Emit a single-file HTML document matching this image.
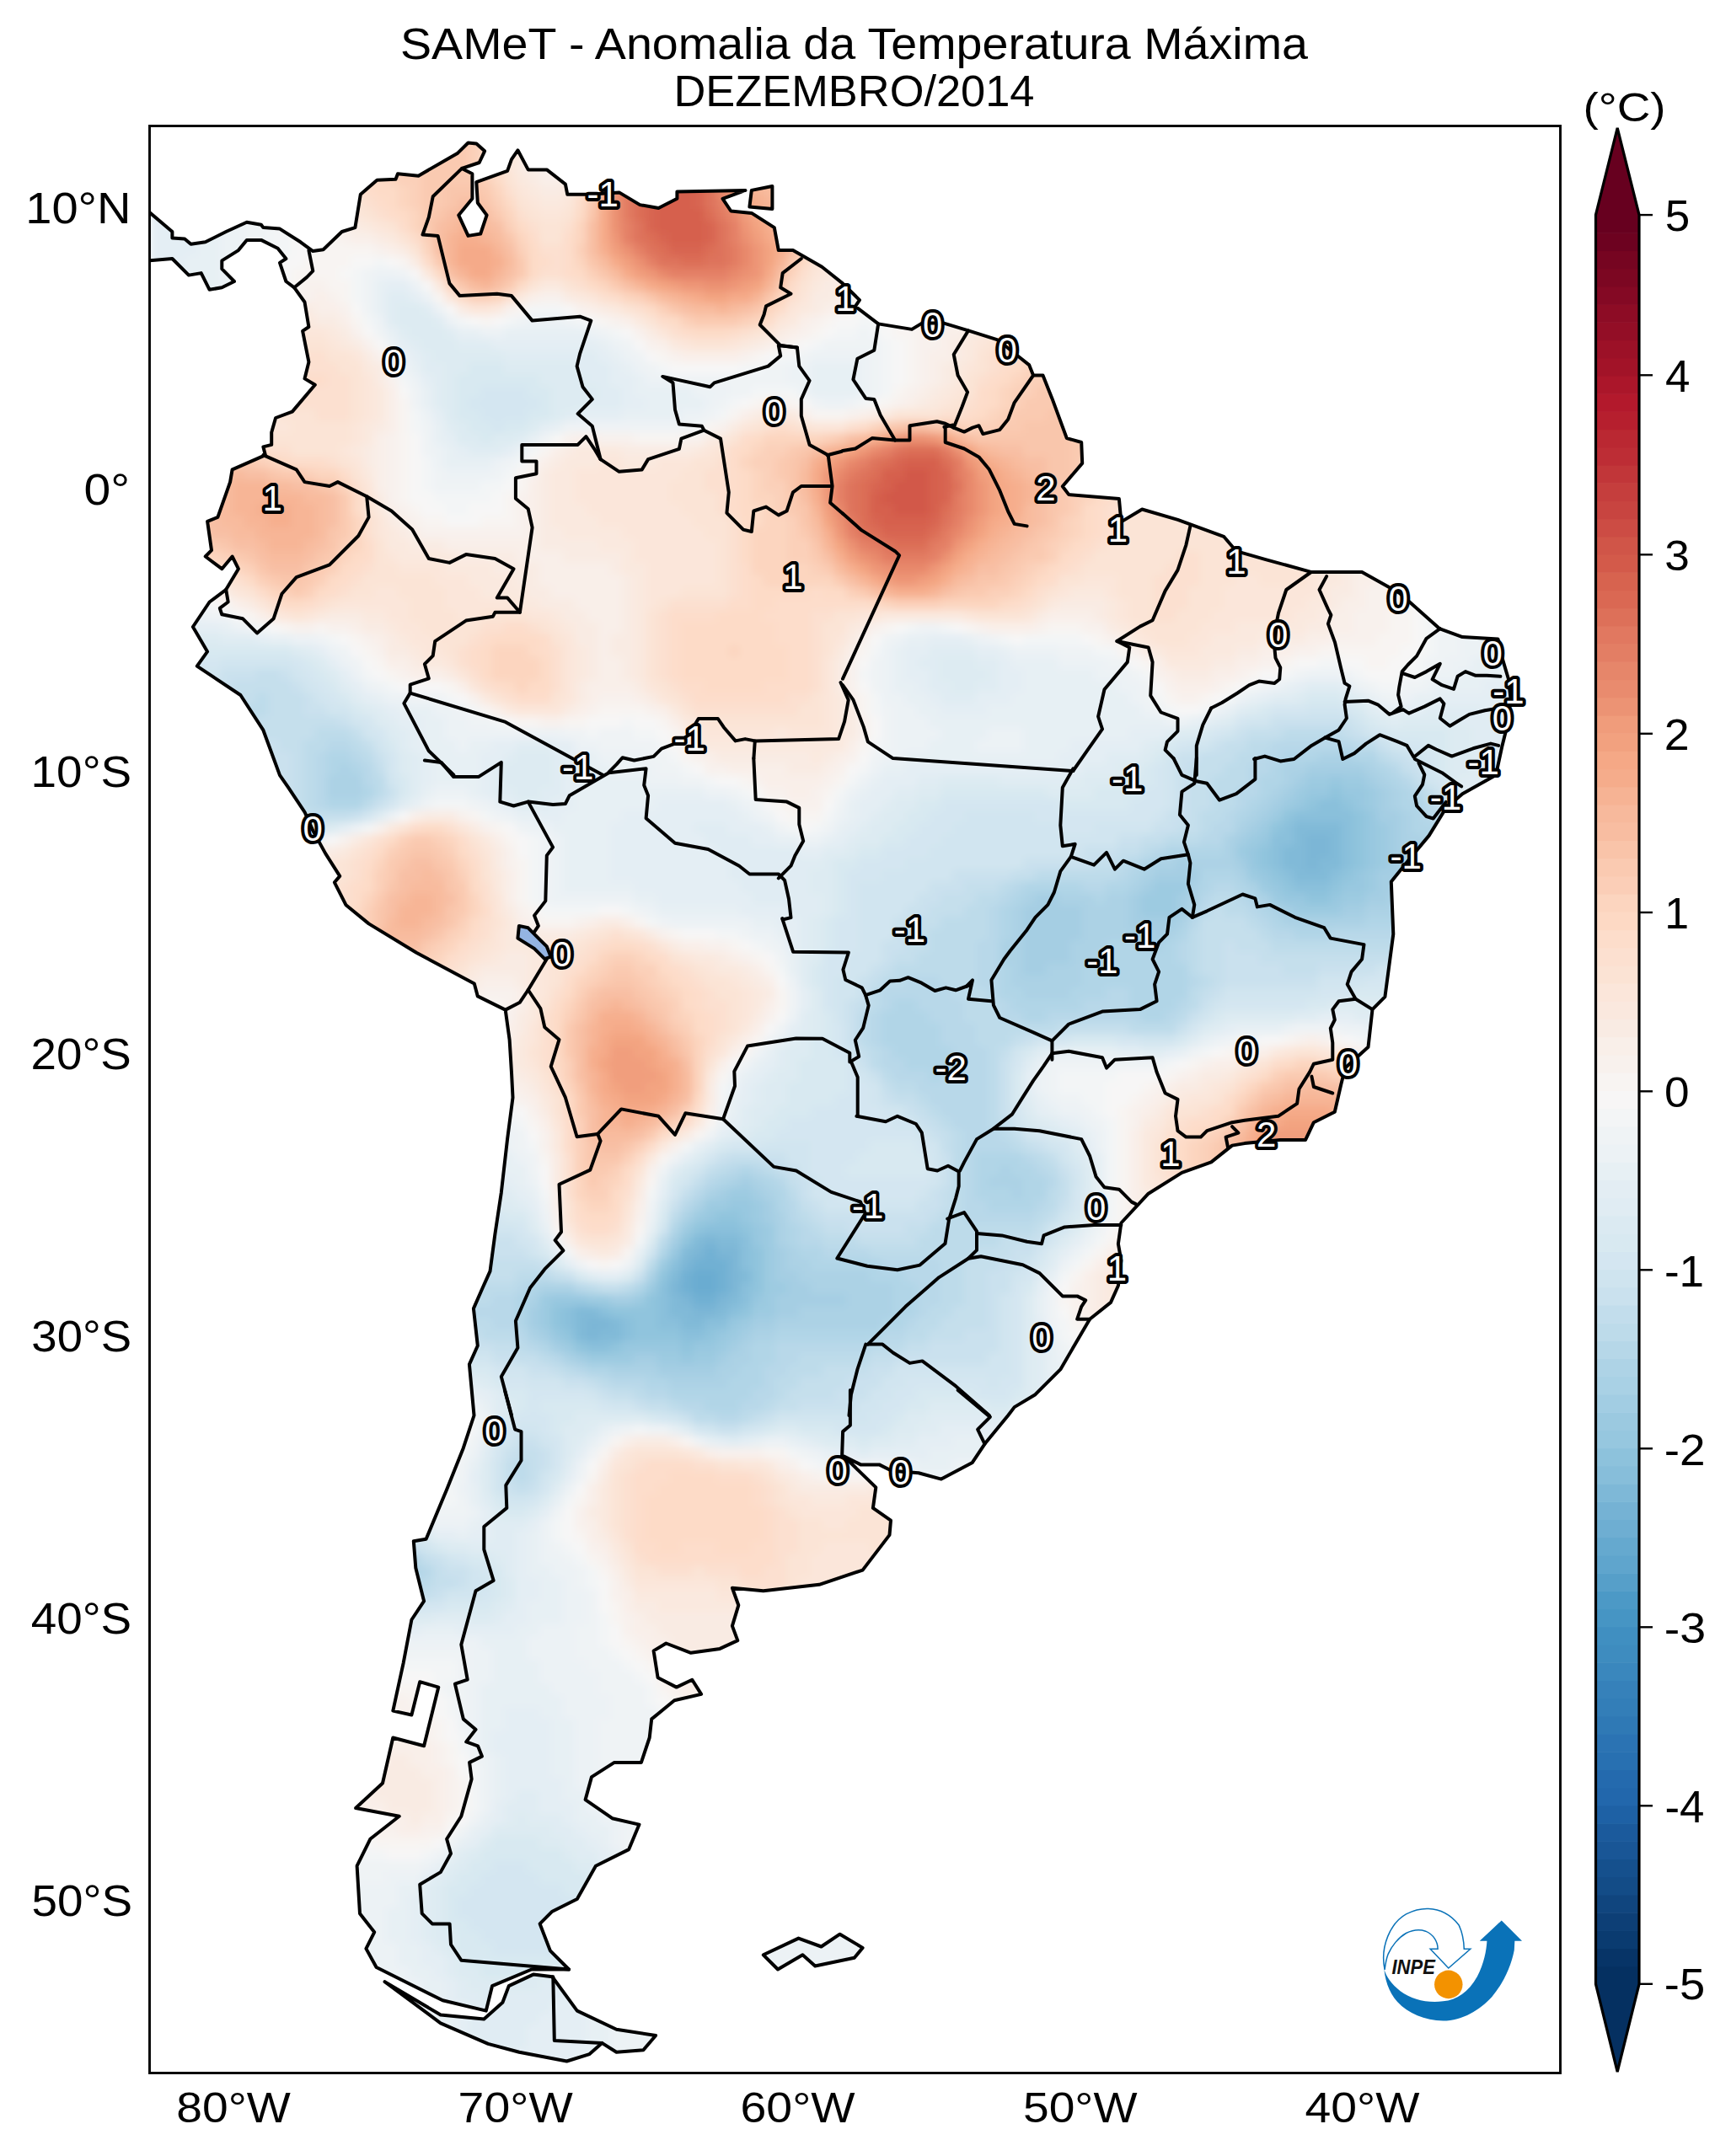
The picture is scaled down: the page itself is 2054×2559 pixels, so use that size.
<!DOCTYPE html><html><head><meta charset="utf-8"><style>html,body{margin:0;padding:0;background:#fff;overflow:hidden}svg{display:block}</style></head><body>
<svg width="2054" height="2559" viewBox="0 0 2054 2559">
<style>text{font-family:"Liberation Sans",sans-serif}</style>
<defs>
<clipPath id="fr"><rect x="178" y="150" width="1673" height="2310"/></clipPath>
<clipPath id="land"><path d="M120.0,309.4 L177.4,252.0 L204.4,275.0 L204.4,282.4 L219.1,283.4 L226.5,289.8 L243.7,287.3 L268.2,275.0 L292.8,263.7 L309.9,266.7 L312.4,270.1 L332.0,271.6 L356.6,287.3 L371.3,298.1 L383.6,296.2 L405.7,275.0 L421.4,270.1 L427.8,230.8 L447.4,213.7 L469.5,212.7 L472.0,206.3 L496.5,208.7 L543.2,181.7 L555.5,169.5 L565.3,170.4 L575.1,179.3 L568.7,193.0 L548.1,199.9 L560.4,206.3 L560.4,235.8 L544.2,255.4 L555.5,279.9 L570.2,277.5 L577.6,255.4 L566.8,240.7 L565.3,216.1 L602.1,202.9 L607.0,189.1 L614.4,178.3 L626.7,201.4 L648.8,201.4 L670.9,218.6 L673.3,230.8 L697.9,230.8 L734.7,228.4 L759.3,243.1 L781.4,247.0 L803.4,235.8 L803.4,227.4 L884.5,225.9 L857.5,235.8 L867.3,250.5 L891.8,252.9 L918.8,270.1 L923.8,297.1 L940.9,297.1 L975.3,316.8 L999.9,336.4 L1020.0,356.1 L1014.9,363.6 L1042.2,384.4 L1082.0,390.9 L1094.4,383.4 L1119.2,383.4 L1149.0,392.4 L1183.8,403.3 L1208.7,423.2 L1221.1,433.1 L1226.1,445.5 L1237.5,445.5 L1248.4,472.9 L1265.8,520.1 L1283.2,525.0 L1284.2,549.9 L1260.8,577.2 L1268.3,587.1 L1327.9,592.1 L1330.4,619.4 L1355.2,604.5 L1397.5,616.9 L1452.1,636.8 L1467.0,654.2 L1501.8,664.1 L1556.4,679.1 L1616.1,679.1 L1660.8,703.9 L1708.0,746.1 L1735.3,756.1 L1777.5,758.5 L1782.5,780.9 L1789.9,805.7 L1792.4,828.1 L1789.9,855.4 L1782.5,885.2 L1775.0,920.0 L1735.3,942.2 L1715.4,959.6 L1695.6,991.9 L1670.7,1021.7 L1650.8,1046.6 L1653.3,1108.7 L1643.4,1183.2 L1628.5,1198.1 L1623.5,1242.8 L1596.2,1267.6 L1591.2,1287.5 L1583.8,1319.8 L1558.9,1332.2 L1549.0,1353.1 L1519.2,1353.1 L1476.9,1357.1 L1462.0,1359.6 L1437.2,1379.4 L1402.4,1391.9 L1362.7,1416.7 L1330.4,1451.5 L1326.9,1476.3 L1330.4,1496.2 L1326.9,1526.0 L1318.0,1545.9 L1293.1,1565.7 L1258.3,1625.4 L1228.5,1655.2 L1203.7,1670.1 L1196.2,1680.0 L1168.5,1713.8 L1153.8,1735.9 L1116.9,1755.6 L1089.9,1748.2 L1058.0,1745.8 L1043.3,1738.4 L1021.2,1738.4 L1001.5,1728.6 L1039.3,1765.4 L1035.9,1789.9 L1057.0,1804.7 L1055.5,1821.9 L1023.6,1863.6 L972.1,1880.8 L905.8,1888.2 L868.9,1884.7 L876.3,1905.3 L868.9,1929.9 L875.3,1947.1 L854.2,1956.9 L819.8,1961.8 L790.4,1950.5 L775.6,1959.4 L780.6,1991.3 L802.7,2002.6 L821.3,1993.7 L832.1,2010.9 L800.2,2018.3 L773.2,2040.4 L770.7,2062.5 L760.9,2091.9 L729.0,2091.9 L702.0,2109.1 L694.6,2136.1 L726.5,2158.2 L758.5,2165.6 L746.2,2195.1 L706.9,2214.7 L684.8,2254.0 L655.3,2268.7 L640.6,2283.4 L652.9,2315.4 L675.0,2337.5 L630.8,2337.5 L584.1,2357.1 L576.8,2386.6 L525.2,2374.3 L446.6,2335.0 L434.4,2312.9 L444.2,2293.3 L427.0,2271.2 L423.6,2214.7 L439.3,2182.8 L473.7,2155.8 L422.1,2146.0 L454.0,2116.5 L466.3,2062.5 L503.1,2072.3 L520.3,2002.6 L498.2,1996.2 L488.4,2035.5 L466.3,2030.6 L478.6,1974.1 L488.4,1922.5 L503.1,1900.4 L493.3,1861.1 L490.8,1829.2 L505.6,1826.8 L530.1,1767.9 L549.8,1718.7 L562.5,1680.0 L556.9,1619.4 L566.8,1597.3 L561.9,1553.1 L572.7,1528.5 L581.5,1508.9 L587.4,1464.7 L594.8,1415.6 L602.1,1351.8 L608.5,1302.7 L607.0,1273.2 L604.6,1233.9 L599.7,1198.6 L566.8,1182.4 L562.8,1167.6 L494.1,1130.8 L437.6,1096.4 L410.6,1074.3 L396.9,1047.3 L403.2,1039.9 L386.1,1012.9 L371.3,985.9 L361.5,963.8 L341.9,934.4 L332.0,920.1 L312.4,866.7 L285.4,825.0 L233.8,790.6 L246.1,773.4 L228.9,744.0 L248.6,714.5 L268.2,699.8 L282.9,675.2 L275.6,660.5 L263.3,675.2 L243.7,660.5 L251.0,653.1 L246.1,618.8 L258.4,613.9 L273.1,572.1 L275.6,557.4 L314.9,540.2 L312.4,530.4 L322.2,527.9 L322.2,513.2 L327.1,496.0 L346.8,488.6 L373.8,456.7 L361.5,449.4 L366.4,429.7 L359.1,392.9 L366.4,388.0 L361.5,358.5 L349.2,341.3 L339.4,334.0 L332.0,311.9 L339.4,307.0 L329.6,294.7 L309.9,284.9 L292.8,284.9 L282.9,297.1 L263.3,309.4 L263.3,319.2 L278.0,334.0 L263.3,341.3 L248.6,343.8 L238.7,324.1 L224.0,326.6 L204.4,307.0 L177.4,309.4 L120.0,252.0Z M889.4,245.6 L891.8,225.9 L916.4,221.0 L916.4,248.0Z M456.5,2352.2 L522.8,2391.5 L574.3,2396.4 L596.4,2376.7 L603.8,2357.1 L633.2,2343.4 L655.3,2346.3 L684.8,2386.6 L731.5,2408.7 L778.1,2416.0 L763.4,2433.2 L731.5,2435.7 L714.3,2424.9 L699.5,2438.1 L672.5,2446.5 L616.1,2435.7 L579.2,2425.9 L522.8,2401.3Z M905.8,2320.3 L947.5,2300.6 L974.5,2310.5 L996.6,2295.7 L1023.6,2311.9 L1013.8,2323.7 L967.2,2333.5 L952.4,2320.3 L923.0,2337.5Z"/></clipPath>
<filter id="bl" x="-5%" y="-5%" width="110%" height="110%"><feGaussianBlur stdDeviation="5"/></filter>
</defs>
<rect width="2054" height="2559" fill="#fff"/>
<text x="1013.5" y="70" font-size="51" text-anchor="middle" textLength="1077" lengthAdjust="spacingAndGlyphs">SAMeT - Anomalia da Temperatura Máxima</text>
<text x="1013.5" y="126" font-size="51" text-anchor="middle" textLength="428" lengthAdjust="spacingAndGlyphs">DEZEMBRO/2014</text>
<g clip-path="url(#fr)">
<g clip-path="url(#land)">
<g filter="url(#bl)">
<path fill="#facab1" d="M528 150h14v14h-14zM514 164h42v14h-42zM486 178h70v14h-70zM500 192h56v14h-56zM500 206h70v14h-70zM500 220h28v14h-28zM570 220h14v14h-14zM500 234h28v14h-28zM696 234h14v14h-14zM500 248h14v14h-14zM584 248h14v14h-14zM500 262h14v14h-14zM948 276h14v14h-14zM514 304h14v14h-14zM612 304h14v14h-14zM934 304h14v14h-14zM612 318h14v14h-14zM598 332h14v14h-14zM724 332h14v14h-14zM920 332h14v14h-14zM822 374h56v14h-56zM1242 444h28v14h-28zM1228 458h42v14h-42zM1214 472h70v14h-70zM1200 486h42v14h-42zM1270 486h14v14h-14zM1046 500h14v14h-14zM1116 500h14v14h-14zM1186 500h28v14h-28zM1270 500h28v14h-28zM990 514h14v14h-14zM1270 514h28v14h-28zM934 528h14v14h-14zM1270 528h28v14h-28zM248 542h14v14h-14zM276 542h28v14h-28zM920 542h14v14h-14zM1270 542h14v14h-14zM332 556h28v14h-28zM920 556h14v14h-14zM1270 556h14v14h-14zM388 570h14v14h-14zM1256 570h14v14h-14zM402 584h14v14h-14zM934 584h14v14h-14zM1256 584h14v14h-14zM402 598h14v14h-14zM934 598h14v14h-14zM1256 598h14v14h-14zM402 612h14v14h-14zM220 626h14v14h-14zM402 626h14v14h-14zM948 626h14v14h-14zM1242 626h14v14h-14zM234 640h28v14h-28zM1228 640h14v14h-14zM276 654h14v14h-14zM388 654h14v14h-14zM962 654h14v14h-14zM1214 654h28v14h-28zM374 668h14v14h-14zM976 668h14v14h-14zM1200 668h14v14h-14zM318 682h14v14h-14zM360 682h14v14h-14zM990 682h14v14h-14zM1186 682h14v14h-14zM346 696h14v14h-14zM1018 696h14v14h-14zM1144 696h28v14h-28zM486 990h28v14h-28zM472 1004h14v14h-14zM514 1004h14v14h-14zM458 1018h14v14h-14zM528 1018h14v14h-14zM458 1032h14v14h-14zM542 1046h14v14h-14zM444 1060h14v14h-14zM542 1060h14v14h-14zM542 1074h14v14h-14zM430 1102h14v14h-14zM500 1116h14v14h-14zM486 1130h14v14h-14zM724 1144h28v14h-28zM710 1158h14v14h-14zM752 1158h14v14h-14zM766 1172h14v14h-14zM682 1186h14v14h-14zM780 1186h14v14h-14zM668 1214h14v14h-14zM794 1214h14v14h-14zM668 1228h14v14h-14zM808 1228h14v14h-14zM668 1242h14v14h-14zM1522 1270h56v14h-56zM1494 1284h14v14h-14zM1606 1284h14v14h-14zM682 1298h14v14h-14zM1480 1298h14v14h-14zM682 1312h14v14h-14zM1466 1312h14v14h-14zM766 1340h14v14h-14zM1438 1354h14v14h-14zM1438 1368h14v14h-14zM696 1382h28v14h-28zM696 1396h14v14h-14zM1438 1396h14v14h-14z"/>
<path fill="#fbd0b9" d="M542 150h14v14h-14zM556 164h14v14h-14zM556 178h14v14h-14zM472 192h28v14h-28zM556 192h14v14h-14zM472 206h28v14h-28zM570 206h14v14h-14zM486 220h14v14h-14zM696 220h14v14h-14zM486 234h14v14h-14zM584 234h14v14h-14zM598 262h14v14h-14zM500 276h14v14h-14zM612 290h14v14h-14zM682 290h14v14h-14zM948 290h14v14h-14zM696 318h14v14h-14zM556 346h28v14h-28zM752 346h14v14h-14zM780 360h14v14h-14zM808 374h14v14h-14zM878 374h14v14h-14zM1228 430h28v14h-28zM1214 444h28v14h-28zM1200 458h28v14h-28zM1200 472h14v14h-14zM1186 486h14v14h-14zM1130 500h14v14h-14zM1158 500h28v14h-28zM976 514h14v14h-14zM906 528h28v14h-28zM304 542h14v14h-14zM892 542h28v14h-28zM1284 542h14v14h-14zM360 556h14v14h-14zM906 556h14v14h-14zM1284 556h14v14h-14zM906 570h28v14h-28zM1270 570h14v14h-14zM920 584h14v14h-14zM1270 584h14v14h-14zM920 598h14v14h-14zM1270 598h14v14h-14zM934 612h14v14h-14zM1256 612h14v14h-14zM934 626h14v14h-14zM1256 626h14v14h-14zM220 640h14v14h-14zM402 640h14v14h-14zM934 640h28v14h-28zM1242 640h14v14h-14zM262 654h14v14h-14zM934 654h28v14h-28zM1242 654h14v14h-14zM290 668h14v14h-14zM388 668h14v14h-14zM962 668h14v14h-14zM1214 668h14v14h-14zM304 682h14v14h-14zM374 682h14v14h-14zM1200 682h14v14h-14zM332 696h14v14h-14zM360 696h14v14h-14zM1004 696h14v14h-14zM1172 696h28v14h-28zM1060 710h56v14h-56zM472 990h14v14h-14zM514 990h14v14h-14zM458 1004h14v14h-14zM528 1004h14v14h-14zM444 1032h14v14h-14zM542 1032h14v14h-14zM444 1046h14v14h-14zM430 1074h14v14h-14zM430 1088h14v14h-14zM542 1088h14v14h-14zM528 1102h14v14h-14zM514 1116h14v14h-14zM500 1130h14v14h-14zM724 1130h28v14h-28zM472 1144h14v14h-14zM710 1144h14v14h-14zM752 1144h28v14h-28zM696 1158h14v14h-14zM766 1158h14v14h-14zM682 1172h14v14h-14zM780 1172h14v14h-14zM794 1186h14v14h-14zM668 1200h14v14h-14zM794 1200h14v14h-14zM808 1214h14v14h-14zM668 1256h14v14h-14zM668 1270h14v14h-14zM1508 1270h14v14h-14zM1578 1270h14v14h-14zM808 1312h14v14h-14zM682 1326h14v14h-14zM794 1326h14v14h-14zM1452 1326h14v14h-14zM682 1340h14v14h-14zM1438 1340h14v14h-14zM682 1354h14v14h-14zM752 1354h14v14h-14zM1424 1354h14v14h-14zM682 1368h14v14h-14zM738 1368h14v14h-14zM1424 1368h14v14h-14zM682 1382h14v14h-14zM724 1382h14v14h-14zM1424 1382h14v14h-14zM710 1396h14v14h-14zM1424 1396h14v14h-14zM696 1410h28v14h-28z"/>
<path fill="#fcd5bf" d="M556 150h14v14h-14zM444 192h28v14h-28zM570 192h14v14h-14zM458 206h14v14h-14zM696 206h14v14h-14zM472 220h14v14h-14zM584 220h14v14h-14zM472 234h14v14h-14zM486 248h14v14h-14zM598 248h14v14h-14zM486 262h14v14h-14zM682 262h14v14h-14zM612 276h14v14h-14zM682 276h14v14h-14zM962 276h14v14h-14zM500 290h14v14h-14zM682 304h14v14h-14zM934 318h14v14h-14zM528 332h14v14h-14zM710 332h14v14h-14zM584 346h14v14h-14zM738 346h14v14h-14zM920 346h14v14h-14zM906 360h14v14h-14zM892 374h14v14h-14zM1228 416h14v14h-14zM1214 430h14v14h-14zM1200 444h14v14h-14zM1186 458h14v14h-14zM1186 472h14v14h-14zM1172 486h14v14h-14zM1032 500h14v14h-14zM1144 500h14v14h-14zM906 514h70v14h-70zM892 528h14v14h-14zM318 542h14v14h-14zM878 542h14v14h-14zM374 556h28v14h-28zM892 556h14v14h-14zM402 570h14v14h-14zM892 570h14v14h-14zM1284 570h14v14h-14zM892 584h28v14h-28zM1284 584h14v14h-14zM906 598h14v14h-14zM416 612h14v14h-14zM906 612h28v14h-28zM1270 612h14v14h-14zM416 626h14v14h-14zM892 626h42v14h-42zM1270 626h14v14h-14zM416 640h14v14h-14zM892 640h42v14h-42zM1256 640h14v14h-14zM234 654h28v14h-28zM402 654h14v14h-14zM892 654h42v14h-42zM276 668h14v14h-14zM892 668h70v14h-70zM1228 668h14v14h-14zM906 682h84v14h-84zM1214 682h14v14h-14zM318 696h14v14h-14zM1200 696h14v14h-14zM1046 710h14v14h-14zM1116 710h70v14h-70zM584 766h42v14h-42zM864 766h14v14h-14zM584 780h56v14h-56zM584 794h56v14h-56zM612 808h14v14h-14zM528 990h14v14h-14zM444 1018h14v14h-14zM542 1018h14v14h-14zM430 1060h14v14h-14zM556 1060h14v14h-14zM556 1074h14v14h-14zM416 1102h14v14h-14zM542 1102h14v14h-14zM528 1116h14v14h-14zM514 1130h14v14h-14zM710 1130h14v14h-14zM752 1130h14v14h-14zM486 1144h14v14h-14zM696 1144h14v14h-14zM682 1158h14v14h-14zM780 1158h14v14h-14zM794 1172h14v14h-14zM668 1186h14v14h-14zM808 1200h14v14h-14zM822 1228h14v14h-14zM822 1242h14v14h-14zM822 1256h14v14h-14zM1536 1256h28v14h-28zM822 1270h14v14h-14zM1592 1270h14v14h-14zM668 1284h14v14h-14zM822 1284h14v14h-14zM1480 1284h14v14h-14zM1466 1298h14v14h-14zM1424 1340h14v14h-14zM1410 1354h14v14h-14zM1410 1368h14v14h-14zM1410 1382h14v14h-14zM682 1396h14v14h-14zM724 1396h14v14h-14zM1410 1396h14v14h-14zM682 1410h14v14h-14zM696 1424h28v14h-28z"/>
<path fill="#fdddcb" d="M570 150h14v14h-14zM584 192h14v14h-14zM416 206h14v14h-14zM430 220h14v14h-14zM444 234h14v14h-14zM682 234h14v14h-14zM458 248h14v14h-14zM472 262h14v14h-14zM486 276h14v14h-14zM626 276h14v14h-14zM668 276h14v14h-14zM668 290h14v14h-14zM962 290h14v14h-14zM500 304h14v14h-14zM640 304h14v14h-14zM668 304h14v14h-14zM668 318h14v14h-14zM934 332h14v14h-14zM724 346h14v14h-14zM920 360h14v14h-14zM780 374h14v14h-14zM906 374h14v14h-14zM808 388h14v14h-14zM864 388h14v14h-14zM1200 402h28v14h-28zM1186 416h28v14h-28zM1186 430h14v14h-14zM346 444h42v14h-42zM1172 444h14v14h-14zM1158 458h14v14h-14zM1158 472h14v14h-14zM1144 486h14v14h-14zM920 500h14v14h-14zM1018 500h14v14h-14zM878 514h14v14h-14zM290 528h28v14h-28zM864 528h14v14h-14zM346 542h42v14h-42zM864 542h14v14h-14zM402 556h14v14h-14zM864 556h14v14h-14zM864 570h14v14h-14zM1312 570h14v14h-14zM864 584h14v14h-14zM1312 584h14v14h-14zM864 598h14v14h-14zM1298 598h14v14h-14zM1298 612h14v14h-14zM1298 626h14v14h-14zM430 640h14v14h-14zM1284 640h14v14h-14zM430 654h14v14h-14zM1270 654h14v14h-14zM248 668h14v14h-14zM416 668h14v14h-14zM878 668h14v14h-14zM1256 668h14v14h-14zM402 682h14v14h-14zM878 682h14v14h-14zM1242 682h14v14h-14zM304 696h14v14h-14zM388 696h14v14h-14zM878 696h14v14h-14zM962 696h14v14h-14zM360 710h14v14h-14zM864 710h28v14h-28zM920 710h112v14h-112zM1200 710h14v14h-14zM794 724h56v14h-56zM906 724h56v14h-56zM598 738h28v14h-28zM794 738h14v14h-14zM920 738h42v14h-42zM570 752h14v14h-14zM640 752h14v14h-14zM794 752h14v14h-14zM920 752h42v14h-42zM556 766h14v14h-14zM640 766h14v14h-14zM794 766h14v14h-14zM934 766h28v14h-28zM556 780h14v14h-14zM794 780h14v14h-14zM934 780h28v14h-28zM794 794h14v14h-14zM934 794h28v14h-28zM584 808h14v14h-14zM808 808h28v14h-28zM906 808h56v14h-56zM612 822h42v14h-42zM822 822h112v14h-112zM486 976h14v14h-14zM542 990h14v14h-14zM430 1018h14v14h-14zM556 1018h14v14h-14zM416 1046h14v14h-14zM416 1060h14v14h-14zM570 1074h14v14h-14zM402 1088h14v14h-14zM402 1102h14v14h-14zM556 1102h14v14h-14zM542 1116h14v14h-14zM710 1116h14v14h-14zM752 1116h14v14h-14zM528 1130h14v14h-14zM696 1130h14v14h-14zM780 1130h14v14h-14zM514 1144h14v14h-14zM682 1144h14v14h-14zM794 1144h14v14h-14zM500 1158h14v14h-14zM668 1158h14v14h-14zM808 1158h14v14h-14zM822 1172h14v14h-14zM654 1186h14v14h-14zM822 1186h14v14h-14zM836 1200h14v14h-14zM836 1214h14v14h-14zM836 1228h14v14h-14zM1508 1256h14v14h-14zM1578 1256h14v14h-14zM654 1270h14v14h-14zM1606 1270h14v14h-14zM1466 1284h14v14h-14zM1452 1298h14v14h-14zM1438 1312h14v14h-14zM668 1326h14v14h-14zM808 1326h14v14h-14zM1410 1326h28v14h-28zM668 1340h14v14h-14zM1396 1340h14v14h-14zM668 1354h14v14h-14zM766 1354h14v14h-14zM752 1368h14v14h-14zM738 1396h14v14h-14zM1396 1396h14v14h-14zM1396 1410h14v14h-14zM682 1438h14v14h-14zM724 1438h14v14h-14zM696 1452h28v14h-28zM766 1732h56v14h-56zM752 1746h42v14h-42zM850 1746h42v14h-42zM752 1760h28v14h-28zM892 1760h14v14h-14zM752 1774h14v14h-14zM892 1774h14v14h-14zM752 1788h14v14h-14zM906 1788h14v14h-14zM752 1802h14v14h-14zM906 1802h14v14h-14zM752 1816h14v14h-14zM906 1816h14v14h-14zM752 1830h28v14h-28zM808 1830h42v14h-42zM892 1830h28v14h-28zM766 1844h154v14h-154zM878 1858h28v14h-28z"/>
<path fill="#fbe4d6" d="M584 150h14v14h-14zM584 164h14v14h-14zM598 206h14v14h-14zM682 206h14v14h-14zM402 220h14v14h-14zM416 234h14v14h-14zM612 234h14v14h-14zM430 248h14v14h-14zM626 248h14v14h-14zM668 248h14v14h-14zM458 262h14v14h-14zM640 262h28v14h-28zM472 276h14v14h-14zM640 276h28v14h-28zM486 290h14v14h-14zM976 290h14v14h-14zM962 304h14v14h-14zM626 332h14v14h-14zM668 332h14v14h-14zM948 332h14v14h-14zM738 360h14v14h-14zM766 374h14v14h-14zM892 388h14v14h-14zM1186 388h14v14h-14zM332 402h56v14h-56zM822 402h42v14h-42zM1172 402h14v14h-14zM388 416h28v14h-28zM1158 416h14v14h-14zM402 430h28v14h-28zM1158 430h14v14h-14zM416 444h14v14h-14zM1144 444h14v14h-14zM416 458h14v14h-14zM1144 458h14v14h-14zM318 472h28v14h-28zM416 472h14v14h-14zM1130 472h14v14h-14zM332 486h42v14h-42zM416 486h14v14h-14zM1060 486h56v14h-56zM346 500h70v14h-70zM892 500h14v14h-14zM948 500h14v14h-14zM290 514h126v14h-126zM864 514h14v14h-14zM346 528h56v14h-56zM850 528h14v14h-14zM402 542h14v14h-14zM822 542h28v14h-28zM416 556h14v14h-14zM808 556h28v14h-28zM794 570h42v14h-42zM1340 570h14v14h-14zM430 584h14v14h-14zM794 584h56v14h-56zM1340 584h28v14h-28zM430 598h14v14h-14zM808 598h42v14h-42zM1340 598h28v14h-28zM822 612h42v14h-42zM1326 612h70v14h-70zM836 626h28v14h-28zM1326 626h126v14h-126zM444 640h14v14h-14zM850 640h14v14h-14zM1312 640h154v14h-154zM1494 640h42v14h-42zM444 654h14v14h-14zM850 654h14v14h-14zM1298 654h98v14h-98zM1424 654h126v14h-126zM220 668h14v14h-14zM444 668h28v14h-28zM850 668h14v14h-14zM1284 668h98v14h-98zM1424 668h126v14h-126zM262 682h14v14h-14zM430 682h84v14h-84zM850 682h14v14h-14zM1256 682h28v14h-28zM1326 682h42v14h-42zM1424 682h42v14h-42zM1494 682h56v14h-56zM290 696h14v14h-14zM416 696h28v14h-28zM472 696h56v14h-56zM808 696h56v14h-56zM1242 696h14v14h-14zM1326 696h42v14h-42zM1410 696h42v14h-42zM388 710h14v14h-14zM486 710h42v14h-42zM780 710h14v14h-14zM1228 710h14v14h-14zM1340 710h28v14h-28zM1410 710h42v14h-42zM346 724h14v14h-14zM486 724h56v14h-56zM570 724h56v14h-56zM766 724h14v14h-14zM990 724h28v14h-28zM1158 724h56v14h-56zM1340 724h28v14h-28zM1396 724h42v14h-42zM500 738h70v14h-70zM640 738h14v14h-14zM766 738h14v14h-14zM976 738h28v14h-28zM1354 738h70v14h-70zM514 752h42v14h-42zM654 752h14v14h-14zM766 752h14v14h-14zM976 752h14v14h-14zM1368 752h42v14h-42zM528 766h14v14h-14zM766 766h14v14h-14zM976 766h14v14h-14zM766 780h14v14h-14zM766 794h14v14h-14zM780 808h14v14h-14zM584 822h14v14h-14zM654 822h14v14h-14zM794 822h14v14h-14zM962 822h14v14h-14zM808 836h14v14h-14zM948 836h28v14h-28zM836 850h140v14h-140zM472 976h14v14h-14zM556 990h14v14h-14zM416 1004h14v14h-14zM402 1018h14v14h-14zM570 1018h14v14h-14zM402 1032h14v14h-14zM570 1032h14v14h-14zM388 1046h14v14h-14zM388 1060h14v14h-14zM388 1074h14v14h-14zM388 1088h14v14h-14zM584 1088h14v14h-14zM710 1102h14v14h-14zM738 1102h14v14h-14zM570 1116h14v14h-14zM682 1116h14v14h-14zM556 1130h14v14h-14zM668 1130h14v14h-14zM794 1130h14v14h-14zM542 1144h14v14h-14zM654 1144h14v14h-14zM822 1144h14v14h-14zM528 1158h14v14h-14zM654 1158h14v14h-14zM836 1158h28v14h-28zM850 1172h28v14h-28zM640 1186h14v14h-14zM864 1186h14v14h-14zM864 1200h14v14h-14zM864 1214h14v14h-14zM850 1228h14v14h-14zM626 1242h14v14h-14zM1536 1242h28v14h-28zM836 1256h14v14h-14zM1494 1256h14v14h-14zM640 1270h14v14h-14zM1466 1270h14v14h-14zM1452 1284h14v14h-14zM654 1298h14v14h-14zM1438 1298h14v14h-14zM654 1312h14v14h-14zM1396 1312h28v14h-28zM1382 1326h14v14h-14zM794 1340h14v14h-14zM1368 1354h14v14h-14zM1368 1368h14v14h-14zM752 1382h14v14h-14zM1368 1382h14v14h-14zM1382 1410h14v14h-14zM668 1424h14v14h-14zM738 1424h14v14h-14zM1382 1424h14v14h-14zM668 1438h14v14h-14zM696 1466h28v14h-28zM752 1718h56v14h-56zM738 1732h14v14h-14zM850 1732h28v14h-28zM724 1746h14v14h-14zM906 1746h14v14h-14zM724 1760h14v14h-14zM920 1760h14v14h-14zM724 1774h14v14h-14zM920 1774h14v14h-14zM724 1788h14v14h-14zM934 1788h14v14h-14zM1018 1788h42v14h-42zM724 1802h14v14h-14zM948 1802h28v14h-28zM1004 1802h70v14h-70zM948 1816h126v14h-126zM738 1830h14v14h-14zM948 1830h28v14h-28zM1032 1830h42v14h-42zM934 1844h28v14h-28zM752 1858h28v14h-28zM822 1858h14v14h-14zM934 1858h28v14h-28zM850 1872h28v14h-28zM934 1872h14v14h-14zM892 1886h42v14h-42z"/>
<path fill="#fddbc7" d="M570 164h14v14h-14zM570 178h14v14h-14zM416 192h28v14h-28zM430 206h28v14h-28zM584 206h14v14h-14zM444 220h28v14h-28zM458 234h14v14h-14zM598 234h14v14h-14zM472 248h14v14h-14zM682 248h14v14h-14zM612 262h14v14h-14zM626 290h14v14h-14zM626 304h14v14h-14zM948 304h14v14h-14zM514 318h14v14h-14zM626 318h14v14h-14zM682 318h14v14h-14zM612 332h14v14h-14zM696 332h14v14h-14zM542 346h14v14h-14zM766 360h14v14h-14zM794 374h14v14h-14zM822 388h42v14h-42zM1228 402h14v14h-14zM1214 416h14v14h-14zM1200 430h14v14h-14zM1186 444h14v14h-14zM1172 458h14v14h-14zM1172 472h14v14h-14zM1158 486h14v14h-14zM892 514h14v14h-14zM262 528h28v14h-28zM878 528h14v14h-14zM332 542h14v14h-14zM878 556h14v14h-14zM878 570h14v14h-14zM1298 570h14v14h-14zM416 584h14v14h-14zM878 584h14v14h-14zM1298 584h14v14h-14zM416 598h14v14h-14zM878 598h28v14h-28zM1284 598h14v14h-14zM878 612h28v14h-28zM1284 612h14v14h-14zM878 626h14v14h-14zM1284 626h14v14h-14zM878 640h14v14h-14zM1270 640h14v14h-14zM220 654h14v14h-14zM416 654h14v14h-14zM878 654h14v14h-14zM1256 654h14v14h-14zM262 668h14v14h-14zM402 668h14v14h-14zM1242 668h14v14h-14zM290 682h14v14h-14zM388 682h14v14h-14zM892 682h14v14h-14zM1228 682h14v14h-14zM374 696h14v14h-14zM892 696h70v14h-70zM976 696h28v14h-28zM1214 696h14v14h-14zM332 710h28v14h-28zM892 710h28v14h-28zM1032 710h14v14h-14zM1186 710h14v14h-14zM850 724h56v14h-56zM808 738h112v14h-112zM584 752h56v14h-56zM808 752h112v14h-112zM570 766h14v14h-14zM626 766h14v14h-14zM808 766h56v14h-56zM878 766h56v14h-56zM570 780h14v14h-14zM640 780h14v14h-14zM808 780h126v14h-126zM570 794h14v14h-14zM640 794h14v14h-14zM808 794h126v14h-126zM598 808h14v14h-14zM626 808h28v14h-28zM836 808h70v14h-70zM500 976h28v14h-28zM458 990h14v14h-14zM444 1004h14v14h-14zM542 1004h14v14h-14zM430 1032h14v14h-14zM556 1032h14v14h-14zM430 1046h14v14h-14zM556 1046h14v14h-14zM416 1074h14v14h-14zM416 1088h14v14h-14zM556 1088h14v14h-14zM724 1116h28v14h-28zM766 1130h14v14h-14zM500 1144h14v14h-14zM780 1144h14v14h-14zM794 1158h14v14h-14zM668 1172h14v14h-14zM808 1172h14v14h-14zM808 1186h14v14h-14zM654 1200h14v14h-14zM822 1200h14v14h-14zM654 1214h14v14h-14zM822 1214h14v14h-14zM654 1228h14v14h-14zM654 1242h14v14h-14zM654 1256h14v14h-14zM1522 1256h14v14h-14zM1564 1256h14v14h-14zM1494 1270h14v14h-14zM668 1298h14v14h-14zM822 1298h14v14h-14zM668 1312h14v14h-14zM1452 1312h14v14h-14zM1438 1326h14v14h-14zM780 1340h14v14h-14zM1410 1340h14v14h-14zM1396 1354h14v14h-14zM1396 1368h14v14h-14zM738 1382h14v14h-14zM1396 1382h14v14h-14zM724 1410h14v14h-14zM682 1424h14v14h-14zM724 1424h14v14h-14zM696 1438h28v14h-28zM794 1746h56v14h-56zM780 1760h112v14h-112zM766 1774h126v14h-126zM766 1788h140v14h-140zM766 1802h140v14h-140zM766 1816h140v14h-140zM780 1830h28v14h-28zM850 1830h42v14h-42z"/>
<path fill="#fae9df" d="M598 164h14v14h-14zM682 192h14v14h-14zM612 206h14v14h-14zM626 220h14v14h-14zM668 220h14v14h-14zM640 234h28v14h-28zM430 262h14v14h-14zM458 276h14v14h-14zM990 304h14v14h-14zM500 318h14v14h-14zM976 318h14v14h-14zM514 332h14v14h-14zM640 332h28v14h-28zM962 332h14v14h-14zM612 346h14v14h-14zM682 346h14v14h-14zM584 360h14v14h-14zM724 360h14v14h-14zM948 360h14v14h-14zM360 374h14v14h-14zM752 374h14v14h-14zM934 374h14v14h-14zM1172 374h14v14h-14zM332 388h14v14h-14zM388 388h14v14h-14zM1158 388h14v14h-14zM402 402h14v14h-14zM794 402h14v14h-14zM878 402h14v14h-14zM1144 402h14v14h-14zM1144 416h14v14h-14zM430 430h14v14h-14zM1130 430h14v14h-14zM1130 444h14v14h-14zM444 458h14v14h-14zM1116 458h14v14h-14zM444 472h14v14h-14zM1102 472h14v14h-14zM444 486h14v14h-14zM906 486h42v14h-42zM1046 486h14v14h-14zM430 500h14v14h-14zM430 514h14v14h-14zM850 514h14v14h-14zM416 528h14v14h-14zM682 528h56v14h-56zM822 528h14v14h-14zM668 542h42v14h-42zM738 542h42v14h-42zM430 556h14v14h-14zM654 556h28v14h-28zM654 570h28v14h-28zM654 584h28v14h-28zM444 598h14v14h-14zM654 598h42v14h-42zM1410 598h28v14h-28zM654 612h56v14h-56zM1452 612h28v14h-28zM458 626h14v14h-14zM668 626h70v14h-70zM458 640h28v14h-28zM710 640h42v14h-42zM472 654h70v14h-70zM738 654h14v14h-14zM1578 654h14v14h-14zM528 668h56v14h-56zM738 668h28v14h-28zM1578 668h14v14h-14zM234 682h14v14h-14zM556 682h56v14h-56zM752 682h14v14h-14zM1564 682h28v14h-28zM570 696h56v14h-56zM752 696h14v14h-14zM1270 696h42v14h-42zM1564 696h14v14h-14zM612 710h28v14h-28zM752 710h14v14h-14zM1242 710h14v14h-14zM1312 710h14v14h-14zM1550 710h28v14h-28zM318 724h14v14h-14zM374 724h14v14h-14zM430 724h28v14h-28zM654 724h14v14h-14zM752 724h14v14h-14zM1046 724h98v14h-98zM1312 724h14v14h-14zM1536 724h28v14h-28zM458 738h14v14h-14zM668 738h14v14h-14zM752 738h14v14h-14zM1004 738h14v14h-14zM1326 738h14v14h-14zM1466 738h84v14h-84zM472 752h14v14h-14zM752 752h14v14h-14zM1340 752h14v14h-14zM1438 752h56v14h-56zM486 766h14v14h-14zM682 766h14v14h-14zM752 766h14v14h-14zM990 766h14v14h-14zM1368 766h14v14h-14zM1424 766h42v14h-42zM500 780h28v14h-28zM682 780h14v14h-14zM752 780h14v14h-14zM1382 780h56v14h-56zM682 794h14v14h-14zM752 794h14v14h-14zM570 822h14v14h-14zM990 822h14v14h-14zM598 836h14v14h-14zM794 836h14v14h-14zM990 836h14v14h-14zM808 850h14v14h-14zM990 850h14v14h-14zM822 864h14v14h-14zM920 864h14v14h-14zM990 864h14v14h-14zM836 878h168v14h-168zM962 892h14v14h-14zM458 976h14v14h-14zM570 990h14v14h-14zM402 1004h14v14h-14zM374 1018h14v14h-14zM584 1032h14v14h-14zM584 1046h14v14h-14zM598 1088h14v14h-14zM598 1102h14v14h-14zM682 1102h14v14h-14zM598 1116h70v14h-70zM584 1130h14v14h-14zM626 1130h28v14h-28zM822 1130h28v14h-28zM556 1144h14v14h-14zM626 1144h14v14h-14zM850 1144h28v14h-28zM542 1158h14v14h-14zM626 1158h14v14h-14zM878 1158h14v14h-14zM528 1172h14v14h-14zM626 1172h14v14h-14zM892 1172h14v14h-14zM626 1186h14v14h-14zM892 1186h14v14h-14zM626 1200h14v14h-14zM878 1214h14v14h-14zM612 1228h14v14h-14zM864 1228h14v14h-14zM612 1242h14v14h-14zM1508 1242h14v14h-14zM1578 1242h14v14h-14zM612 1256h14v14h-14zM626 1270h14v14h-14zM836 1270h14v14h-14zM1452 1270h14v14h-14zM1424 1284h14v14h-14zM640 1298h14v14h-14zM1396 1298h14v14h-14zM822 1326h14v14h-14zM1368 1326h14v14h-14zM654 1340h14v14h-14zM1354 1340h14v14h-14zM654 1354h14v14h-14zM780 1354h14v14h-14zM1354 1354h14v14h-14zM766 1368h14v14h-14zM1354 1368h14v14h-14zM1354 1382h14v14h-14zM752 1396h14v14h-14zM1354 1396h14v14h-14zM1368 1424h14v14h-14zM1368 1438h14v14h-14zM668 1452h14v14h-14zM738 1452h14v14h-14zM710 1480h14v14h-14zM1340 1480h14v14h-14zM1326 1494h28v14h-28zM1312 1508h28v14h-28zM1312 1522h14v14h-14zM1312 1536h14v14h-14zM1326 1550h14v14h-14zM822 1718h14v14h-14zM906 1732h14v14h-14zM920 1746h14v14h-14zM710 1760h14v14h-14zM934 1760h14v14h-14zM1032 1760h14v14h-14zM710 1774h14v14h-14zM962 1774h42v14h-42zM1060 1774h14v14h-14zM710 1788h14v14h-14zM710 1802h14v14h-14zM724 1830h14v14h-14zM738 1858h14v14h-14zM752 1886h98v14h-98zM976 1886h42v14h-42zM780 1900h112v14h-112z"/>
<path fill="#f9efe9" d="M612 164h14v14h-14zM626 192h14v14h-14zM668 192h14v14h-14zM640 206h28v14h-28zM388 248h14v14h-14zM402 262h14v14h-14zM416 276h28v14h-28zM458 290h14v14h-14zM1004 318h28v14h-28zM1004 332h14v14h-14zM374 346h14v14h-14zM626 346h14v14h-14zM990 346h14v14h-14zM346 360h14v14h-14zM374 360h28v14h-28zM696 360h14v14h-14zM976 360h14v14h-14zM1144 360h14v14h-14zM402 374h14v14h-14zM738 374h14v14h-14zM948 374h14v14h-14zM1130 374h28v14h-28zM934 388h14v14h-14zM1116 388h28v14h-28zM780 402h14v14h-14zM906 402h14v14h-14zM1116 402h14v14h-14zM808 416h70v14h-70zM1102 416h28v14h-28zM1102 430h14v14h-14zM1102 444h14v14h-14zM458 458h14v14h-14zM1088 458h14v14h-14zM458 472h14v14h-14zM1074 472h14v14h-14zM458 486h14v14h-14zM878 486h14v14h-14zM948 486h14v14h-14zM1018 486h14v14h-14zM458 500h14v14h-14zM444 514h14v14h-14zM682 514h28v14h-28zM444 528h14v14h-14zM654 528h14v14h-14zM444 542h14v14h-14zM640 542h14v14h-14zM444 556h14v14h-14zM444 570h14v14h-14zM626 570h14v14h-14zM626 584h14v14h-14zM458 598h14v14h-14zM626 598h14v14h-14zM472 612h14v14h-14zM626 612h14v14h-14zM486 626h14v14h-14zM626 626h14v14h-14zM528 640h112v14h-112zM612 654h56v14h-56zM1620 654h14v14h-14zM640 668h84v14h-84zM1606 668h28v14h-28zM640 682h98v14h-98zM1606 682h28v14h-28zM248 696h14v14h-14zM654 696h84v14h-84zM1606 696h14v14h-14zM276 710h14v14h-14zM682 710h56v14h-56zM1592 710h28v14h-28zM304 724h14v14h-14zM696 724h42v14h-42zM1242 724h56v14h-56zM1578 724h28v14h-28zM416 738h14v14h-14zM710 738h28v14h-28zM1172 738h56v14h-56zM1578 738h28v14h-28zM444 752h14v14h-14zM710 752h14v14h-14zM1326 752h14v14h-14zM1550 752h28v14h-28zM710 766h14v14h-14zM1004 766h14v14h-14zM1494 766h42v14h-42zM458 780h28v14h-28zM710 780h28v14h-28zM1368 780h14v14h-14zM1466 780h28v14h-28zM486 794h42v14h-42zM710 794h28v14h-28zM1382 794h14v14h-14zM1438 794h28v14h-28zM542 808h14v14h-14zM696 808h56v14h-56zM1396 808h42v14h-42zM696 822h14v14h-14zM752 822h14v14h-14zM1004 822h14v14h-14zM584 836h14v14h-14zM682 836h14v14h-14zM780 836h14v14h-14zM794 850h14v14h-14zM808 864h14v14h-14zM1004 878h14v14h-14zM836 892h14v14h-14zM990 892h14v14h-14zM864 906h70v14h-70zM976 906h14v14h-14zM906 920h70v14h-70zM934 934h28v14h-28zM486 962h14v14h-14zM584 990h14v14h-14zM374 1004h14v14h-14zM598 1032h14v14h-14zM598 1046h14v14h-14zM598 1060h14v14h-14zM612 1088h14v14h-14zM696 1088h14v14h-14zM738 1088h14v14h-14zM808 1116h28v14h-28zM864 1130h14v14h-14zM892 1144h14v14h-14zM570 1158h42v14h-42zM906 1158h14v14h-14zM556 1172h14v14h-14zM612 1172h14v14h-14zM542 1186h14v14h-14zM612 1186h14v14h-14zM906 1186h14v14h-14zM598 1214h14v14h-14zM892 1214h14v14h-14zM598 1228h14v14h-14zM878 1228h14v14h-14zM1550 1228h14v14h-14zM584 1242h14v14h-14zM864 1242h14v14h-14zM1494 1242h14v14h-14zM584 1256h14v14h-14zM850 1256h14v14h-14zM1438 1256h28v14h-28zM1634 1256h14v14h-14zM598 1270h14v14h-14zM1410 1270h14v14h-14zM612 1284h14v14h-14zM1382 1284h14v14h-14zM626 1298h14v14h-14zM1368 1298h14v14h-14zM836 1312h14v14h-14zM1354 1312h14v14h-14zM640 1326h14v14h-14zM1340 1340h14v14h-14zM1340 1354h14v14h-14zM1340 1368h14v14h-14zM1340 1382h14v14h-14zM1340 1396h14v14h-14zM654 1410h14v14h-14zM1340 1410h14v14h-14zM654 1424h14v14h-14zM752 1424h14v14h-14zM1340 1424h14v14h-14zM1340 1452h14v14h-14zM668 1466h14v14h-14zM1326 1466h14v14h-14zM682 1480h14v14h-14zM1312 1480h14v14h-14zM1298 1494h14v14h-14zM1284 1508h14v14h-14zM1284 1522h14v14h-14zM1284 1536h14v14h-14zM1284 1550h14v14h-14zM1298 1564h28v14h-28zM738 1704h14v14h-14zM794 1704h14v14h-14zM836 1718h14v14h-14zM710 1732h14v14h-14zM920 1732h14v14h-14zM948 1746h14v14h-14zM696 1760h14v14h-14zM1060 1760h14v14h-14zM696 1774h14v14h-14zM696 1802h14v14h-14zM696 1816h14v14h-14zM710 1830h14v14h-14zM724 1858h14v14h-14zM738 1886h14v14h-14zM738 1900h14v14h-14zM752 1914h14v14h-14zM752 1928h28v14h-28zM766 1942h28v14h-28zM780 1956h28v14h-28zM794 1970h14v14h-14zM794 1984h28v14h-28zM808 1998h28v14h-28zM808 2012h42v14h-42zM822 2026h28v14h-28zM444 2040h42v14h-42zM444 2054h56v14h-56zM444 2068h70v14h-70zM430 2082h28v14h-28zM486 2082h28v14h-28zM430 2096h14v14h-14zM500 2096h28v14h-28zM416 2110h14v14h-14zM514 2110h14v14h-14zM416 2124h28v14h-28zM514 2124h14v14h-14zM416 2138h42v14h-42zM514 2138h14v14h-14zM444 2152h42v14h-42zM500 2152h28v14h-28zM472 2166h28v14h-28z"/>
<path fill="#f8f1ed" d="M626 164h14v14h-14zM626 178h42v14h-42zM640 192h28v14h-28zM388 262h14v14h-14zM402 276h14v14h-14zM444 290h14v14h-14zM360 332h28v14h-28zM1018 332h14v14h-14zM346 346h28v14h-28zM388 346h14v14h-14zM640 346h28v14h-28zM1004 346h14v14h-14zM332 360h14v14h-14zM402 360h14v14h-14zM598 360h14v14h-14zM682 360h14v14h-14zM990 360h14v14h-14zM1088 360h56v14h-56zM724 374h14v14h-14zM962 374h14v14h-14zM1088 374h42v14h-42zM416 388h14v14h-14zM752 388h14v14h-14zM948 388h14v14h-14zM1088 388h28v14h-28zM430 402h14v14h-14zM766 402h14v14h-14zM920 402h14v14h-14zM1088 402h28v14h-28zM444 416h14v14h-14zM794 416h14v14h-14zM878 416h14v14h-14zM1088 416h14v14h-14zM1088 430h14v14h-14zM458 444h14v14h-14zM1088 444h14v14h-14zM1074 458h14v14h-14zM906 472h28v14h-28zM1060 472h14v14h-14zM1004 486h14v14h-14zM850 500h14v14h-14zM458 514h14v14h-14zM668 514h14v14h-14zM710 514h42v14h-42zM808 514h28v14h-28zM458 528h14v14h-14zM458 542h14v14h-14zM458 556h14v14h-14zM626 556h14v14h-14zM458 570h14v14h-14zM458 584h14v14h-14zM612 584h14v14h-14zM472 598h14v14h-14zM612 598h14v14h-14zM486 612h14v14h-14zM612 612h14v14h-14zM500 626h126v14h-126zM1634 668h28v14h-28zM1634 682h28v14h-28zM234 696h14v14h-14zM1620 696h42v14h-42zM1620 710h42v14h-42zM1606 724h42v14h-42zM346 738h28v14h-28zM388 738h28v14h-28zM1032 738h14v14h-14zM1158 738h14v14h-14zM1228 738h14v14h-14zM1284 738h28v14h-28zM1606 738h42v14h-42zM430 752h14v14h-14zM1018 752h14v14h-14zM1312 752h14v14h-14zM1578 752h56v14h-56zM444 766h14v14h-14zM1340 766h14v14h-14zM1536 766h28v14h-28zM1004 780h14v14h-14zM1494 780h28v14h-28zM472 794h14v14h-14zM1004 794h14v14h-14zM1368 794h14v14h-14zM1466 794h14v14h-14zM1004 808h14v14h-14zM1382 808h14v14h-14zM1438 808h14v14h-14zM556 822h14v14h-14zM710 822h42v14h-42zM1396 822h28v14h-28zM696 836h14v14h-14zM766 836h14v14h-14zM640 850h28v14h-28zM1018 850h14v14h-14zM1018 864h14v14h-14zM808 878h14v14h-14zM822 892h14v14h-14zM1004 892h14v14h-14zM836 906h28v14h-28zM990 906h14v14h-14zM892 920h14v14h-14zM976 920h14v14h-14zM906 934h28v14h-28zM962 934h14v14h-14zM934 948h42v14h-42zM542 962h14v14h-14zM444 976h14v14h-14zM570 976h14v14h-14zM402 990h14v14h-14zM360 1004h14v14h-14zM598 1004h14v14h-14zM598 1018h14v14h-14zM612 1074h14v14h-14zM626 1088h14v14h-14zM682 1088h14v14h-14zM780 1102h14v14h-14zM836 1116h28v14h-28zM878 1130h14v14h-14zM570 1172h42v14h-42zM556 1186h14v14h-14zM598 1186h14v14h-14zM598 1200h14v14h-14zM906 1200h14v14h-14zM584 1214h14v14h-14zM584 1228h14v14h-14zM1536 1228h14v14h-14zM1564 1228h14v14h-14zM1466 1242h28v14h-28zM1606 1242h14v14h-14zM1424 1256h14v14h-14zM584 1270h14v14h-14zM1396 1270h14v14h-14zM598 1284h14v14h-14zM1368 1284h14v14h-14zM612 1298h14v14h-14zM1354 1298h14v14h-14zM626 1312h14v14h-14zM1340 1312h14v14h-14zM1340 1326h14v14h-14zM640 1340h14v14h-14zM640 1354h14v14h-14zM794 1354h14v14h-14zM766 1382h14v14h-14zM654 1438h14v14h-14zM752 1438h14v14h-14zM1340 1438h14v14h-14zM1326 1452h14v14h-14zM1270 1522h14v14h-14zM1270 1536h14v14h-14zM1270 1550h14v14h-14zM1284 1564h14v14h-14zM528 1676h14v14h-14zM528 1690h14v14h-14zM528 1704h14v14h-14zM514 1718h14v14h-14zM850 1718h56v14h-56zM934 1732h14v14h-14zM962 1746h14v14h-14zM1032 1746h14v14h-14zM682 1788h14v14h-14zM682 1802h14v14h-14zM696 1830h14v14h-14zM710 1844h14v14h-14zM724 1872h14v14h-14zM724 1886h14v14h-14zM738 1914h14v14h-14zM738 1928h14v14h-14zM752 1942h14v14h-14zM766 1956h14v14h-14zM780 1970h14v14h-14zM780 1984h14v14h-14zM794 1998h14v14h-14zM444 2012h42v14h-42zM444 2026h56v14h-56zM808 2026h14v14h-14zM486 2040h28v14h-28zM500 2054h14v14h-14zM514 2068h14v14h-14zM514 2082h14v14h-14zM528 2096h14v14h-14zM528 2110h14v14h-14zM402 2124h14v14h-14zM528 2124h14v14h-14zM402 2138h14v14h-14zM528 2138h14v14h-14zM416 2152h28v14h-28zM430 2166h42v14h-42zM500 2166h28v14h-28z"/>
<path fill="#fce0d0" d="M584 178h14v14h-14zM402 206h14v14h-14zM416 220h14v14h-14zM598 220h14v14h-14zM682 220h14v14h-14zM430 234h14v14h-14zM444 248h14v14h-14zM612 248h14v14h-14zM626 262h14v14h-14zM668 262h14v14h-14zM640 290h28v14h-28zM654 304h14v14h-14zM640 318h28v14h-28zM948 318h14v14h-14zM682 332h14v14h-14zM598 346h14v14h-14zM710 346h14v14h-14zM934 346h14v14h-14zM752 360h14v14h-14zM794 388h14v14h-14zM878 388h14v14h-14zM1200 388h14v14h-14zM1186 402h14v14h-14zM346 416h42v14h-42zM1172 416h14v14h-14zM346 430h56v14h-56zM1172 430h14v14h-14zM388 444h28v14h-28zM1158 444h14v14h-14zM332 458h84v14h-84zM346 472h70v14h-70zM1144 472h14v14h-14zM374 486h42v14h-42zM1116 486h28v14h-28zM906 500h14v14h-14zM934 500h14v14h-14zM1004 500h14v14h-14zM318 528h28v14h-28zM388 542h14v14h-14zM850 542h14v14h-14zM836 556h28v14h-28zM416 570h14v14h-14zM836 570h28v14h-28zM1326 570h14v14h-14zM850 584h14v14h-14zM1326 584h14v14h-14zM850 598h14v14h-14zM1312 598h28v14h-28zM430 612h14v14h-14zM864 612h14v14h-14zM1312 612h14v14h-14zM430 626h14v14h-14zM864 626h14v14h-14zM1312 626h14v14h-14zM864 640h14v14h-14zM1298 640h14v14h-14zM864 654h14v14h-14zM1284 654h14v14h-14zM1396 654h28v14h-28zM234 668h14v14h-14zM430 668h14v14h-14zM864 668h14v14h-14zM1270 668h14v14h-14zM1382 668h42v14h-42zM276 682h14v14h-14zM416 682h14v14h-14zM864 682h14v14h-14zM1368 682h56v14h-56zM402 696h14v14h-14zM864 696h14v14h-14zM1228 696h14v14h-14zM1368 696h42v14h-42zM318 710h14v14h-14zM374 710h14v14h-14zM794 710h70v14h-70zM1214 710h14v14h-14zM1368 710h42v14h-42zM780 724h14v14h-14zM962 724h28v14h-28zM1368 724h28v14h-28zM570 738h28v14h-28zM626 738h14v14h-14zM780 738h14v14h-14zM962 738h14v14h-14zM556 752h14v14h-14zM780 752h14v14h-14zM962 752h14v14h-14zM542 766h14v14h-14zM654 766h14v14h-14zM780 766h14v14h-14zM962 766h14v14h-14zM542 780h14v14h-14zM654 780h14v14h-14zM780 780h14v14h-14zM962 780h14v14h-14zM556 794h14v14h-14zM654 794h14v14h-14zM780 794h14v14h-14zM962 794h14v14h-14zM570 808h14v14h-14zM654 808h14v14h-14zM794 808h14v14h-14zM962 808h14v14h-14zM598 822h14v14h-14zM808 822h14v14h-14zM934 822h28v14h-28zM822 836h126v14h-126zM528 976h14v14h-14zM444 990h14v14h-14zM430 1004h14v14h-14zM556 1004h14v14h-14zM416 1018h14v14h-14zM416 1032h14v14h-14zM402 1046h14v14h-14zM570 1046h14v14h-14zM402 1060h14v14h-14zM570 1060h14v14h-14zM402 1074h14v14h-14zM570 1088h14v14h-14zM570 1102h14v14h-14zM724 1102h14v14h-14zM556 1116h14v14h-14zM696 1116h14v14h-14zM766 1116h14v14h-14zM542 1130h14v14h-14zM682 1130h14v14h-14zM528 1144h14v14h-14zM668 1144h14v14h-14zM808 1144h14v14h-14zM514 1158h14v14h-14zM822 1158h14v14h-14zM654 1172h14v14h-14zM836 1172h14v14h-14zM836 1186h28v14h-28zM640 1200h14v14h-14zM850 1200h14v14h-14zM640 1214h14v14h-14zM850 1214h14v14h-14zM640 1228h14v14h-14zM640 1242h14v14h-14zM836 1242h14v14h-14zM640 1256h14v14h-14zM1592 1256h14v14h-14zM1480 1270h14v14h-14zM1620 1270h14v14h-14zM654 1284h14v14h-14zM822 1312h14v14h-14zM1424 1312h14v14h-14zM1396 1326h14v14h-14zM1382 1340h14v14h-14zM1382 1354h14v14h-14zM668 1368h14v14h-14zM1382 1368h14v14h-14zM668 1382h14v14h-14zM1382 1382h14v14h-14zM668 1396h14v14h-14zM1382 1396h14v14h-14zM668 1410h14v14h-14zM738 1410h14v14h-14zM682 1452h14v14h-14zM724 1452h14v14h-14zM752 1732h14v14h-14zM822 1732h28v14h-28zM738 1746h14v14h-14zM892 1746h14v14h-14zM738 1760h14v14h-14zM906 1760h14v14h-14zM738 1774h14v14h-14zM906 1774h14v14h-14zM738 1788h14v14h-14zM920 1788h14v14h-14zM738 1802h14v14h-14zM920 1802h28v14h-28zM738 1816h14v14h-14zM920 1816h28v14h-28zM920 1830h28v14h-28zM752 1844h14v14h-14zM920 1844h14v14h-14zM780 1858h42v14h-42zM836 1858h42v14h-42zM906 1858h28v14h-28zM878 1872h56v14h-56z"/>
<path fill="#fbe6da" d="M598 178h14v14h-14zM598 192h14v14h-14zM612 220h14v14h-14zM402 234h14v14h-14zM626 234h14v14h-14zM668 234h14v14h-14zM416 248h14v14h-14zM640 248h28v14h-28zM444 262h14v14h-14zM976 304h14v14h-14zM962 318h14v14h-14zM528 346h14v14h-14zM696 346h14v14h-14zM948 346h14v14h-14zM556 360h28v14h-28zM934 360h14v14h-14zM920 374h14v14h-14zM1186 374h14v14h-14zM346 388h42v14h-42zM780 388h14v14h-14zM906 388h14v14h-14zM1172 388h14v14h-14zM388 402h14v14h-14zM808 402h14v14h-14zM864 402h14v14h-14zM1158 402h14v14h-14zM416 416h14v14h-14zM1144 430h14v14h-14zM430 444h14v14h-14zM430 458h14v14h-14zM1130 458h14v14h-14zM304 472h14v14h-14zM430 472h14v14h-14zM1116 472h14v14h-14zM304 486h28v14h-28zM430 486h14v14h-14zM304 500h42v14h-42zM416 500h14v14h-14zM878 500h14v14h-14zM962 500h42v14h-42zM416 514h14v14h-14zM402 528h14v14h-14zM836 528h14v14h-14zM416 542h14v14h-14zM710 542h28v14h-28zM780 542h42v14h-42zM682 556h126v14h-126zM430 570h14v14h-14zM682 570h112v14h-112zM682 584h112v14h-112zM1368 584h28v14h-28zM696 598h112v14h-112zM1368 598h42v14h-42zM444 612h14v14h-14zM710 612h112v14h-112zM1396 612h56v14h-56zM444 626h14v14h-14zM738 626h98v14h-98zM1452 626h28v14h-28zM752 640h98v14h-98zM1466 640h28v14h-28zM458 654h14v14h-14zM752 654h98v14h-98zM1550 654h28v14h-28zM472 668h56v14h-56zM766 668h84v14h-84zM1550 668h28v14h-28zM248 682h14v14h-14zM514 682h42v14h-42zM766 682h84v14h-84zM1284 682h42v14h-42zM1466 682h28v14h-28zM1550 682h14v14h-14zM276 696h14v14h-14zM444 696h28v14h-28zM528 696h42v14h-42zM766 696h42v14h-42zM1256 696h14v14h-14zM1312 696h14v14h-14zM1452 696h112v14h-112zM304 710h14v14h-14zM402 710h84v14h-84zM528 710h84v14h-84zM766 710h14v14h-14zM1326 710h14v14h-14zM1452 710h98v14h-98zM332 724h14v14h-14zM360 724h14v14h-14zM458 724h28v14h-28zM542 724h28v14h-28zM626 724h28v14h-28zM1018 724h28v14h-28zM1144 724h14v14h-14zM1214 724h14v14h-14zM1326 724h14v14h-14zM1438 724h98v14h-98zM472 738h28v14h-28zM654 738h14v14h-14zM1340 738h14v14h-14zM1424 738h42v14h-42zM486 752h28v14h-28zM668 752h14v14h-14zM990 752h14v14h-14zM1354 752h14v14h-14zM1410 752h28v14h-28zM500 766h28v14h-28zM668 766h14v14h-14zM1382 766h42v14h-42zM528 780h14v14h-14zM668 780h14v14h-14zM976 780h14v14h-14zM542 794h14v14h-14zM668 794h14v14h-14zM976 794h14v14h-14zM556 808h14v14h-14zM668 808h14v14h-14zM766 808h14v14h-14zM976 808h14v14h-14zM668 822h14v14h-14zM780 822h14v14h-14zM976 822h14v14h-14zM612 836h56v14h-56zM976 836h14v14h-14zM822 850h14v14h-14zM976 850h14v14h-14zM836 864h84v14h-84zM934 864h56v14h-56zM542 976h14v14h-14zM430 990h14v14h-14zM570 1004h14v14h-14zM388 1018h14v14h-14zM374 1032h28v14h-28zM374 1046h14v14h-14zM374 1060h14v14h-14zM584 1060h14v14h-14zM584 1074h14v14h-14zM584 1102h14v14h-14zM696 1102h14v14h-14zM752 1102h14v14h-14zM584 1116h14v14h-14zM668 1116h14v14h-14zM780 1116h14v14h-14zM570 1130h14v14h-14zM654 1130h14v14h-14zM808 1130h14v14h-14zM640 1144h14v14h-14zM836 1144h14v14h-14zM640 1158h14v14h-14zM864 1158h14v14h-14zM640 1172h14v14h-14zM878 1172h14v14h-14zM878 1186h14v14h-14zM878 1200h14v14h-14zM626 1214h14v14h-14zM626 1228h14v14h-14zM850 1242h14v14h-14zM1522 1242h14v14h-14zM1564 1242h14v14h-14zM626 1256h14v14h-14zM1480 1256h14v14h-14zM1606 1256h14v14h-14zM640 1284h14v14h-14zM1438 1284h14v14h-14zM1410 1298h28v14h-28zM1382 1312h14v14h-14zM654 1326h14v14h-14zM1368 1340h14v14h-14zM1368 1396h14v14h-14zM1368 1410h14v14h-14zM738 1438h14v14h-14zM682 1466h14v14h-14zM724 1466h14v14h-14zM1340 1508h14v14h-14zM1326 1522h28v14h-28zM1326 1536h28v14h-28zM738 1718h14v14h-14zM808 1718h14v14h-14zM724 1732h14v14h-14zM878 1732h28v14h-28zM934 1774h28v14h-28zM1004 1774h56v14h-56zM948 1788h70v14h-70zM1060 1788h14v14h-14zM976 1802h28v14h-28zM724 1816h14v14h-14zM976 1830h56v14h-56zM738 1844h14v14h-14zM962 1844h112v14h-112zM962 1858h98v14h-98zM752 1872h98v14h-98zM948 1872h98v14h-98zM850 1886h42v14h-42zM934 1886h42v14h-42zM892 1900h42v14h-42z"/>
<path fill="#f9ebe3" d="M612 178h14v14h-14zM612 192h14v14h-14zM626 206h14v14h-14zM668 206h14v14h-14zM640 220h28v14h-28zM402 248h14v14h-14zM416 262h14v14h-14zM444 276h14v14h-14zM472 290h14v14h-14zM486 304h14v14h-14zM1004 304h14v14h-14zM990 318h14v14h-14zM976 332h28v14h-28zM668 346h14v14h-14zM962 346h28v14h-28zM360 360h14v14h-14zM542 360h14v14h-14zM710 360h14v14h-14zM962 360h14v14h-14zM332 374h28v14h-28zM374 374h28v14h-28zM1158 374h14v14h-14zM402 388h14v14h-14zM766 388h14v14h-14zM920 388h14v14h-14zM1144 388h14v14h-14zM416 402h14v14h-14zM892 402h14v14h-14zM1130 402h14v14h-14zM430 416h14v14h-14zM1130 416h14v14h-14zM444 430h14v14h-14zM1116 430h14v14h-14zM444 444h14v14h-14zM1116 444h14v14h-14zM1102 458h14v14h-14zM1088 472h14v14h-14zM892 486h14v14h-14zM1032 486h14v14h-14zM444 500h14v14h-14zM864 500h14v14h-14zM836 514h14v14h-14zM430 528h14v14h-14zM668 528h14v14h-14zM738 528h84v14h-84zM430 542h14v14h-14zM654 542h14v14h-14zM640 556h14v14h-14zM640 570h14v14h-14zM444 584h14v14h-14zM640 584h14v14h-14zM640 598h14v14h-14zM458 612h14v14h-14zM640 612h14v14h-14zM472 626h14v14h-14zM640 626h28v14h-28zM486 640h42v14h-42zM640 640h70v14h-70zM542 654h70v14h-70zM668 654h70v14h-70zM1592 654h28v14h-28zM584 668h56v14h-56zM724 668h14v14h-14zM1592 668h14v14h-14zM612 682h28v14h-28zM738 682h14v14h-14zM1592 682h14v14h-14zM262 696h14v14h-14zM626 696h28v14h-28zM738 696h14v14h-14zM1578 696h28v14h-28zM290 710h14v14h-14zM640 710h42v14h-42zM738 710h14v14h-14zM1256 710h56v14h-56zM1578 710h14v14h-14zM388 724h42v14h-42zM668 724h28v14h-28zM738 724h14v14h-14zM1228 724h14v14h-14zM1298 724h14v14h-14zM1564 724h14v14h-14zM430 738h28v14h-28zM682 738h28v14h-28zM738 738h14v14h-14zM1018 738h14v14h-14zM1312 738h14v14h-14zM1550 738h28v14h-28zM458 752h14v14h-14zM682 752h28v14h-28zM724 752h28v14h-28zM1004 752h14v14h-14zM1494 752h56v14h-56zM458 766h28v14h-28zM696 766h14v14h-14zM724 766h28v14h-28zM1354 766h14v14h-14zM1466 766h28v14h-28zM486 780h14v14h-14zM696 780h14v14h-14zM738 780h14v14h-14zM990 780h14v14h-14zM1438 780h28v14h-28zM528 794h14v14h-14zM696 794h14v14h-14zM738 794h14v14h-14zM990 794h14v14h-14zM1396 794h42v14h-42zM682 808h14v14h-14zM752 808h14v14h-14zM990 808h14v14h-14zM682 822h14v14h-14zM766 822h14v14h-14zM668 836h14v14h-14zM1004 836h14v14h-14zM1004 850h14v14h-14zM1004 864h14v14h-14zM822 878h14v14h-14zM850 892h112v14h-112zM976 892h14v14h-14zM934 906h42v14h-42zM500 962h42v14h-42zM556 976h14v14h-14zM416 990h14v14h-14zM388 1004h14v14h-14zM584 1004h14v14h-14zM360 1018h14v14h-14zM584 1018h14v14h-14zM598 1074h14v14h-14zM710 1088h28v14h-28zM612 1102h70v14h-70zM766 1102h14v14h-14zM794 1116h14v14h-14zM598 1130h28v14h-28zM850 1130h14v14h-14zM570 1144h56v14h-56zM878 1144h14v14h-14zM556 1158h14v14h-14zM612 1158h14v14h-14zM892 1158h14v14h-14zM542 1172h14v14h-14zM906 1172h14v14h-14zM612 1200h14v14h-14zM892 1200h14v14h-14zM612 1214h14v14h-14zM598 1242h14v14h-14zM1592 1242h14v14h-14zM598 1256h14v14h-14zM1466 1256h14v14h-14zM1620 1256h14v14h-14zM612 1270h14v14h-14zM1424 1270h28v14h-28zM626 1284h14v14h-14zM836 1284h14v14h-14zM1396 1284h28v14h-28zM836 1298h14v14h-14zM1382 1298h14v14h-14zM640 1312h14v14h-14zM1368 1312h14v14h-14zM1354 1326h14v14h-14zM808 1340h14v14h-14zM654 1368h14v14h-14zM654 1382h14v14h-14zM654 1396h14v14h-14zM752 1410h14v14h-14zM1354 1410h14v14h-14zM1354 1424h14v14h-14zM1354 1438h14v14h-14zM1354 1452h14v14h-14zM738 1466h14v14h-14zM1340 1466h14v14h-14zM696 1480h14v14h-14zM724 1480h14v14h-14zM1326 1480h14v14h-14zM1312 1494h14v14h-14zM1298 1508h14v14h-14zM1298 1522h14v14h-14zM1298 1536h14v14h-14zM1298 1550h28v14h-28zM752 1704h42v14h-42zM724 1718h14v14h-14zM710 1746h14v14h-14zM934 1746h14v14h-14zM948 1760h84v14h-84zM1046 1760h14v14h-14zM696 1788h14v14h-14zM710 1816h14v14h-14zM724 1844h14v14h-14zM738 1872h14v14h-14zM752 1900h28v14h-28zM766 1914h126v14h-126zM780 1928h112v14h-112zM794 1942h98v14h-98zM808 1956h84v14h-84zM808 1970h70v14h-70zM822 1984h28v14h-28zM836 1998h14v14h-14zM458 2082h28v14h-28zM444 2096h56v14h-56zM430 2110h84v14h-84zM444 2124h70v14h-70zM458 2138h56v14h-56zM486 2152h14v14h-14z"/>
<path fill="#f7b596" d="M710 206h14v14h-14zM892 206h14v14h-14zM892 220h14v14h-14zM906 234h14v14h-14zM542 262h28v14h-28zM920 262h14v14h-14zM528 276h14v14h-14zM570 276h14v14h-14zM528 290h14v14h-14zM584 290h14v14h-14zM528 304h14v14h-14zM920 304h14v14h-14zM542 318h14v14h-14zM584 318h14v14h-14zM570 332h14v14h-14zM752 332h14v14h-14zM906 332h14v14h-14zM794 346h14v14h-14zM892 346h14v14h-14zM850 360h14v14h-14zM1130 514h14v14h-14zM976 528h14v14h-14zM1158 528h14v14h-14zM1186 542h14v14h-14zM1200 556h14v14h-14zM276 570h42v14h-42zM1214 570h14v14h-14zM276 584h84v14h-84zM1214 584h14v14h-14zM276 598h28v14h-28zM346 598h28v14h-28zM962 598h14v14h-14zM290 612h28v14h-28zM346 612h28v14h-28zM1200 612h14v14h-14zM304 626h70v14h-70zM1186 626h14v14h-14zM318 640h42v14h-42zM976 640h14v14h-14zM1172 640h14v14h-14zM1158 654h14v14h-14zM1144 668h14v14h-14zM1018 682h14v14h-14zM1046 696h14v14h-14zM1102 696h14v14h-14zM486 1060h28v14h-28zM472 1074h42v14h-42zM472 1088h28v14h-28zM724 1186h14v14h-14zM752 1200h14v14h-14zM696 1214h14v14h-14zM766 1214h14v14h-14zM696 1228h14v14h-14zM780 1228h14v14h-14zM696 1270h14v14h-14zM696 1284h14v14h-14zM794 1298h14v14h-14zM1522 1298h70v14h-70zM710 1312h14v14h-14zM780 1312h14v14h-14zM1494 1312h14v14h-14zM710 1326h28v14h-28zM752 1326h14v14h-14zM1480 1326h14v14h-14zM1466 1354h14v14h-14z"/>
<path fill="#ee9677" d="M724 206h14v14h-14zM864 220h14v14h-14zM864 234h14v14h-14zM878 262h14v14h-14zM724 276h14v14h-14zM892 290h14v14h-14zM892 304h14v14h-14zM766 318h14v14h-14zM892 318h14v14h-14zM808 332h28v14h-28zM864 332h14v14h-14zM1060 514h14v14h-14zM1102 514h14v14h-14zM1018 528h14v14h-14zM990 542h14v14h-14zM1144 542h14v14h-14zM976 556h14v14h-14zM976 570h14v14h-14zM1158 570h14v14h-14zM976 584h14v14h-14zM1158 584h14v14h-14zM1158 598h14v14h-14zM990 626h14v14h-14zM1144 626h14v14h-14zM1130 640h14v14h-14zM1032 668h14v14h-14zM1102 668h14v14h-14zM1060 682h28v14h-28zM1508 1354h70v14h-70zM1494 1368h14v14h-14z"/>
<path fill="#e27b62" d="M738 206h14v14h-14zM836 206h14v14h-14zM738 220h14v14h-14zM738 234h14v14h-14zM738 248h14v14h-14zM850 248h14v14h-14zM864 290h14v14h-14zM864 304h14v14h-14zM1116 528h14v14h-14zM1130 542h14v14h-14zM1004 556h14v14h-14zM1130 556h14v14h-14zM1130 584h14v14h-14zM1130 598h14v14h-14zM1004 612h14v14h-14zM1116 626h14v14h-14zM1032 640h14v14h-14zM1102 640h14v14h-14zM1046 654h56v14h-56z"/>
<path fill="#dc6e57" d="M752 206h14v14h-14zM822 206h14v14h-14zM752 220h14v14h-14zM752 234h14v14h-14zM752 248h14v14h-14zM836 248h14v14h-14zM766 276h14v14h-14zM780 290h14v14h-14zM836 290h14v14h-14zM808 304h28v14h-28zM1074 528h42v14h-42zM1046 542h14v14h-14zM1116 542h14v14h-14zM1032 556h14v14h-14zM1018 570h14v14h-14zM1018 584h14v14h-14zM1018 598h14v14h-14zM1116 598h14v14h-14zM1018 612h14v14h-14zM1032 626h14v14h-14zM1102 626h14v14h-14zM1060 640h42v14h-42z"/>
<path fill="#d86551" d="M780 206h42v14h-42zM766 220h14v14h-14zM822 220h14v14h-14zM766 234h14v14h-14zM822 234h14v14h-14zM766 248h14v14h-14zM766 262h14v14h-14zM836 262h14v14h-14zM780 276h14v14h-14zM836 276h14v14h-14zM794 290h42v14h-42zM1060 542h14v14h-14zM1116 556h14v14h-14zM1032 570h14v14h-14zM1116 570h14v14h-14zM1116 584h14v14h-14zM1032 612h14v14h-14zM1102 612h14v14h-14zM1046 626h56v14h-56z"/>
<path fill="#eb9172" d="M850 206h14v14h-14zM724 220h14v14h-14zM724 234h14v14h-14zM724 248h14v14h-14zM724 262h14v14h-14zM878 276h14v14h-14zM738 290h14v14h-14zM752 304h14v14h-14zM878 318h14v14h-14zM836 332h28v14h-28zM1074 514h28v14h-28zM1130 528h14v14h-14zM990 612h14v14h-14zM1144 612h14v14h-14zM1004 640h14v14h-14zM1018 654h14v14h-14zM1116 654h14v14h-14zM1046 668h14v14h-14zM1508 1368h14v14h-14z"/>
<path fill="#f19e7d" d="M864 206h14v14h-14zM878 248h14v14h-14zM892 276h14v14h-14zM724 290h14v14h-14zM738 304h14v14h-14zM752 318h14v14h-14zM794 332h14v14h-14zM878 332h14v14h-14zM1158 556h14v14h-14zM976 598h14v14h-14zM1158 612h14v14h-14zM1004 654h14v14h-14zM1046 682h14v14h-14zM1088 682h14v14h-14zM724 1242h28v14h-28zM724 1256h42v14h-42zM724 1270h56v14h-56zM738 1284h28v14h-28zM1508 1340h84v14h-84zM1494 1354h14v14h-14z"/>
<path fill="#f6af8e" d="M878 206h14v14h-14zM710 220h14v14h-14zM710 234h14v14h-14zM892 234h14v14h-14zM906 248h14v14h-14zM906 262h14v14h-14zM542 276h28v14h-28zM920 276h14v14h-14zM710 290h14v14h-14zM920 290h14v14h-14zM584 304h14v14h-14zM808 346h14v14h-14zM1032 514h14v14h-14zM990 528h14v14h-14zM962 542h14v14h-14zM1172 542h14v14h-14zM1186 556h14v14h-14zM1200 570h14v14h-14zM962 584h14v14h-14zM1200 584h14v14h-14zM304 598h42v14h-42zM1200 598h14v14h-14zM318 612h28v14h-28zM1186 612h14v14h-14zM976 626h14v14h-14zM1172 626h14v14h-14zM1158 640h14v14h-14zM990 654h14v14h-14zM1144 654h14v14h-14zM1004 668h14v14h-14zM1130 668h14v14h-14zM1116 682h14v14h-14zM1060 696h42v14h-42zM710 1200h42v14h-42zM710 1214h14v14h-14zM752 1214h14v14h-14zM766 1228h14v14h-14zM696 1242h14v14h-14zM780 1242h14v14h-14zM696 1256h14v14h-14zM794 1256h14v14h-14zM794 1270h14v14h-14zM794 1284h14v14h-14zM710 1298h14v14h-14zM724 1312h14v14h-14zM766 1312h14v14h-14zM1508 1312h14v14h-14zM1578 1312h28v14h-28zM738 1326h14v14h-14zM1494 1326h14v14h-14zM1480 1340h14v14h-14zM1466 1368h14v14h-14z"/>
<path fill="#f8bb9e" d="M906 206h14v14h-14zM906 220h14v14h-14zM920 234h14v14h-14zM542 248h28v14h-28zM920 248h14v14h-14zM528 262h14v14h-14zM570 262h14v14h-14zM934 262h14v14h-14zM584 276h14v14h-14zM934 276h14v14h-14zM598 304h14v14h-14zM710 304h14v14h-14zM724 318h14v14h-14zM556 332h14v14h-14zM780 346h14v14h-14zM822 360h28v14h-28zM864 360h14v14h-14zM1018 514h14v14h-14zM1172 528h14v14h-14zM1200 542h14v14h-14zM276 556h14v14h-14zM948 556h14v14h-14zM1214 556h14v14h-14zM248 570h28v14h-28zM318 570h28v14h-28zM948 570h14v14h-14zM1228 570h14v14h-14zM248 584h28v14h-28zM360 584h28v14h-28zM1228 584h14v14h-14zM248 598h28v14h-28zM374 598h14v14h-14zM1214 598h14v14h-14zM262 612h28v14h-28zM374 612h14v14h-14zM962 612h14v14h-14zM1214 612h14v14h-14zM276 626h28v14h-28zM374 626h14v14h-14zM1200 626h14v14h-14zM304 640h14v14h-14zM360 640h14v14h-14zM1186 640h14v14h-14zM318 654h42v14h-42zM1172 654h14v14h-14zM990 668h14v14h-14zM1130 682h14v14h-14zM500 1032h14v14h-14zM486 1046h42v14h-42zM472 1060h14v14h-14zM514 1060h14v14h-14zM514 1074h14v14h-14zM458 1088h14v14h-14zM500 1088h14v14h-14zM458 1102h42v14h-42zM458 1116h14v14h-14zM710 1186h14v14h-14zM738 1186h14v14h-14zM696 1200h14v14h-14zM794 1242h14v14h-14zM808 1270h14v14h-14zM808 1284h14v14h-14zM1550 1284h14v14h-14zM696 1298h14v14h-14zM1508 1298h14v14h-14zM1592 1298h14v14h-14zM766 1326h14v14h-14zM710 1340h42v14h-42zM1466 1340h14v14h-14z"/>
<path fill="#f8bfa4" d="M920 206h14v14h-14zM920 220h14v14h-14zM542 234h28v14h-28zM528 248h14v14h-14zM570 248h14v14h-14zM514 262h14v14h-14zM584 262h14v14h-14zM696 262h14v14h-14zM514 276h14v14h-14zM696 276h14v14h-14zM514 290h14v14h-14zM598 290h14v14h-14zM696 290h14v14h-14zM934 290h14v14h-14zM528 318h14v14h-14zM598 318h14v14h-14zM920 318h14v14h-14zM584 332h14v14h-14zM738 332h14v14h-14zM808 360h14v14h-14zM878 360h14v14h-14zM1074 500h28v14h-28zM1004 514h14v14h-14zM1144 514h14v14h-14zM962 528h14v14h-14zM1186 528h28v14h-28zM948 542h14v14h-14zM1214 542h28v14h-28zM248 556h28v14h-28zM290 556h28v14h-28zM1228 556h14v14h-14zM346 570h28v14h-28zM234 584h14v14h-14zM388 584h14v14h-14zM948 584h14v14h-14zM234 598h14v14h-14zM388 598h14v14h-14zM1228 598h14v14h-14zM234 612h28v14h-28zM388 612h14v14h-14zM1228 612h14v14h-14zM248 626h28v14h-28zM962 626h14v14h-14zM1214 626h14v14h-14zM276 640h28v14h-28zM374 640h14v14h-14zM1200 640h14v14h-14zM304 654h14v14h-14zM360 654h14v14h-14zM976 654h14v14h-14zM1186 654h14v14h-14zM318 668h42v14h-42zM1158 668h28v14h-28zM1004 682h14v14h-14zM1144 682h14v14h-14zM1032 696h14v14h-14zM1116 696h14v14h-14zM486 1018h28v14h-28zM472 1032h28v14h-28zM514 1032h14v14h-14zM472 1046h14v14h-14zM458 1060h14v14h-14zM528 1060h14v14h-14zM458 1074h14v14h-14zM514 1088h14v14h-14zM444 1102h14v14h-14zM500 1102h14v14h-14zM444 1116h14v14h-14zM472 1116h28v14h-28zM710 1172h42v14h-42zM696 1186h14v14h-14zM752 1186h14v14h-14zM766 1200h14v14h-14zM682 1214h14v14h-14zM780 1214h14v14h-14zM682 1228h14v14h-14zM794 1228h14v14h-14zM682 1242h14v14h-14zM682 1256h14v14h-14zM808 1256h14v14h-14zM682 1270h14v14h-14zM1522 1284h28v14h-28zM1564 1284h28v14h-28zM808 1298h14v14h-14zM1494 1298h14v14h-14zM696 1312h14v14h-14zM794 1312h14v14h-14zM1480 1312h14v14h-14zM696 1326h14v14h-14zM696 1340h14v14h-14zM752 1340h14v14h-14zM710 1354h28v14h-28zM1452 1354h14v14h-14zM1452 1368h14v14h-14zM1452 1382h14v14h-14z"/>
<path fill="#f9c6ac" d="M528 220h42v14h-42zM528 234h14v14h-14zM570 234h14v14h-14zM514 248h14v14h-14zM696 248h14v14h-14zM598 276h14v14h-14zM696 304h14v14h-14zM710 318h14v14h-14zM542 332h14v14h-14zM766 346h14v14h-14zM906 346h14v14h-14zM794 360h14v14h-14zM892 360h14v14h-14zM1242 486h28v14h-28zM1060 500h14v14h-14zM1102 500h14v14h-14zM1214 500h56v14h-56zM1158 514h112v14h-112zM948 528h14v14h-14zM1214 528h56v14h-56zM262 542h14v14h-14zM934 542h14v14h-14zM1242 542h28v14h-28zM318 556h14v14h-14zM934 556h14v14h-14zM1242 556h28v14h-28zM374 570h14v14h-14zM934 570h14v14h-14zM1242 570h14v14h-14zM1242 584h14v14h-14zM220 598h14v14h-14zM948 598h14v14h-14zM1242 598h14v14h-14zM220 612h14v14h-14zM948 612h14v14h-14zM1242 612h14v14h-14zM234 626h14v14h-14zM388 626h14v14h-14zM1228 626h14v14h-14zM262 640h14v14h-14zM388 640h14v14h-14zM962 640h14v14h-14zM1214 640h14v14h-14zM290 654h14v14h-14zM374 654h14v14h-14zM1200 654h14v14h-14zM304 668h14v14h-14zM360 668h14v14h-14zM1186 668h14v14h-14zM332 682h28v14h-28zM1158 682h28v14h-28zM1130 696h14v14h-14zM486 1004h28v14h-28zM472 1018h14v14h-14zM514 1018h14v14h-14zM528 1032h14v14h-14zM458 1046h14v14h-14zM528 1046h14v14h-14zM444 1074h14v14h-14zM528 1074h14v14h-14zM444 1088h14v14h-14zM528 1088h14v14h-14zM514 1102h14v14h-14zM430 1116h14v14h-14zM458 1130h28v14h-28zM724 1158h28v14h-28zM696 1172h14v14h-14zM752 1172h14v14h-14zM766 1186h14v14h-14zM682 1200h14v14h-14zM780 1200h14v14h-14zM808 1242h14v14h-14zM682 1284h14v14h-14zM1508 1284h14v14h-14zM1592 1284h14v14h-14zM780 1326h14v14h-14zM1466 1326h14v14h-14zM1452 1340h14v14h-14zM696 1354h14v14h-14zM738 1354h14v14h-14zM696 1368h42v14h-42zM1438 1382h14v14h-14z"/>
<path fill="#d6604d" d="M780 220h42v14h-42zM780 234h42v14h-42zM780 248h56v14h-56zM780 262h56v14h-56zM794 276h42v14h-42zM1074 542h42v14h-42zM1046 556h28v14h-28zM1102 556h14v14h-14zM1046 570h14v14h-14zM1102 570h14v14h-14zM1032 584h14v14h-14zM1102 584h14v14h-14zM1032 598h28v14h-28zM1102 598h14v14h-14zM1046 612h56v14h-56z"/>
<path fill="#de735c" d="M836 220h14v14h-14zM836 234h14v14h-14zM752 262h14v14h-14zM850 262h14v14h-14zM752 276h14v14h-14zM850 276h14v14h-14zM766 290h14v14h-14zM850 290h14v14h-14zM780 304h28v14h-28zM836 304h28v14h-28zM1060 528h14v14h-14zM1032 542h14v14h-14zM1018 556h14v14h-14zM1004 570h14v14h-14zM1130 570h14v14h-14zM1004 584h14v14h-14zM1004 598h14v14h-14zM1116 612h14v14h-14zM1018 626h14v14h-14zM1046 640h14v14h-14z"/>
<path fill="#e8896c" d="M850 220h14v14h-14zM864 248h14v14h-14zM878 290h14v14h-14zM878 304h14v14h-14zM780 318h14v14h-14zM864 318h14v14h-14zM1032 528h14v14h-14zM1004 542h14v14h-14zM990 556h14v14h-14zM1144 556h14v14h-14zM1144 570h14v14h-14zM1144 584h14v14h-14zM990 598h14v14h-14zM1144 598h14v14h-14zM1130 626h14v14h-14zM1032 654h14v14h-14zM1060 668h42v14h-42z"/>
<path fill="#f5aa89" d="M878 220h14v14h-14zM710 248h14v14h-14zM892 248h14v14h-14zM710 262h14v14h-14zM710 276h14v14h-14zM906 276h14v14h-14zM542 290h42v14h-42zM542 304h42v14h-42zM724 304h14v14h-14zM556 318h28v14h-28zM738 318h14v14h-14zM906 318h14v14h-14zM766 332h14v14h-14zM822 346h14v14h-14zM864 346h28v14h-28zM962 556h14v14h-14zM962 570h14v14h-14zM1186 570h14v14h-14zM1186 584h14v14h-14zM1186 598h14v14h-14zM1172 612h14v14h-14zM1032 682h14v14h-14zM724 1214h28v14h-28zM710 1228h14v14h-14zM710 1242h14v14h-14zM780 1256h14v14h-14zM710 1270h14v14h-14zM710 1284h14v14h-14zM724 1298h14v14h-14zM780 1298h14v14h-14zM738 1312h28v14h-28zM1522 1312h56v14h-56zM1508 1326h14v14h-14zM1592 1326h14v14h-14zM1480 1354h14v14h-14z"/>
<path fill="#e4eef4" d="M178 234h28v14h-28zM178 248h42v14h-42zM178 262h42v14h-42zM178 276h56v14h-56zM178 290h56v14h-56zM178 304h42v14h-42zM178 318h42v14h-42zM192 332h28v14h-28zM458 332h28v14h-28zM486 346h14v14h-14zM472 402h14v14h-14zM584 402h126v14h-126zM486 416h14v14h-14zM710 416h14v14h-14zM724 430h14v14h-14zM500 444h14v14h-14zM724 444h28v14h-28zM738 458h14v14h-14zM738 472h28v14h-28zM514 486h14v14h-14zM682 486h56v14h-56zM640 500h14v14h-14zM528 514h14v14h-14zM542 528h14v14h-14zM598 528h14v14h-14zM206 738h56v14h-56zM304 752h14v14h-14zM1102 752h42v14h-42zM374 766h14v14h-14zM1074 766h28v14h-28zM1158 766h28v14h-28zM388 780h14v14h-14zM1074 780h14v14h-14zM1186 780h14v14h-14zM402 794h14v14h-14zM1074 794h28v14h-28zM1186 794h28v14h-28zM416 808h14v14h-14zM1088 808h14v14h-14zM1186 808h28v14h-28zM1536 808h14v14h-14zM1592 808h14v14h-14zM1760 808h56v14h-56zM430 822h14v14h-14zM1102 822h14v14h-14zM1158 822h42v14h-42zM1494 822h14v14h-14zM1704 822h112v14h-112zM458 836h14v14h-14zM1116 836h56v14h-56zM1634 836h14v14h-14zM1662 836h28v14h-28zM1760 836h56v14h-56zM472 850h28v14h-28zM1424 850h14v14h-14zM1774 850h42v14h-42zM486 864h14v14h-14zM1340 864h42v14h-42zM1788 864h28v14h-28zM486 878h14v14h-14zM584 878h28v14h-28zM654 878h28v14h-28zM1270 878h84v14h-84zM1788 878h14v14h-14zM500 892h14v14h-14zM570 892h28v14h-28zM668 892h14v14h-14zM1256 892h56v14h-56zM1774 892h28v14h-28zM500 906h14v14h-14zM570 906h14v14h-14zM668 906h14v14h-14zM1074 906h210v14h-210zM1774 906h28v14h-28zM500 920h14v14h-14zM570 920h14v14h-14zM668 920h28v14h-28zM1046 920h42v14h-42zM1774 920h28v14h-28zM570 934h14v14h-14zM668 934h14v14h-14zM1032 934h28v14h-28zM1760 934h28v14h-28zM598 948h14v14h-14zM654 948h28v14h-28zM780 948h84v14h-84zM1018 948h28v14h-28zM1760 948h14v14h-14zM640 962h28v14h-28zM738 962h140v14h-140zM1018 962h14v14h-14zM402 976h14v14h-14zM724 976h98v14h-98zM864 976h42v14h-42zM1004 976h14v14h-14zM346 990h14v14h-14zM724 990h112v14h-112zM892 990h28v14h-28zM990 990h14v14h-14zM724 1004h126v14h-126zM948 1004h28v14h-28zM724 1018h140v14h-140zM724 1032h140v14h-140zM752 1046h126v14h-126zM780 1060h112v14h-112zM878 1074h56v14h-56zM920 1088h28v14h-28zM934 1102h14v14h-14zM934 1116h14v14h-14zM948 1172h14v14h-14zM948 1186h14v14h-14zM1564 1200h42v14h-42zM934 1214h14v14h-14zM1452 1214h14v14h-14zM1634 1214h14v14h-14zM1242 1242h14v14h-14zM1326 1242h28v14h-28zM1382 1242h14v14h-14zM906 1256h14v14h-14zM892 1270h14v14h-14zM1214 1270h14v14h-14zM878 1284h14v14h-14zM1214 1284h14v14h-14zM878 1298h14v14h-14zM1228 1312h14v14h-14zM864 1326h14v14h-14zM1256 1326h14v14h-14zM850 1340h14v14h-14zM1284 1354h14v14h-14zM570 1368h28v14h-28zM808 1368h14v14h-14zM570 1382h28v14h-28zM570 1396h42v14h-42zM612 1410h14v14h-14zM780 1410h14v14h-14zM626 1424h14v14h-14zM1270 1466h14v14h-14zM654 1480h14v14h-14zM1256 1480h14v14h-14zM668 1494h14v14h-14zM710 1508h28v14h-28zM1228 1522h14v14h-14zM1228 1564h14v14h-14zM1228 1578h14v14h-14zM1228 1592h14v14h-14zM542 1634h14v14h-14zM1242 1634h14v14h-14zM570 1648h14v14h-14zM1242 1648h14v14h-14zM1242 1662h14v14h-14zM1228 1676h14v14h-14zM1116 1690h98v14h-98zM570 1704h14v14h-14zM850 1704h14v14h-14zM878 1704h14v14h-14zM948 1704h14v14h-14zM1088 1704h42v14h-42zM682 1718h14v14h-14zM990 1718h28v14h-28zM1032 1718h70v14h-70zM556 1746h14v14h-14zM668 1746h14v14h-14zM570 1788h14v14h-14zM640 1788h14v14h-14zM486 1802h14v14h-14zM570 1802h14v14h-14zM626 1802h14v14h-14zM514 1816h28v14h-28zM556 1816h28v14h-28zM612 1816h14v14h-14zM612 1830h14v14h-14zM612 1844h14v14h-14zM612 1858h14v14h-14zM612 1872h28v14h-28zM612 1886h28v14h-28zM612 1900h14v14h-14zM598 1914h28v14h-28zM472 1928h28v14h-28zM542 1928h70v14h-70zM598 2026h42v14h-42zM598 2040h56v14h-56zM584 2054h70v14h-70zM584 2068h70v14h-70zM598 2082h56v14h-56zM598 2096h56v14h-56zM598 2110h70v14h-70zM598 2124h14v14h-14zM640 2124h28v14h-28zM584 2138h14v14h-14zM640 2138h42v14h-42zM584 2152h14v14h-14zM668 2152h14v14h-14zM570 2166h14v14h-14zM682 2166h14v14h-14zM556 2180h14v14h-14zM696 2180h14v14h-14zM710 2194h14v14h-14zM710 2208h14v14h-14zM500 2222h14v14h-14zM486 2250h14v14h-14zM486 2264h14v14h-14zM486 2278h14v14h-14zM486 2292h14v14h-14zM500 2306h14v14h-14zM500 2320h28v14h-28zM514 2334h14v14h-14zM528 2348h14v14h-14zM682 2348h14v14h-14zM528 2362h14v14h-14zM668 2362h28v14h-28zM528 2376h28v14h-28zM654 2376h42v14h-42zM542 2390h14v14h-14zM640 2390h56v14h-56zM542 2404h14v14h-14zM626 2404h70v14h-70zM542 2418h28v14h-28zM626 2418h70v14h-70zM542 2432h140v14h-140zM584 2446h98v14h-98z"/>
<path fill="#e48066" d="M850 234h14v14h-14zM738 262h14v14h-14zM864 262h14v14h-14zM738 276h14v14h-14zM864 276h14v14h-14zM752 290h14v14h-14zM766 304h14v14h-14zM794 318h70v14h-70zM1046 528h14v14h-14zM1018 542h14v14h-14zM990 570h14v14h-14zM990 584h14v14h-14zM1130 612h14v14h-14zM1004 626h14v14h-14zM1018 640h14v14h-14zM1116 640h14v14h-14zM1102 654h14v14h-14z"/>
<path fill="#f3a481" d="M878 234h14v14h-14zM892 262h14v14h-14zM906 290h14v14h-14zM906 304h14v14h-14zM780 332h14v14h-14zM892 332h14v14h-14zM836 346h28v14h-28zM1046 514h14v14h-14zM1116 514h14v14h-14zM1004 528h14v14h-14zM1144 528h14v14h-14zM976 542h14v14h-14zM1158 542h14v14h-14zM1172 556h14v14h-14zM1172 570h14v14h-14zM1172 584h14v14h-14zM1172 598h14v14h-14zM976 612h14v14h-14zM1158 626h14v14h-14zM990 640h14v14h-14zM1144 640h14v14h-14zM1130 654h14v14h-14zM1018 668h14v14h-14zM1116 668h14v14h-14zM1102 682h14v14h-14zM724 1228h42v14h-42zM752 1242h28v14h-28zM710 1256h14v14h-14zM766 1256h14v14h-14zM780 1270h14v14h-14zM724 1284h14v14h-14zM766 1284h28v14h-28zM738 1298h42v14h-42zM1522 1326h70v14h-70zM1494 1340h14v14h-14zM1480 1368h14v14h-14z"/>
<path fill="#e7f0f4" d="M248 248h14v14h-14zM220 262h42v14h-42zM234 276h28v14h-28zM234 290h28v14h-28zM220 304h42v14h-42zM220 318h42v14h-42zM220 332h42v14h-42zM444 332h14v14h-14zM220 346h28v14h-28zM444 346h14v14h-14zM444 360h14v14h-14zM458 388h14v14h-14zM542 388h28v14h-28zM598 388h98v14h-98zM710 402h14v14h-14zM724 416h14v14h-14zM486 430h14v14h-14zM738 430h14v14h-14zM962 430h56v14h-56zM752 444h14v14h-14zM962 444h56v14h-56zM500 458h14v14h-14zM752 458h70v14h-70zM962 458h56v14h-56zM500 472h14v14h-14zM766 472h70v14h-70zM738 486h70v14h-70zM514 500h14v14h-14zM654 500h14v14h-14zM514 514h14v14h-14zM626 514h14v14h-14zM528 528h14v14h-14zM528 542h56v14h-56zM206 724h28v14h-28zM262 738h14v14h-14zM318 752h28v14h-28zM1074 752h28v14h-28zM1144 752h14v14h-14zM1774 752h28v14h-28zM1060 766h14v14h-14zM1186 766h14v14h-14zM1760 766h42v14h-42zM1060 780h14v14h-14zM1200 780h56v14h-56zM1746 780h70v14h-70zM1060 794h14v14h-14zM1214 794h84v14h-84zM1732 794h84v14h-84zM1060 808h28v14h-28zM1214 808h112v14h-112zM1522 808h14v14h-14zM1704 808h56v14h-56zM444 822h14v14h-14zM1074 822h28v14h-28zM1200 822h140v14h-140zM1480 822h14v14h-14zM1620 822h14v14h-14zM1676 822h28v14h-28zM472 836h42v14h-42zM1088 836h28v14h-28zM1172 836h182v14h-182zM1452 836h14v14h-14zM1648 836h14v14h-14zM500 850h28v14h-28zM1102 850h280v14h-280zM1410 850h14v14h-14zM500 864h28v14h-28zM1116 864h56v14h-56zM1214 864h126v14h-126zM500 878h42v14h-42zM556 878h28v14h-28zM1102 878h56v14h-56zM1214 878h56v14h-56zM514 892h56v14h-56zM682 892h28v14h-28zM1074 892h182v14h-182zM514 906h56v14h-56zM682 906h42v14h-42zM1046 906h28v14h-28zM514 920h56v14h-56zM696 920h70v14h-70zM1032 920h14v14h-14zM500 934h14v14h-14zM556 934h14v14h-14zM682 934h154v14h-154zM1018 934h14v14h-14zM486 948h14v14h-14zM584 948h14v14h-14zM682 948h98v14h-98zM864 948h14v14h-14zM1004 948h14v14h-14zM612 962h28v14h-28zM668 962h70v14h-70zM878 962h14v14h-14zM1004 962h14v14h-14zM654 976h70v14h-70zM906 976h14v14h-14zM990 976h14v14h-14zM668 990h56v14h-56zM920 990h28v14h-28zM976 990h14v14h-14zM668 1004h56v14h-56zM668 1018h56v14h-56zM668 1032h56v14h-56zM668 1046h84v14h-84zM752 1060h28v14h-28zM780 1074h98v14h-98zM892 1088h28v14h-28zM920 1102h14v14h-14zM934 1130h14v14h-14zM934 1144h14v14h-14zM1466 1214h56v14h-56zM1620 1214h14v14h-14zM920 1228h14v14h-14zM1424 1228h14v14h-14zM906 1242h14v14h-14zM1256 1242h70v14h-70zM1396 1242h14v14h-14zM892 1256h14v14h-14zM1228 1256h14v14h-14zM878 1270h14v14h-14zM864 1298h14v14h-14zM1228 1298h14v14h-14zM864 1312h14v14h-14zM1242 1312h14v14h-14zM1270 1326h14v14h-14zM584 1340h14v14h-14zM1284 1340h14v14h-14zM584 1354h14v14h-14zM822 1354h14v14h-14zM598 1368h14v14h-14zM1298 1368h14v14h-14zM598 1382h28v14h-28zM1298 1382h14v14h-14zM612 1396h14v14h-14zM780 1396h14v14h-14zM1298 1396h14v14h-14zM626 1410h14v14h-14zM1298 1410h14v14h-14zM1298 1424h14v14h-14zM640 1452h14v14h-14zM766 1452h14v14h-14zM1284 1452h14v14h-14zM752 1480h14v14h-14zM1242 1508h14v14h-14zM1228 1536h14v14h-14zM1228 1550h14v14h-14zM1242 1592h14v14h-14zM1242 1606h14v14h-14zM1242 1620h28v14h-28zM1256 1634h14v14h-14zM556 1648h14v14h-14zM1256 1648h14v14h-14zM570 1662h14v14h-14zM570 1690h14v14h-14zM710 1690h14v14h-14zM794 1690h14v14h-14zM696 1704h14v14h-14zM836 1704h14v14h-14zM892 1704h14v14h-14zM934 1704h14v14h-14zM1130 1704h84v14h-84zM976 1718h14v14h-14zM1102 1718h70v14h-70zM556 1732h14v14h-14zM1088 1732h42v14h-42zM556 1760h14v14h-14zM556 1774h14v14h-14zM654 1774h14v14h-14zM500 1802h14v14h-14zM556 1802h14v14h-14zM542 1816h14v14h-14zM626 1816h14v14h-14zM626 1830h14v14h-14zM626 1844h14v14h-14zM626 1858h28v14h-28zM640 1872h28v14h-28zM640 1886h28v14h-28zM626 1900h42v14h-42zM626 1914h42v14h-42zM500 1928h42v14h-42zM612 1928h28v14h-28zM570 1942h56v14h-56zM584 1956h42v14h-42zM584 1970h56v14h-56zM584 1984h56v14h-56zM570 1998h84v14h-84zM570 2012h98v14h-98zM570 2026h28v14h-28zM640 2026h28v14h-28zM570 2040h28v14h-28zM654 2040h28v14h-28zM570 2054h14v14h-14zM654 2054h28v14h-28zM570 2068h14v14h-14zM654 2068h28v14h-28zM584 2082h14v14h-14zM654 2082h28v14h-28zM584 2096h14v14h-14zM654 2096h28v14h-28zM584 2110h14v14h-14zM668 2110h14v14h-14zM584 2124h14v14h-14zM668 2124h28v14h-28zM682 2138h14v14h-14zM570 2152h14v14h-14zM682 2152h28v14h-28zM556 2166h14v14h-14zM696 2166h28v14h-28zM542 2180h14v14h-14zM710 2180h14v14h-14zM528 2194h14v14h-14zM724 2194h14v14h-14zM514 2208h14v14h-14zM724 2208h14v14h-14zM724 2222h14v14h-14zM472 2236h28v14h-28zM472 2250h14v14h-14zM458 2264h28v14h-28zM458 2278h28v14h-28zM458 2292h28v14h-28zM472 2306h28v14h-28zM472 2320h28v14h-28zM486 2334h28v14h-28zM500 2348h28v14h-28zM500 2362h28v14h-28zM696 2362h14v14h-14zM514 2376h14v14h-14zM696 2376h28v14h-28zM514 2390h28v14h-28zM696 2390h28v14h-28zM528 2404h14v14h-14zM696 2404h28v14h-28zM528 2418h14v14h-14zM696 2418h28v14h-28zM682 2432h42v14h-42zM682 2446h42v14h-42z"/>
<path fill="#ecf2f5" d="M262 248h28v14h-28zM262 262h28v14h-28zM262 276h28v14h-28zM262 290h28v14h-28zM262 304h14v14h-14zM262 318h14v14h-14zM444 318h28v14h-28zM262 332h14v14h-14zM486 332h14v14h-14zM248 346h28v14h-28zM500 346h14v14h-14zM514 360h14v14h-14zM444 374h14v14h-14zM528 374h14v14h-14zM626 374h42v14h-42zM570 388h28v14h-28zM696 388h14v14h-14zM458 402h14v14h-14zM724 402h14v14h-14zM472 416h14v14h-14zM738 416h14v14h-14zM962 416h70v14h-70zM752 430h14v14h-14zM934 430h28v14h-28zM1018 430h14v14h-14zM486 444h14v14h-14zM766 444h28v14h-28zM934 444h28v14h-28zM1018 444h14v14h-14zM822 458h42v14h-42zM948 458h14v14h-14zM1018 458h14v14h-14zM836 472h14v14h-14zM976 472h28v14h-28zM500 486h14v14h-14zM808 486h28v14h-28zM514 528h14v14h-14zM612 528h14v14h-14zM514 542h14v14h-14zM584 542h14v14h-14zM528 556h56v14h-56zM234 724h14v14h-14zM276 738h14v14h-14zM1732 738h70v14h-70zM346 752h28v14h-28zM1060 752h14v14h-14zM1158 752h14v14h-14zM1732 752h42v14h-42zM388 766h14v14h-14zM1046 766h14v14h-14zM1200 766h56v14h-56zM1732 766h28v14h-28zM402 780h14v14h-14zM1046 780h14v14h-14zM1256 780h56v14h-56zM1718 780h28v14h-28zM416 794h14v14h-14zM1046 794h14v14h-14zM1298 794h42v14h-42zM1550 794h42v14h-42zM1704 794h28v14h-28zM430 808h14v14h-14zM1046 808h14v14h-14zM1326 808h28v14h-28zM1508 808h14v14h-14zM1606 808h14v14h-14zM1690 808h14v14h-14zM458 822h28v14h-28zM1046 822h28v14h-28zM1340 822h14v14h-14zM1466 822h14v14h-14zM1634 822h14v14h-14zM1662 822h14v14h-14zM514 836h28v14h-28zM1060 836h28v14h-28zM1354 836h14v14h-14zM1438 836h14v14h-14zM528 850h28v14h-28zM1060 850h42v14h-42zM1382 850h28v14h-28zM528 864h140v14h-140zM1060 864h56v14h-56zM1172 864h42v14h-42zM542 878h14v14h-14zM682 878h28v14h-28zM1060 878h42v14h-42zM1158 878h56v14h-56zM710 892h56v14h-56zM1046 892h28v14h-28zM724 906h56v14h-56zM1032 906h14v14h-14zM766 920h42v14h-42zM1018 920h14v14h-14zM514 934h42v14h-42zM836 934h28v14h-28zM1004 934h14v14h-14zM570 948h14v14h-14zM878 948h14v14h-14zM458 962h14v14h-14zM598 962h14v14h-14zM892 962h14v14h-14zM990 962h14v14h-14zM416 976h14v14h-14zM626 976h28v14h-28zM360 990h14v14h-14zM654 990h14v14h-14zM948 990h28v14h-28zM654 1004h14v14h-14zM654 1018h14v14h-14zM654 1032h14v14h-14zM654 1046h14v14h-14zM654 1060h98v14h-98zM766 1074h14v14h-14zM794 1088h98v14h-98zM892 1102h28v14h-28zM920 1116h14v14h-14zM934 1158h14v14h-14zM934 1200h14v14h-14zM1522 1214h14v14h-14zM1592 1214h28v14h-28zM1438 1228h14v14h-14zM1634 1228h14v14h-14zM1228 1270h14v14h-14zM864 1284h14v14h-14zM1228 1284h14v14h-14zM1242 1298h14v14h-14zM1256 1312h28v14h-28zM584 1326h14v14h-14zM850 1326h14v14h-14zM1284 1326h14v14h-14zM598 1340h14v14h-14zM1298 1340h14v14h-14zM598 1354h14v14h-14zM1298 1354h14v14h-14zM612 1368h14v14h-14zM626 1396h14v14h-14zM640 1438h14v14h-14zM766 1438h14v14h-14zM1298 1438h14v14h-14zM1284 1466h14v14h-14zM1270 1480h14v14h-14zM1256 1494h14v14h-14zM1242 1578h14v14h-14zM1256 1606h14v14h-14zM1270 1620h14v14h-14zM1270 1634h14v14h-14zM542 1648h14v14h-14zM570 1676h14v14h-14zM724 1690h14v14h-14zM906 1704h28v14h-28zM556 1718h14v14h-14zM962 1718h14v14h-14zM1172 1718h28v14h-28zM682 1732h14v14h-14zM1046 1732h42v14h-42zM1130 1732h56v14h-56zM1088 1746h84v14h-84zM542 1760h14v14h-14zM668 1760h14v14h-14zM1116 1760h42v14h-42zM486 1788h14v14h-14zM556 1788h14v14h-14zM514 1802h42v14h-42zM640 1802h14v14h-14zM640 1816h14v14h-14zM640 1830h14v14h-14zM640 1844h28v14h-28zM654 1858h28v14h-28zM668 1872h14v14h-14zM668 1886h28v14h-28zM668 1900h28v14h-28zM668 1914h28v14h-28zM640 1928h42v14h-42zM458 1942h112v14h-112zM626 1942h56v14h-56zM556 1956h28v14h-28zM626 1956h56v14h-56zM556 1970h28v14h-28zM640 1970h56v14h-56zM556 1984h28v14h-28zM640 1984h70v14h-70zM556 1998h14v14h-14zM654 1998h56v14h-56zM556 2012h14v14h-14zM668 2012h56v14h-56zM556 2026h14v14h-14zM668 2026h56v14h-56zM556 2040h14v14h-14zM682 2040h28v14h-28zM556 2054h14v14h-14zM682 2054h28v14h-28zM682 2068h28v14h-28zM570 2082h14v14h-14zM682 2082h28v14h-28zM570 2096h14v14h-14zM682 2096h28v14h-28zM570 2110h14v14h-14zM682 2110h42v14h-42zM570 2124h14v14h-14zM696 2124h28v14h-28zM570 2138h14v14h-14zM696 2138h42v14h-42zM710 2152h28v14h-28zM724 2166h14v14h-14zM724 2180h14v14h-14zM500 2208h14v14h-14zM458 2222h42v14h-42zM402 2236h70v14h-70zM402 2250h70v14h-70zM402 2264h56v14h-56zM402 2278h56v14h-56zM920 2278h112v14h-112zM416 2292h42v14h-42zM892 2292h154v14h-154zM416 2306h56v14h-56zM892 2306h154v14h-154zM416 2320h56v14h-56zM892 2320h154v14h-154zM416 2334h70v14h-70zM892 2334h140v14h-140zM430 2348h70v14h-70zM906 2348h42v14h-42zM430 2362h70v14h-70zM444 2376h70v14h-70zM724 2376h14v14h-14zM472 2390h42v14h-42zM724 2390h70v14h-70zM486 2404h42v14h-42zM724 2404h70v14h-70zM514 2418h14v14h-14zM724 2418h70v14h-70zM724 2432h70v14h-70zM724 2446h56v14h-56z"/>
<path fill="#eff3f5" d="M290 248h42v14h-42zM290 262h28v14h-28zM290 276h28v14h-28zM290 290h28v14h-28zM276 304h28v14h-28zM276 318h28v14h-28zM430 318h14v14h-14zM472 318h14v14h-14zM276 332h28v14h-28zM430 332h14v14h-14zM276 346h14v14h-14zM430 346h14v14h-14zM430 360h14v14h-14zM612 374h14v14h-14zM668 374h14v14h-14zM444 388h14v14h-14zM710 388h14v14h-14zM1018 388h14v14h-14zM738 402h14v14h-14zM976 402h70v14h-70zM752 416h14v14h-14zM948 416h14v14h-14zM1032 416h14v14h-14zM472 430h14v14h-14zM766 430h14v14h-14zM906 430h28v14h-28zM1032 430h14v14h-14zM794 444h140v14h-140zM1032 444h14v14h-14zM486 458h14v14h-14zM864 458h28v14h-28zM1032 458h14v14h-14zM486 472h14v14h-14zM850 472h14v14h-14zM962 472h14v14h-14zM1004 472h14v14h-14zM836 486h14v14h-14zM500 500h14v14h-14zM668 500h154v14h-154zM500 514h14v14h-14zM640 514h14v14h-14zM500 528h14v14h-14zM598 542h14v14h-14zM514 556h14v14h-14zM584 556h14v14h-14zM514 570h56v14h-56zM248 724h28v14h-28zM1718 724h28v14h-28zM290 738h14v14h-14zM1088 738h28v14h-28zM1718 738h14v14h-14zM374 752h14v14h-14zM1046 752h14v14h-14zM1172 752h14v14h-14zM1704 752h28v14h-28zM402 766h14v14h-14zM1256 766h42v14h-42zM1704 766h28v14h-28zM416 780h14v14h-14zM1032 780h14v14h-14zM1312 780h28v14h-28zM1690 780h28v14h-28zM1032 794h14v14h-14zM1340 794h14v14h-14zM1536 794h14v14h-14zM1592 794h14v14h-14zM1690 794h14v14h-14zM444 808h14v14h-14zM1032 808h14v14h-14zM1354 808h14v14h-14zM1494 808h14v14h-14zM1620 808h14v14h-14zM1662 808h28v14h-28zM486 822h42v14h-42zM1354 822h14v14h-14zM1648 822h14v14h-14zM542 836h14v14h-14zM1046 836h14v14h-14zM1368 836h14v14h-14zM556 850h28v14h-28zM1046 850h14v14h-14zM668 864h28v14h-28zM710 864h42v14h-42zM1046 864h14v14h-14zM710 878h70v14h-70zM1046 878h14v14h-14zM766 892h28v14h-28zM1032 892h14v14h-14zM780 906h28v14h-28zM808 920h28v14h-28zM864 934h14v14h-14zM500 948h14v14h-14zM556 948h14v14h-14zM892 948h14v14h-14zM990 948h14v14h-14zM584 962h14v14h-14zM906 962h14v14h-14zM612 976h14v14h-14zM920 976h14v14h-14zM976 976h14v14h-14zM374 990h14v14h-14zM640 990h14v14h-14zM640 1004h14v14h-14zM640 1018h14v14h-14zM640 1032h14v14h-14zM640 1046h14v14h-14zM640 1060h14v14h-14zM752 1074h14v14h-14zM780 1088h14v14h-14zM878 1102h14v14h-14zM906 1116h14v14h-14zM920 1130h14v14h-14zM934 1172h14v14h-14zM934 1186h14v14h-14zM920 1214h14v14h-14zM1536 1214h56v14h-56zM906 1228h14v14h-14zM1452 1228h14v14h-14zM1620 1228h14v14h-14zM892 1242h14v14h-14zM1410 1242h14v14h-14zM878 1256h14v14h-14zM1242 1256h140v14h-140zM864 1270h14v14h-14zM1242 1270h14v14h-14zM1242 1284h14v14h-14zM1256 1298h28v14h-28zM584 1312h14v14h-14zM850 1312h14v14h-14zM1284 1312h14v14h-14zM598 1326h14v14h-14zM1298 1326h14v14h-14zM612 1340h14v14h-14zM836 1340h14v14h-14zM612 1354h14v14h-14zM626 1368h14v14h-14zM794 1368h14v14h-14zM626 1382h14v14h-14zM780 1382h14v14h-14zM640 1424h14v14h-14zM766 1424h14v14h-14zM1298 1452h14v14h-14zM654 1466h14v14h-14zM682 1494h14v14h-14zM738 1494h14v14h-14zM1242 1522h14v14h-14zM1242 1536h14v14h-14zM1242 1550h14v14h-14zM1242 1564h14v14h-14zM1256 1592h14v14h-14zM1270 1606h28v14h-28zM556 1662h14v14h-14zM738 1690h14v14h-14zM766 1690h28v14h-28zM556 1704h14v14h-14zM710 1704h14v14h-14zM822 1704h14v14h-14zM696 1718h14v14h-14zM948 1718h14v14h-14zM542 1732h14v14h-14zM976 1732h70v14h-70zM542 1746h14v14h-14zM682 1746h14v14h-14zM1074 1746h14v14h-14zM1102 1760h14v14h-14zM542 1774h14v14h-14zM500 1788h56v14h-56zM654 1788h14v14h-14zM654 1830h14v14h-14zM668 1844h14v14h-14zM682 1858h14v14h-14zM682 1872h14v14h-14zM696 1886h14v14h-14zM696 1900h14v14h-14zM696 1914h14v14h-14zM682 1928h28v14h-28zM682 1942h28v14h-28zM458 1956h98v14h-98zM682 1956h42v14h-42zM542 1970h14v14h-14zM696 1970h42v14h-42zM542 1984h14v14h-14zM710 1984h42v14h-42zM528 1998h28v14h-28zM710 1998h56v14h-56zM542 2012h14v14h-14zM724 2012h42v14h-42zM542 2026h14v14h-14zM724 2026h56v14h-56zM542 2040h14v14h-14zM710 2040h70v14h-70zM710 2054h84v14h-84zM556 2068h14v14h-14zM710 2068h84v14h-84zM556 2082h14v14h-14zM710 2082h84v14h-84zM710 2096h70v14h-70zM724 2110h14v14h-14zM724 2124h14v14h-14zM738 2138h42v14h-42zM556 2152h14v14h-14zM738 2152h28v14h-28zM542 2166h14v14h-14zM738 2166h28v14h-28zM528 2180h14v14h-14zM738 2180h14v14h-14zM514 2194h14v14h-14zM738 2194h14v14h-14zM402 2208h98v14h-98zM738 2208h14v14h-14zM402 2222h56v14h-56z"/>
<path fill="#f3f5f6" d="M332 248h28v14h-28zM318 262h42v14h-42zM318 276h28v14h-28zM318 290h28v14h-28zM304 304h28v14h-28zM444 304h14v14h-14zM318 318h14v14h-14zM416 318h14v14h-14zM416 332h14v14h-14zM290 346h14v14h-14zM416 346h14v14h-14zM626 360h42v14h-42zM430 374h14v14h-14zM542 374h14v14h-14zM598 374h14v14h-14zM682 374h14v14h-14zM1018 374h28v14h-28zM724 388h14v14h-14zM990 388h28v14h-28zM1032 388h14v14h-14zM962 402h14v14h-14zM1046 402h14v14h-14zM458 416h14v14h-14zM920 416h28v14h-28zM1046 416h14v14h-14zM780 430h14v14h-14zM878 430h28v14h-28zM1046 430h14v14h-14zM472 444h14v14h-14zM1046 444h14v14h-14zM892 458h56v14h-56zM1046 458h14v14h-14zM864 472h14v14h-14zM1018 472h14v14h-14zM486 486h14v14h-14zM850 486h14v14h-14zM486 500h14v14h-14zM822 500h14v14h-14zM626 528h14v14h-14zM500 542h14v14h-14zM612 542h14v14h-14zM500 556h14v14h-14zM598 556h14v14h-14zM500 570h14v14h-14zM570 570h28v14h-28zM514 584h70v14h-70zM528 598h28v14h-28zM220 710h28v14h-28zM1704 710h14v14h-14zM1690 724h28v14h-28zM304 738h14v14h-14zM1074 738h14v14h-14zM1116 738h14v14h-14zM1690 738h28v14h-28zM388 752h14v14h-14zM1186 752h14v14h-14zM1214 752h70v14h-70zM1690 752h14v14h-14zM1032 766h14v14h-14zM1298 766h28v14h-28zM1690 766h14v14h-14zM1564 780h28v14h-28zM1676 780h14v14h-14zM430 794h14v14h-14zM1018 794h14v14h-14zM1354 794h14v14h-14zM1522 794h14v14h-14zM1606 794h14v14h-14zM1662 794h28v14h-28zM458 808h14v14h-14zM1480 808h14v14h-14zM1634 808h28v14h-28zM528 822h14v14h-14zM1032 822h14v14h-14zM1368 822h14v14h-14zM1452 822h14v14h-14zM556 836h14v14h-14zM1032 836h14v14h-14zM1382 836h14v14h-14zM1424 836h14v14h-14zM584 850h14v14h-14zM738 850h14v14h-14zM696 864h14v14h-14zM752 864h28v14h-28zM780 878h14v14h-14zM1032 878h14v14h-14zM794 892h14v14h-14zM808 906h14v14h-14zM1018 906h14v14h-14zM836 920h14v14h-14zM1004 920h14v14h-14zM878 934h14v14h-14zM990 934h14v14h-14zM514 948h42v14h-42zM570 962h14v14h-14zM976 962h14v14h-14zM430 976h14v14h-14zM934 976h14v14h-14zM962 976h14v14h-14zM626 990h14v14h-14zM626 1004h14v14h-14zM626 1018h14v14h-14zM626 1032h14v14h-14zM626 1046h14v14h-14zM626 1060h14v14h-14zM640 1074h70v14h-70zM738 1074h14v14h-14zM766 1088h14v14h-14zM850 1102h28v14h-28zM892 1116h14v14h-14zM920 1144h14v14h-14zM1466 1228h28v14h-28zM1606 1228h14v14h-14zM1424 1242h14v14h-14zM1382 1256h14v14h-14zM1256 1270h70v14h-70zM850 1284h14v14h-14zM1256 1284h56v14h-56zM850 1298h14v14h-14zM1284 1298h28v14h-28zM598 1312h14v14h-14zM1298 1312h14v14h-14zM612 1326h14v14h-14zM1312 1326h14v14h-14zM1312 1340h14v14h-14zM626 1354h14v14h-14zM808 1354h14v14h-14zM1312 1354h14v14h-14zM1312 1368h14v14h-14zM1312 1382h14v14h-14zM1312 1396h14v14h-14zM640 1410h14v14h-14zM766 1410h14v14h-14zM1312 1410h14v14h-14zM1312 1424h14v14h-14zM1312 1438h14v14h-14zM752 1466h14v14h-14zM1298 1466h14v14h-14zM668 1480h14v14h-14zM1284 1480h14v14h-14zM1270 1494h14v14h-14zM1256 1508h14v14h-14zM1256 1564h14v14h-14zM1256 1578h14v14h-14zM1270 1592h28v14h-28zM542 1662h14v14h-14zM556 1676h14v14h-14zM556 1690h14v14h-14zM752 1690h14v14h-14zM542 1718h14v14h-14zM934 1718h14v14h-14zM962 1732h14v14h-14zM528 1746h14v14h-14zM514 1760h28v14h-28zM1088 1760h14v14h-14zM500 1774h42v14h-42zM668 1774h14v14h-14zM654 1802h14v14h-14zM654 1816h14v14h-14zM668 1830h14v14h-14zM682 1844h14v14h-14zM696 1858h14v14h-14zM696 1872h14v14h-14zM710 1914h14v14h-14zM710 1928h14v14h-14zM710 1942h14v14h-14zM724 1956h14v14h-14zM458 1970h84v14h-84zM738 1970h14v14h-14zM514 1984h28v14h-28zM752 1984h14v14h-14zM514 1998h14v14h-14zM766 1998h14v14h-14zM528 2012h14v14h-14zM766 2012h14v14h-14zM528 2026h14v14h-14zM780 2026h14v14h-14zM780 2040h14v14h-14zM542 2054h14v14h-14zM542 2068h14v14h-14zM556 2096h14v14h-14zM556 2110h14v14h-14zM556 2124h14v14h-14zM556 2138h14v14h-14zM766 2152h14v14h-14zM766 2166h14v14h-14zM752 2180h28v14h-28zM402 2194h56v14h-56zM500 2194h14v14h-14zM752 2194h14v14h-14zM752 2208h14v14h-14z"/>
<path fill="#f7f6f6" d="M360 262h14v14h-14zM346 276h28v14h-28zM346 290h28v14h-28zM332 304h28v14h-28zM416 304h28v14h-28zM458 304h14v14h-14zM332 318h14v14h-14zM402 318h14v14h-14zM486 318h14v14h-14zM318 332h28v14h-28zM500 332h14v14h-14zM318 346h14v14h-14zM416 360h14v14h-14zM528 360h14v14h-14zM668 360h14v14h-14zM1018 360h42v14h-42zM556 374h14v14h-14zM584 374h14v14h-14zM696 374h14v14h-14zM990 374h28v14h-28zM1046 374h14v14h-14zM430 388h14v14h-14zM738 388h14v14h-14zM976 388h14v14h-14zM1046 388h14v14h-14zM444 402h14v14h-14zM752 402h14v14h-14zM948 402h14v14h-14zM1060 402h14v14h-14zM766 416h14v14h-14zM906 416h14v14h-14zM1060 416h14v14h-14zM794 430h84v14h-84zM1060 430h14v14h-14zM1060 444h14v14h-14zM472 458h14v14h-14zM878 472h14v14h-14zM948 472h14v14h-14zM1032 472h14v14h-14zM486 514h14v14h-14zM654 514h14v14h-14zM486 528h14v14h-14zM486 542h14v14h-14zM486 556h14v14h-14zM486 570h14v14h-14zM598 570h14v14h-14zM486 584h28v14h-28zM584 584h14v14h-14zM500 598h28v14h-28zM556 598h42v14h-42zM528 612h42v14h-42zM1690 696h14v14h-14zM248 710h14v14h-14zM1676 710h28v14h-28zM276 724h14v14h-14zM1676 724h14v14h-14zM318 738h14v14h-14zM1060 738h14v14h-14zM1130 738h14v14h-14zM1676 738h14v14h-14zM402 752h14v14h-14zM1032 752h14v14h-14zM1200 752h14v14h-14zM1284 752h14v14h-14zM1676 752h14v14h-14zM416 766h14v14h-14zM1662 766h28v14h-28zM430 780h14v14h-14zM1018 780h14v14h-14zM1340 780h14v14h-14zM1536 780h28v14h-28zM1592 780h28v14h-28zM1648 780h28v14h-28zM444 794h14v14h-14zM1494 794h28v14h-28zM1620 794h42v14h-42zM472 808h56v14h-56zM1018 808h14v14h-14zM1368 808h14v14h-14zM1466 808h14v14h-14zM542 822h14v14h-14zM1438 822h14v14h-14zM1396 836h28v14h-28zM598 850h14v14h-14zM696 850h42v14h-42zM752 850h28v14h-28zM1032 850h14v14h-14zM780 864h14v14h-14zM1032 864h14v14h-14zM794 878h14v14h-14zM1018 892h14v14h-14zM822 906h14v14h-14zM1004 906h14v14h-14zM850 920h28v14h-28zM892 934h14v14h-14zM906 948h14v14h-14zM976 948h14v14h-14zM472 962h14v14h-14zM920 962h14v14h-14zM598 976h14v14h-14zM948 976h14v14h-14zM388 990h14v14h-14zM612 990h14v14h-14zM612 1004h14v14h-14zM710 1074h28v14h-28zM808 1102h42v14h-42zM878 1116h14v14h-14zM906 1130h14v14h-14zM920 1158h14v14h-14zM920 1200h14v14h-14zM906 1214h14v14h-14zM1494 1228h28v14h-28zM1592 1228h14v14h-14zM1438 1242h14v14h-14zM1634 1242h14v14h-14zM864 1256h14v14h-14zM1396 1256h14v14h-14zM1326 1270h56v14h-56zM1312 1284h42v14h-42zM584 1298h14v14h-14zM1312 1298h28v14h-28zM612 1312h14v14h-14zM1312 1312h14v14h-14zM626 1340h14v14h-14zM640 1382h14v14h-14zM640 1396h14v14h-14zM1312 1452h14v14h-14zM696 1494h14v14h-14zM724 1494h14v14h-14zM1256 1522h14v14h-14zM1256 1550h14v14h-14zM1270 1578h14v14h-14zM1298 1592h14v14h-14zM542 1676h14v14h-14zM542 1704h14v14h-14zM528 1732h14v14h-14zM696 1732h14v14h-14zM948 1732h14v14h-14zM514 1746h14v14h-14zM1060 1746h14v14h-14zM500 1760h14v14h-14zM682 1760h14v14h-14zM668 1788h14v14h-14zM668 1802h14v14h-14zM668 1816h14v14h-14zM682 1830h14v14h-14zM710 1872h14v14h-14zM710 1886h14v14h-14zM710 1900h14v14h-14zM724 1928h14v14h-14zM724 1942h14v14h-14zM738 1956h14v14h-14zM752 1970h14v14h-14zM444 1984h70v14h-70zM766 1984h14v14h-14zM500 1998h14v14h-14zM514 2012h14v14h-14zM780 2012h14v14h-14zM514 2026h14v14h-14zM528 2040h14v14h-14zM794 2040h14v14h-14zM528 2054h14v14h-14zM542 2082h14v14h-14zM542 2096h14v14h-14zM542 2152h14v14h-14zM528 2166h14v14h-14zM402 2180h42v14h-42zM514 2180h14v14h-14zM458 2194h42v14h-42z"/>
<path fill="#f8f4f2" d="M374 262h14v14h-14zM374 276h28v14h-28zM374 290h70v14h-70zM360 304h56v14h-56zM472 304h14v14h-14zM346 318h56v14h-56zM346 332h14v14h-14zM388 332h28v14h-28zM1032 332h14v14h-14zM332 346h14v14h-14zM402 346h14v14h-14zM514 346h14v14h-14zM1018 346h28v14h-28zM612 360h14v14h-14zM1004 360h14v14h-14zM1060 360h28v14h-28zM416 374h14v14h-14zM570 374h14v14h-14zM710 374h14v14h-14zM976 374h14v14h-14zM1060 374h28v14h-28zM962 388h14v14h-14zM1060 388h28v14h-28zM934 402h14v14h-14zM1074 402h14v14h-14zM780 416h14v14h-14zM892 416h14v14h-14zM1074 416h14v14h-14zM458 430h14v14h-14zM1074 430h14v14h-14zM1074 444h14v14h-14zM1060 458h14v14h-14zM472 472h14v14h-14zM892 472h14v14h-14zM934 472h14v14h-14zM1046 472h14v14h-14zM472 486h14v14h-14zM864 486h14v14h-14zM962 486h42v14h-42zM472 500h14v14h-14zM836 500h14v14h-14zM472 514h14v14h-14zM752 514h56v14h-56zM472 528h14v14h-14zM640 528h14v14h-14zM472 542h14v14h-14zM626 542h14v14h-14zM472 556h14v14h-14zM612 556h14v14h-14zM472 570h14v14h-14zM612 570h14v14h-14zM472 584h14v14h-14zM598 584h14v14h-14zM486 598h14v14h-14zM598 598h14v14h-14zM500 612h28v14h-28zM570 612h42v14h-42zM1662 682h28v14h-28zM220 696h14v14h-14zM1662 696h28v14h-28zM262 710h14v14h-14zM1662 710h14v14h-14zM290 724h14v14h-14zM1648 724h28v14h-28zM332 738h14v14h-14zM374 738h14v14h-14zM1046 738h14v14h-14zM1144 738h14v14h-14zM1242 738h42v14h-42zM1648 738h28v14h-28zM416 752h14v14h-14zM1298 752h14v14h-14zM1634 752h42v14h-42zM430 766h14v14h-14zM1018 766h14v14h-14zM1326 766h14v14h-14zM1564 766h98v14h-98zM444 780h14v14h-14zM1354 780h14v14h-14zM1522 780h14v14h-14zM1620 780h28v14h-28zM458 794h14v14h-14zM1480 794h14v14h-14zM528 808h14v14h-14zM1452 808h14v14h-14zM1018 822h14v14h-14zM1382 822h14v14h-14zM1424 822h14v14h-14zM570 836h14v14h-14zM710 836h56v14h-56zM1018 836h14v14h-14zM612 850h28v14h-28zM668 850h28v14h-28zM780 850h14v14h-14zM794 864h14v14h-14zM1018 878h14v14h-14zM808 892h14v14h-14zM878 920h14v14h-14zM990 920h14v14h-14zM976 934h14v14h-14zM920 948h14v14h-14zM556 962h14v14h-14zM934 962h42v14h-42zM584 976h14v14h-14zM598 990h14v14h-14zM612 1018h14v14h-14zM612 1032h14v14h-14zM612 1046h14v14h-14zM612 1060h14v14h-14zM626 1074h14v14h-14zM640 1088h42v14h-42zM752 1088h14v14h-14zM794 1102h14v14h-14zM864 1116h14v14h-14zM892 1130h14v14h-14zM906 1144h14v14h-14zM920 1172h14v14h-14zM570 1186h28v14h-28zM920 1186h14v14h-14zM556 1200h42v14h-42zM892 1228h14v14h-14zM1522 1228h14v14h-14zM1578 1228h14v14h-14zM878 1242h14v14h-14zM1452 1242h14v14h-14zM1620 1242h14v14h-14zM1410 1256h14v14h-14zM850 1270h14v14h-14zM1382 1270h14v14h-14zM584 1284h14v14h-14zM1354 1284h14v14h-14zM598 1298h14v14h-14zM1340 1298h14v14h-14zM1326 1312h14v14h-14zM626 1326h14v14h-14zM836 1326h14v14h-14zM1326 1326h14v14h-14zM822 1340h14v14h-14zM1326 1340h14v14h-14zM1326 1354h14v14h-14zM640 1368h14v14h-14zM780 1368h14v14h-14zM1326 1368h14v14h-14zM1326 1382h14v14h-14zM766 1396h14v14h-14zM1326 1396h14v14h-14zM1326 1410h14v14h-14zM1326 1424h14v14h-14zM1326 1438h14v14h-14zM654 1452h14v14h-14zM752 1452h14v14h-14zM1312 1466h14v14h-14zM738 1480h14v14h-14zM1298 1480h14v14h-14zM710 1494h14v14h-14zM1284 1494h14v14h-14zM1270 1508h14v14h-14zM1256 1536h14v14h-14zM1270 1564h14v14h-14zM1284 1578h28v14h-28zM542 1690h14v14h-14zM724 1704h14v14h-14zM808 1704h14v14h-14zM528 1718h14v14h-14zM710 1718h14v14h-14zM906 1718h28v14h-28zM514 1732h14v14h-14zM696 1746h14v14h-14zM976 1746h56v14h-56zM1046 1746h14v14h-14zM1074 1760h14v14h-14zM682 1774h14v14h-14zM682 1816h14v14h-14zM696 1844h14v14h-14zM710 1858h14v14h-14zM724 1900h14v14h-14zM724 1914h14v14h-14zM738 1942h14v14h-14zM752 1956h14v14h-14zM766 1970h14v14h-14zM444 1998h56v14h-56zM780 1998h14v14h-14zM486 2012h28v14h-28zM794 2012h14v14h-14zM500 2026h14v14h-14zM794 2026h14v14h-14zM514 2040h14v14h-14zM514 2054h14v14h-14zM528 2068h14v14h-14zM528 2082h14v14h-14zM542 2110h14v14h-14zM542 2124h14v14h-14zM542 2138h14v14h-14zM402 2152h14v14h-14zM528 2152h14v14h-14zM416 2166h14v14h-14zM444 2180h70v14h-70z"/>
<path fill="#e0ecf3" d="M458 346h28v14h-28zM458 360h14v14h-14zM500 360h14v14h-14zM458 374h14v14h-14zM514 374h14v14h-14zM472 388h14v14h-14zM528 388h14v14h-14zM486 402h14v14h-14zM542 402h42v14h-42zM500 416h14v14h-14zM598 416h112v14h-112zM500 430h28v14h-28zM682 430h42v14h-42zM514 444h14v14h-14zM696 444h28v14h-28zM514 458h14v14h-14zM710 458h28v14h-28zM514 472h14v14h-14zM696 472h42v14h-42zM668 486h14v14h-14zM528 500h14v14h-14zM612 514h14v14h-14zM556 528h42v14h-42zM262 752h42v14h-42zM360 766h14v14h-14zM1102 766h56v14h-56zM1088 780h28v14h-28zM1158 780h28v14h-28zM1102 794h14v14h-14zM1172 794h14v14h-14zM402 808h14v14h-14zM1102 808h28v14h-28zM1158 808h28v14h-28zM1550 808h42v14h-42zM416 822h14v14h-14zM1116 822h42v14h-42zM1508 822h28v14h-28zM1606 822h14v14h-14zM444 836h14v14h-14zM1466 836h14v14h-14zM1620 836h14v14h-14zM1690 836h70v14h-70zM458 850h14v14h-14zM1438 850h14v14h-14zM1648 850h14v14h-14zM1732 850h42v14h-42zM472 864h14v14h-14zM1382 864h14v14h-14zM1746 864h42v14h-42zM472 878h14v14h-14zM612 878h42v14h-42zM1354 878h14v14h-14zM1746 878h42v14h-42zM486 892h14v14h-14zM598 892h14v14h-14zM654 892h14v14h-14zM1312 892h42v14h-42zM1746 892h28v14h-28zM486 906h14v14h-14zM584 906h14v14h-14zM654 906h14v14h-14zM1284 906h42v14h-42zM1746 906h28v14h-28zM486 920h14v14h-14zM584 920h14v14h-14zM654 920h14v14h-14zM1088 920h28v14h-28zM1186 920h98v14h-98zM1732 920h42v14h-42zM486 934h14v14h-14zM584 934h28v14h-28zM640 934h28v14h-28zM1060 934h28v14h-28zM1732 934h28v14h-28zM472 948h14v14h-14zM612 948h42v14h-42zM1046 948h14v14h-14zM1746 948h14v14h-14zM444 962h14v14h-14zM1032 962h14v14h-14zM822 976h42v14h-42zM1018 976h14v14h-14zM836 990h56v14h-56zM1004 990h14v14h-14zM850 1004h98v14h-98zM976 1004h28v14h-28zM864 1018h112v14h-112zM864 1032h98v14h-98zM878 1046h84v14h-84zM892 1060h84v14h-84zM934 1074h42v14h-42zM948 1088h14v14h-14zM948 1102h14v14h-14zM948 1116h14v14h-14zM948 1130h14v14h-14zM948 1144h14v14h-14zM948 1158h14v14h-14zM948 1200h14v14h-14zM1536 1200h28v14h-28zM1606 1200h56v14h-56zM948 1214h14v14h-14zM1438 1214h14v14h-14zM934 1228h14v14h-14zM1410 1228h14v14h-14zM920 1242h14v14h-14zM1228 1242h14v14h-14zM1354 1242h28v14h-28zM920 1256h14v14h-14zM1214 1256h14v14h-14zM906 1270h14v14h-14zM892 1284h14v14h-14zM892 1298h14v14h-14zM1214 1298h14v14h-14zM878 1312h14v14h-14zM878 1326h14v14h-14zM1242 1326h14v14h-14zM864 1340h14v14h-14zM1270 1340h14v14h-14zM836 1354h14v14h-14zM1284 1368h14v14h-14zM794 1382h14v14h-14zM570 1410h42v14h-42zM612 1424h14v14h-14zM1284 1424h14v14h-14zM626 1438h14v14h-14zM1284 1438h14v14h-14zM640 1466h14v14h-14zM1242 1494h14v14h-14zM696 1508h14v14h-14zM1228 1508h14v14h-14zM1228 1606h14v14h-14zM1228 1620h14v14h-14zM556 1634h14v14h-14zM1228 1634h14v14h-14zM584 1648h14v14h-14zM1228 1648h14v14h-14zM584 1662h14v14h-14zM1228 1662h14v14h-14zM584 1676h14v14h-14zM1102 1676h126v14h-126zM696 1690h14v14h-14zM808 1690h14v14h-14zM1088 1690h28v14h-28zM682 1704h14v14h-14zM864 1704h14v14h-14zM962 1704h14v14h-14zM1060 1704h28v14h-28zM570 1718h14v14h-14zM1018 1718h14v14h-14zM668 1732h14v14h-14zM654 1760h14v14h-14zM570 1774h14v14h-14zM472 1802h14v14h-14zM584 1802h42v14h-42zM584 1816h28v14h-28zM556 1830h56v14h-56zM598 1844h14v14h-14zM598 1858h14v14h-14zM598 1900h14v14h-14zM514 1914h42v14h-42zM584 1914h14v14h-14zM458 1928h14v14h-14zM612 2124h28v14h-28zM598 2138h42v14h-42zM598 2152h14v14h-14zM626 2152h42v14h-42zM654 2166h28v14h-28zM668 2180h28v14h-28zM542 2194h14v14h-14zM682 2194h28v14h-28zM528 2208h14v14h-14zM514 2222h14v14h-14zM710 2222h14v14h-14zM500 2236h14v14h-14zM500 2250h14v14h-14zM500 2264h14v14h-14zM500 2278h14v14h-14zM500 2292h14v14h-14zM514 2306h14v14h-14zM528 2320h14v14h-14zM528 2334h14v14h-14zM668 2334h28v14h-28zM542 2348h14v14h-14zM640 2348h42v14h-42zM542 2362h28v14h-28zM598 2362h70v14h-70zM556 2376h98v14h-98zM556 2390h84v14h-84zM556 2404h70v14h-70zM570 2418h56v14h-56z"/>
<path fill="#ddebf2" d="M472 360h28v14h-28zM472 374h42v14h-42zM486 388h42v14h-42zM500 402h42v14h-42zM514 416h84v14h-84zM528 430h28v14h-28zM598 430h84v14h-84zM528 444h14v14h-14zM640 444h56v14h-56zM528 458h14v14h-14zM654 458h56v14h-56zM528 472h14v14h-14zM654 472h42v14h-42zM528 486h14v14h-14zM654 486h14v14h-14zM542 500h14v14h-14zM626 500h14v14h-14zM542 514h28v14h-28zM584 514h28v14h-28zM206 752h56v14h-56zM346 766h14v14h-14zM374 780h14v14h-14zM1116 780h42v14h-42zM388 794h14v14h-14zM1116 794h56v14h-56zM1130 808h28v14h-28zM1536 822h14v14h-14zM1592 822h14v14h-14zM430 836h14v14h-14zM1480 836h14v14h-14zM444 850h14v14h-14zM1452 850h14v14h-14zM1634 850h14v14h-14zM1662 850h70v14h-70zM458 864h14v14h-14zM1396 864h28v14h-28zM1718 864h28v14h-28zM1368 878h14v14h-14zM1718 878h28v14h-28zM472 892h14v14h-14zM612 892h42v14h-42zM1354 892h14v14h-14zM1718 892h28v14h-28zM472 906h14v14h-14zM598 906h56v14h-56zM1326 906h28v14h-28zM1718 906h28v14h-28zM598 920h56v14h-56zM1116 920h70v14h-70zM1284 920h56v14h-56zM1718 920h14v14h-14zM612 934h28v14h-28zM1088 934h28v14h-28zM1242 934h56v14h-56zM1060 948h28v14h-28zM1732 948h14v14h-14zM1046 962h28v14h-28zM388 976h14v14h-14zM1032 976h28v14h-28zM1018 990h28v14h-28zM1004 1004h14v14h-14zM976 1018h14v14h-14zM962 1032h28v14h-28zM962 1046h28v14h-28zM976 1060h14v14h-14zM976 1074h14v14h-14zM962 1088h14v14h-14zM962 1102h14v14h-14zM962 1116h14v14h-14zM962 1130h14v14h-14zM962 1172h14v14h-14zM962 1186h14v14h-14zM1578 1186h70v14h-70zM962 1200h14v14h-14zM1452 1200h84v14h-84zM962 1214h14v14h-14zM1424 1214h14v14h-14zM948 1228h14v14h-14zM934 1242h28v14h-28zM934 1256h14v14h-14zM920 1270h28v14h-28zM906 1284h28v14h-28zM906 1298h28v14h-28zM892 1312h28v14h-28zM1214 1312h14v14h-14zM892 1326h14v14h-14zM1228 1326h14v14h-14zM878 1340h14v14h-14zM1256 1340h14v14h-14zM1270 1354h14v14h-14zM822 1368h14v14h-14zM1284 1382h14v14h-14zM1284 1396h14v14h-14zM1284 1410h14v14h-14zM570 1424h42v14h-42zM780 1424h14v14h-14zM626 1452h14v14h-14zM1270 1452h14v14h-14zM766 1466h14v14h-14zM1256 1466h14v14h-14zM1242 1480h14v14h-14zM752 1494h14v14h-14zM738 1508h14v14h-14zM1214 1536h14v14h-14zM1214 1550h14v14h-14zM1214 1564h14v14h-14zM1214 1578h14v14h-14zM1214 1592h14v14h-14zM1214 1606h14v14h-14zM542 1620h14v14h-14zM1214 1620h14v14h-14zM570 1634h14v14h-14zM1214 1634h14v14h-14zM1214 1648h14v14h-14zM598 1662h14v14h-14zM1102 1662h70v14h-70zM1200 1662h28v14h-28zM682 1676h84v14h-84zM1074 1676h28v14h-28zM584 1690h14v14h-14zM668 1690h28v14h-28zM920 1690h28v14h-28zM1060 1690h28v14h-28zM668 1704h14v14h-14zM976 1704h42v14h-42zM1032 1704h28v14h-28zM668 1718h14v14h-14zM570 1732h14v14h-14zM570 1746h14v14h-14zM570 1760h14v14h-14zM640 1774h14v14h-14zM584 1788h14v14h-14zM626 1788h14v14h-14zM500 1816h14v14h-14zM528 1830h28v14h-28zM584 1844h14v14h-14zM598 1872h14v14h-14zM598 1886h14v14h-14zM584 1900h14v14h-14zM486 1914h28v14h-28zM556 1914h28v14h-28zM612 2152h14v14h-14zM584 2166h70v14h-70zM570 2180h14v14h-14zM640 2180h28v14h-28zM556 2194h14v14h-14zM668 2194h14v14h-14zM542 2208h14v14h-14zM682 2208h28v14h-28zM528 2222h14v14h-14zM696 2222h14v14h-14zM514 2236h14v14h-14zM710 2236h14v14h-14zM514 2250h14v14h-14zM514 2264h14v14h-14zM514 2278h14v14h-14zM514 2292h28v14h-28zM528 2306h14v14h-14zM542 2320h14v14h-14zM668 2320h28v14h-28zM542 2334h28v14h-28zM626 2334h42v14h-42zM556 2348h84v14h-84zM570 2362h28v14h-28z"/>
<path fill="#d8e9f1" d="M556 430h42v14h-42zM542 444h98v14h-98zM542 458h28v14h-28zM626 458h28v14h-28zM542 472h14v14h-14zM640 472h14v14h-14zM542 486h28v14h-28zM626 486h28v14h-28zM556 500h28v14h-28zM598 500h28v14h-28zM570 514h14v14h-14zM220 766h126v14h-126zM360 780h14v14h-14zM374 794h14v14h-14zM388 808h14v14h-14zM402 822h14v14h-14zM1550 822h42v14h-42zM416 836h14v14h-14zM1494 836h14v14h-14zM1606 836h14v14h-14zM1620 850h14v14h-14zM1424 864h14v14h-14zM1648 864h70v14h-70zM458 878h14v14h-14zM1382 878h14v14h-14zM1690 878h28v14h-28zM1368 892h14v14h-14zM1704 892h14v14h-14zM1354 906h14v14h-14zM1704 906h14v14h-14zM472 920h14v14h-14zM1340 920h28v14h-28zM472 934h14v14h-14zM1116 934h126v14h-126zM1298 934h56v14h-56zM1718 934h14v14h-14zM1088 948h28v14h-28zM1256 948h84v14h-84zM1074 962h28v14h-28zM1732 962h14v14h-14zM374 976h14v14h-14zM1060 976h28v14h-28zM1046 990h28v14h-28zM1018 1004h28v14h-28zM990 1018h28v14h-28zM990 1032h14v14h-14zM990 1046h14v14h-14zM990 1060h14v14h-14zM990 1074h14v14h-14zM976 1088h14v14h-14zM976 1102h14v14h-14zM976 1116h14v14h-14zM962 1144h14v14h-14zM962 1158h14v14h-14zM1606 1172h56v14h-56zM1550 1186h28v14h-28zM1648 1186h14v14h-14zM976 1200h14v14h-14zM1438 1200h14v14h-14zM976 1214h14v14h-14zM962 1228h28v14h-28zM1270 1228h56v14h-56zM1396 1228h14v14h-14zM962 1242h28v14h-28zM1214 1242h14v14h-14zM948 1256h56v14h-56zM948 1270h56v14h-56zM1200 1270h14v14h-14zM934 1284h70v14h-70zM1200 1284h14v14h-14zM934 1298h56v14h-56zM1200 1298h14v14h-14zM920 1312h42v14h-42zM906 1326h28v14h-28zM1214 1326h14v14h-14zM892 1340h28v14h-28zM1242 1340h14v14h-14zM850 1354h14v14h-14zM1032 1354h56v14h-56zM1018 1368h84v14h-84zM1270 1368h14v14h-14zM808 1382h14v14h-14zM1004 1382h98v14h-98zM794 1396h14v14h-14zM598 1438h28v14h-28zM780 1438h14v14h-14zM1270 1438h14v14h-14zM640 1480h14v14h-14zM654 1494h14v14h-14zM1228 1494h14v14h-14zM682 1508h14v14h-14zM1214 1522h14v14h-14zM556 1620h28v14h-28zM584 1634h14v14h-14zM598 1648h28v14h-28zM1088 1648h70v14h-70zM1200 1648h14v14h-14zM612 1662h14v14h-14zM640 1662h70v14h-70zM1074 1662h28v14h-28zM1172 1662h28v14h-28zM598 1676h14v14h-14zM654 1676h28v14h-28zM766 1676h14v14h-14zM1060 1676h14v14h-14zM654 1690h14v14h-14zM906 1690h14v14h-14zM948 1690h42v14h-42zM1046 1690h14v14h-14zM584 1704h14v14h-14zM1018 1704h14v14h-14zM654 1746h14v14h-14zM584 1774h14v14h-14zM598 1788h28v14h-28zM486 1816h14v14h-14zM514 1830h14v14h-14zM556 1844h28v14h-28zM584 1858h14v14h-14zM584 1872h14v14h-14zM584 1886h14v14h-14zM528 1900h56v14h-56zM472 1914h14v14h-14zM584 2180h56v14h-56zM570 2194h98v14h-98zM556 2208h28v14h-28zM626 2208h56v14h-56zM542 2222h28v14h-28zM640 2222h56v14h-56zM528 2236h28v14h-28zM668 2236h42v14h-42zM528 2250h14v14h-14zM682 2250h28v14h-28zM528 2264h14v14h-14zM696 2264h14v14h-14zM528 2278h28v14h-28zM542 2292h28v14h-28zM542 2306h42v14h-42zM668 2306h28v14h-28zM556 2320h112v14h-112zM570 2334h56v14h-56z"/>
<path fill="#d4e6f1" d="M570 458h56v14h-56zM556 472h84v14h-84zM570 486h56v14h-56zM584 500h14v14h-14zM220 780h42v14h-42zM346 780h14v14h-14zM220 794h14v14h-14zM360 794h14v14h-14zM374 808h14v14h-14zM388 822h14v14h-14zM1508 836h42v14h-42zM1592 836h14v14h-14zM430 850h14v14h-14zM1466 850h14v14h-14zM444 864h14v14h-14zM1438 864h14v14h-14zM1634 864h14v14h-14zM1396 878h14v14h-14zM1662 878h28v14h-28zM458 892h14v14h-14zM1690 892h14v14h-14zM458 906h14v14h-14zM1368 906h14v14h-14zM1690 906h14v14h-14zM1368 920h14v14h-14zM1704 920h14v14h-14zM1354 934h28v14h-28zM458 948h14v14h-14zM1116 948h140v14h-140zM1340 948h42v14h-42zM1718 948h14v14h-14zM430 962h14v14h-14zM1102 962h42v14h-42zM1228 962h140v14h-140zM346 976h28v14h-28zM1088 976h42v14h-42zM1256 976h42v14h-42zM1074 990h42v14h-42zM1046 1004h56v14h-56zM1018 1018h56v14h-56zM1004 1032h42v14h-42zM1004 1046h14v14h-14zM1004 1060h14v14h-14zM1004 1074h14v14h-14zM990 1088h28v14h-28zM990 1102h28v14h-28zM990 1116h28v14h-28zM976 1130h28v14h-28zM976 1144h28v14h-28zM976 1158h14v14h-14zM1620 1158h42v14h-42zM976 1172h14v14h-14zM1564 1172h42v14h-42zM976 1186h14v14h-14zM1452 1186h98v14h-98zM990 1214h14v14h-14zM1410 1214h14v14h-14zM990 1228h14v14h-14zM1242 1228h28v14h-28zM1326 1228h28v14h-28zM990 1242h14v14h-14zM1004 1256h14v14h-14zM1200 1256h14v14h-14zM1004 1270h14v14h-14zM1004 1284h28v14h-28zM990 1298h42v14h-42zM962 1312h84v14h-84zM1200 1312h14v14h-14zM934 1326h126v14h-126zM920 1340h168v14h-168zM1228 1340h14v14h-14zM864 1354h42v14h-42zM962 1354h70v14h-70zM1088 1354h14v14h-14zM1256 1354h14v14h-14zM836 1368h14v14h-14zM962 1368h56v14h-56zM962 1382h42v14h-42zM1102 1382h14v14h-14zM1270 1382h14v14h-14zM976 1396h126v14h-126zM794 1410h14v14h-14zM990 1410h98v14h-98zM1270 1410h14v14h-14zM1270 1424h14v14h-14zM570 1438h28v14h-28zM612 1452h14v14h-14zM1256 1452h14v14h-14zM626 1466h14v14h-14zM1242 1466h14v14h-14zM1228 1480h14v14h-14zM1214 1508h14v14h-14zM1200 1522h14v14h-14zM1200 1536h14v14h-14zM1200 1550h14v14h-14zM1200 1564h14v14h-14zM1200 1578h14v14h-14zM1200 1592h14v14h-14zM542 1606h14v14h-14zM1200 1606h14v14h-14zM584 1620h14v14h-14zM1200 1620h14v14h-14zM598 1634h28v14h-28zM1074 1634h98v14h-98zM1186 1634h28v14h-28zM626 1648h70v14h-70zM1060 1648h28v14h-28zM1158 1648h42v14h-42zM626 1662h14v14h-14zM710 1662h14v14h-14zM1046 1662h28v14h-28zM612 1676h42v14h-42zM780 1676h14v14h-14zM1032 1676h28v14h-28zM598 1690h14v14h-14zM640 1690h14v14h-14zM822 1690h14v14h-14zM892 1690h14v14h-14zM990 1690h56v14h-56zM654 1704h14v14h-14zM584 1718h14v14h-14zM654 1718h14v14h-14zM654 1732h14v14h-14zM640 1760h14v14h-14zM626 1774h14v14h-14zM542 1844h14v14h-14zM570 1858h14v14h-14zM570 1886h14v14h-14zM500 1900h28v14h-28zM458 1914h14v14h-14zM584 2208h42v14h-42zM570 2222h70v14h-70zM556 2236h112v14h-112zM542 2250h140v14h-140zM542 2264h154v14h-154zM556 2278h126v14h-126zM570 2292h112v14h-112zM584 2306h84v14h-84z"/>
<path fill="#d25849" d="M1074 556h28v14h-28zM1060 570h42v14h-42zM1046 584h56v14h-56zM1060 598h42v14h-42z"/>
<path fill="#d1e5f0" d="M262 780h84v14h-84zM234 794h28v14h-28zM346 794h14v14h-14zM220 808h28v14h-28zM360 808h14v14h-14zM374 822h14v14h-14zM388 836h28v14h-28zM1550 836h42v14h-42zM416 850h14v14h-14zM1480 850h28v14h-28zM1606 850h14v14h-14zM430 864h14v14h-14zM1452 864h14v14h-14zM1620 864h14v14h-14zM444 878h14v14h-14zM1410 878h28v14h-28zM1648 878h14v14h-14zM1382 892h14v14h-14zM1676 892h14v14h-14zM304 906h14v14h-14zM1382 906h14v14h-14zM304 920h14v14h-14zM458 920h14v14h-14zM1382 920h14v14h-14zM1690 920h14v14h-14zM1382 934h14v14h-14zM1704 934h14v14h-14zM318 948h14v14h-14zM1382 948h14v14h-14zM1144 962h84v14h-84zM1368 962h14v14h-14zM1130 976h126v14h-126zM1298 976h70v14h-70zM1116 990h210v14h-210zM1102 1004h182v14h-182zM1074 1018h140v14h-140zM1046 1032h84v14h-84zM1018 1046h84v14h-84zM1018 1060h70v14h-70zM1018 1074h56v14h-56zM1018 1088h42v14h-42zM1018 1102h42v14h-42zM1018 1116h28v14h-28zM1004 1130h42v14h-42zM1004 1144h28v14h-28zM1634 1144h42v14h-42zM990 1158h28v14h-28zM1564 1158h56v14h-56zM990 1172h28v14h-28zM1452 1172h112v14h-112zM990 1186h14v14h-14zM1438 1186h14v14h-14zM990 1200h14v14h-14zM1424 1200h14v14h-14zM1228 1228h14v14h-14zM1354 1228h42v14h-42zM1004 1242h14v14h-14zM1200 1242h14v14h-14zM1018 1270h14v14h-14zM1032 1284h14v14h-14zM1032 1298h14v14h-14zM1046 1312h28v14h-28zM1060 1326h28v14h-28zM1200 1326h14v14h-14zM1088 1340h14v14h-14zM1214 1340h14v14h-14zM906 1354h56v14h-56zM1102 1354h14v14h-14zM1242 1354h14v14h-14zM934 1368h28v14h-28zM1102 1368h14v14h-14zM1256 1368h14v14h-14zM822 1382h14v14h-14zM948 1382h14v14h-14zM808 1396h14v14h-14zM962 1396h14v14h-14zM1102 1396h14v14h-14zM1270 1396h14v14h-14zM962 1410h28v14h-28zM1088 1410h14v14h-14zM976 1424h112v14h-112zM1018 1438h28v14h-28zM1256 1438h14v14h-14zM570 1452h42v14h-42zM780 1452h14v14h-14zM1242 1452h14v14h-14zM612 1466h14v14h-14zM626 1480h14v14h-14zM766 1480h14v14h-14zM1214 1494h14v14h-14zM1200 1508h14v14h-14zM1186 1536h14v14h-14zM1186 1550h14v14h-14zM1186 1564h14v14h-14zM1186 1578h14v14h-14zM1186 1592h14v14h-14zM556 1606h28v14h-28zM1172 1606h28v14h-28zM598 1620h28v14h-28zM1060 1620h140v14h-140zM626 1634h42v14h-42zM1046 1634h28v14h-28zM1172 1634h14v14h-14zM696 1648h14v14h-14zM1032 1648h28v14h-28zM724 1662h28v14h-28zM1018 1662h28v14h-28zM794 1676h14v14h-14zM920 1676h112v14h-112zM612 1690h28v14h-28zM836 1690h14v14h-14zM878 1690h14v14h-14zM598 1704h14v14h-14zM640 1704h14v14h-14zM584 1732h14v14h-14zM584 1746h14v14h-14zM640 1746h14v14h-14zM584 1760h14v14h-14zM598 1774h28v14h-28zM472 1816h14v14h-14zM500 1830h14v14h-14zM528 1844h14v14h-14zM556 1858h14v14h-14zM556 1872h28v14h-28zM528 1886h42v14h-42zM486 1900h14v14h-14z"/>
<path fill="#cae1ee" d="M262 794h42v14h-42zM332 794h14v14h-14zM248 808h28v14h-28zM346 808h14v14h-14zM234 822h14v14h-14zM360 822h14v14h-14zM360 836h28v14h-28zM402 850h14v14h-14zM1508 850h98v14h-98zM1466 864h14v14h-14zM1606 864h14v14h-14zM290 878h42v14h-42zM1438 878h14v14h-14zM1634 878h14v14h-14zM290 892h56v14h-56zM444 892h14v14h-14zM1396 892h28v14h-28zM1662 892h14v14h-14zM318 906h28v14h-28zM1396 906h14v14h-14zM1676 906h14v14h-14zM318 920h28v14h-28zM1396 920h14v14h-14zM318 934h28v14h-28zM458 934h14v14h-14zM1396 934h14v14h-14zM332 948h14v14h-14zM444 948h14v14h-14zM1396 948h14v14h-14zM1704 948h14v14h-14zM332 962h28v14h-28zM416 962h14v14h-14zM1382 962h28v14h-28zM1718 962h14v14h-14zM1368 976h28v14h-28zM1326 990h28v14h-28zM1284 1004h42v14h-42zM1214 1018h84v14h-84zM1130 1032h70v14h-70zM1102 1046h42v14h-42zM1088 1060h28v14h-28zM1074 1074h28v14h-28zM1060 1088h28v14h-28zM1060 1102h28v14h-28zM1046 1116h28v14h-28zM1452 1116h14v14h-14zM1046 1130h14v14h-14zM1452 1130h42v14h-42zM1032 1144h14v14h-14zM1452 1144h70v14h-70zM1564 1144h70v14h-70zM1018 1158h14v14h-14zM1452 1158h112v14h-112zM1018 1172h14v14h-14zM1438 1172h14v14h-14zM1004 1186h14v14h-14zM1424 1186h14v14h-14zM1004 1200h14v14h-14zM1410 1200h14v14h-14zM1004 1214h14v14h-14zM1396 1214h14v14h-14zM1004 1228h14v14h-14zM1214 1228h14v14h-14zM1018 1256h14v14h-14zM1186 1256h14v14h-14zM1032 1270h14v14h-14zM1186 1270h14v14h-14zM1186 1284h14v14h-14zM1046 1298h14v14h-14zM1186 1298h14v14h-14zM1074 1312h14v14h-14zM1186 1312h14v14h-14zM1088 1326h14v14h-14zM1102 1340h14v14h-14zM1228 1354h14v14h-14zM850 1368h14v14h-14zM906 1368h28v14h-28zM1116 1368h14v14h-14zM934 1382h14v14h-14zM1116 1382h14v14h-14zM1256 1382h14v14h-14zM948 1396h14v14h-14zM1116 1396h14v14h-14zM948 1410h14v14h-14zM1102 1410h14v14h-14zM794 1424h14v14h-14zM962 1424h14v14h-14zM1088 1424h28v14h-28zM1256 1424h14v14h-14zM976 1438h42v14h-42zM1046 1438h56v14h-56zM1004 1452h70v14h-70zM556 1466h56v14h-56zM1228 1466h14v14h-14zM556 1480h70v14h-70zM1200 1480h28v14h-28zM640 1494h14v14h-14zM1186 1494h28v14h-28zM668 1508h14v14h-14zM752 1508h14v14h-14zM1172 1508h28v14h-28zM1172 1522h28v14h-28zM1172 1536h14v14h-14zM1172 1550h14v14h-14zM1172 1564h14v14h-14zM1144 1578h42v14h-42zM542 1592h42v14h-42zM1102 1592h84v14h-84zM584 1606h28v14h-28zM1060 1606h112v14h-112zM626 1620h28v14h-28zM1032 1620h28v14h-28zM668 1634h28v14h-28zM1004 1634h42v14h-42zM710 1648h14v14h-14zM990 1648h42v14h-42zM752 1662h14v14h-14zM948 1662h70v14h-70zM808 1676h14v14h-14zM906 1676h14v14h-14zM850 1690h28v14h-28zM612 1704h28v14h-28zM598 1718h14v14h-14zM640 1718h14v14h-14zM640 1732h14v14h-14zM598 1760h14v14h-14zM626 1760h14v14h-14zM486 1830h14v14h-14zM514 1844h14v14h-14zM528 1858h28v14h-28zM542 1872h14v14h-14zM514 1886h14v14h-14zM472 1900h14v14h-14z"/>
<path fill="#c5dfec" d="M304 794h28v14h-28zM276 808h70v14h-70zM248 822h56v14h-56zM318 822h42v14h-42zM262 836h14v14h-14zM318 836h42v14h-42zM304 850h98v14h-98zM276 864h98v14h-98zM416 864h14v14h-14zM1480 864h42v14h-42zM1592 864h14v14h-14zM332 878h28v14h-28zM430 878h14v14h-14zM1452 878h28v14h-28zM346 892h14v14h-14zM1424 892h42v14h-42zM1648 892h14v14h-14zM346 906h14v14h-14zM444 906h14v14h-14zM1410 906h42v14h-42zM1662 906h14v14h-14zM346 920h14v14h-14zM1410 920h28v14h-28zM1676 920h14v14h-14zM346 934h14v14h-14zM1410 934h28v14h-28zM1690 934h14v14h-14zM346 948h14v14h-14zM1410 948h28v14h-28zM360 962h56v14h-56zM1410 962h14v14h-14zM1396 976h28v14h-28zM1718 976h14v14h-14zM1354 990h28v14h-28zM1326 1004h28v14h-28zM1298 1018h28v14h-28zM1200 1032h28v14h-28zM1144 1046h42v14h-42zM1116 1060h42v14h-42zM1102 1074h42v14h-42zM1438 1074h14v14h-14zM1088 1088h28v14h-28zM1424 1088h56v14h-56zM1088 1102h14v14h-14zM1424 1102h70v14h-70zM1074 1116h28v14h-28zM1424 1116h28v14h-28zM1466 1116h42v14h-42zM1060 1130h28v14h-28zM1424 1130h28v14h-28zM1494 1130h182v14h-182zM1046 1144h14v14h-14zM1424 1144h28v14h-28zM1522 1144h42v14h-42zM1032 1158h14v14h-14zM1438 1158h14v14h-14zM1424 1172h14v14h-14zM1018 1186h14v14h-14zM1256 1214h84v14h-84zM1200 1228h14v14h-14zM1018 1242h14v14h-14zM1186 1242h14v14h-14zM1046 1284h14v14h-14zM1060 1298h28v14h-28zM1088 1312h14v14h-14zM1102 1326h14v14h-14zM1186 1326h14v14h-14zM1116 1340h14v14h-14zM1200 1340h14v14h-14zM1116 1354h14v14h-14zM1214 1354h14v14h-14zM864 1368h42v14h-42zM1242 1368h14v14h-14zM836 1382h14v14h-14zM920 1382h14v14h-14zM822 1396h14v14h-14zM934 1396h14v14h-14zM1256 1396h14v14h-14zM808 1410h14v14h-14zM1116 1410h14v14h-14zM1256 1410h14v14h-14zM948 1424h14v14h-14zM1116 1424h14v14h-14zM962 1438h14v14h-14zM1102 1438h14v14h-14zM1242 1438h14v14h-14zM976 1452h28v14h-28zM1074 1452h28v14h-28zM1228 1452h14v14h-14zM1018 1466h70v14h-70zM1186 1466h42v14h-42zM1158 1480h42v14h-42zM556 1494h84v14h-84zM1144 1494h42v14h-42zM556 1508h56v14h-56zM654 1508h14v14h-14zM1144 1508h28v14h-28zM710 1522h28v14h-28zM1144 1522h28v14h-28zM1144 1536h28v14h-28zM1130 1550h42v14h-42zM1116 1564h56v14h-56zM542 1578h28v14h-28zM1102 1578h42v14h-42zM584 1592h28v14h-28zM1074 1592h28v14h-28zM612 1606h28v14h-28zM1032 1606h28v14h-28zM654 1620h14v14h-14zM976 1620h56v14h-56zM696 1634h14v14h-14zM948 1634h56v14h-56zM724 1648h28v14h-28zM934 1648h56v14h-56zM766 1662h28v14h-28zM920 1662h28v14h-28zM892 1676h14v14h-14zM612 1718h28v14h-28zM598 1732h14v14h-14zM626 1732h14v14h-14zM598 1746h14v14h-14zM626 1746h14v14h-14zM612 1760h14v14h-14zM500 1844h14v14h-14zM514 1858h14v14h-14zM514 1872h28v14h-28zM486 1886h28v14h-28z"/>
<path fill="#bddbea" d="M304 822h14v14h-14zM276 836h42v14h-42zM276 850h28v14h-28zM374 864h42v14h-42zM1522 864h70v14h-70zM360 878h28v14h-28zM416 878h14v14h-14zM1480 878h28v14h-28zM1606 878h28v14h-28zM360 892h14v14h-14zM430 892h14v14h-14zM1466 892h28v14h-28zM1634 892h14v14h-14zM360 906h14v14h-14zM1452 906h28v14h-28zM360 920h14v14h-14zM444 920h14v14h-14zM1438 920h42v14h-42zM360 934h14v14h-14zM444 934h14v14h-14zM1438 934h28v14h-28zM360 948h14v14h-14zM430 948h14v14h-14zM1438 948h28v14h-28zM1690 948h14v14h-14zM1424 962h28v14h-28zM1704 962h14v14h-14zM1424 976h14v14h-14zM1382 990h42v14h-42zM1718 990h14v14h-14zM1354 1004h14v14h-14zM1326 1018h14v14h-14zM1228 1032h98v14h-98zM1186 1046h14v14h-14zM1158 1060h28v14h-28zM1438 1060h28v14h-28zM1144 1074h28v14h-28zM1424 1074h14v14h-14zM1452 1074h28v14h-28zM1116 1088h56v14h-56zM1480 1088h14v14h-14zM1102 1102h70v14h-70zM1410 1102h14v14h-14zM1494 1102h14v14h-14zM1102 1116h56v14h-56zM1410 1116h14v14h-14zM1508 1116h168v14h-168zM1088 1130h70v14h-70zM1410 1130h14v14h-14zM1060 1144h98v14h-98zM1410 1144h14v14h-14zM1046 1158h28v14h-28zM1116 1158h42v14h-42zM1424 1158h14v14h-14zM1032 1172h14v14h-14zM1130 1172h42v14h-42zM1410 1172h14v14h-14zM1032 1186h14v14h-14zM1144 1186h42v14h-42zM1410 1186h14v14h-14zM1018 1200h14v14h-14zM1144 1200h42v14h-42zM1396 1200h14v14h-14zM1018 1214h14v14h-14zM1158 1214h98v14h-98zM1340 1214h56v14h-56zM1018 1228h14v14h-14zM1158 1228h42v14h-42zM1032 1242h14v14h-14zM1172 1242h14v14h-14zM1032 1256h14v14h-14zM1172 1256h14v14h-14zM1046 1270h14v14h-14zM1172 1270h14v14h-14zM1060 1284h28v14h-28zM1172 1284h14v14h-14zM1088 1298h14v14h-14zM1172 1298h14v14h-14zM1102 1312h14v14h-14zM1172 1312h14v14h-14zM1116 1326h14v14h-14zM1172 1326h14v14h-14zM1130 1340h14v14h-14zM1186 1340h14v14h-14zM1130 1354h14v14h-14zM1200 1354h14v14h-14zM1130 1368h14v14h-14zM1228 1368h14v14h-14zM850 1382h14v14h-14zM906 1382h14v14h-14zM1130 1382h14v14h-14zM1242 1382h14v14h-14zM1130 1396h14v14h-14zM934 1410h14v14h-14zM1130 1410h14v14h-14zM1242 1410h14v14h-14zM1130 1424h14v14h-14zM1242 1424h14v14h-14zM794 1438h14v14h-14zM948 1438h14v14h-14zM1116 1438h28v14h-28zM1228 1438h14v14h-14zM962 1452h14v14h-14zM1102 1452h126v14h-126zM780 1466h14v14h-14zM976 1466h42v14h-42zM1088 1466h98v14h-98zM1032 1480h126v14h-126zM766 1494h14v14h-14zM1116 1494h28v14h-28zM612 1508h42v14h-42zM1116 1508h28v14h-28zM542 1522h70v14h-70zM696 1522h14v14h-14zM738 1522h14v14h-14zM1116 1522h28v14h-28zM542 1536h42v14h-42zM1116 1536h28v14h-28zM1102 1550h28v14h-28zM542 1564h42v14h-42zM1088 1564h28v14h-28zM570 1578h42v14h-42zM1074 1578h28v14h-28zM612 1592h14v14h-14zM1032 1592h42v14h-42zM640 1606h14v14h-14zM948 1606h84v14h-84zM668 1620h14v14h-14zM934 1620h42v14h-42zM710 1634h14v14h-14zM920 1634h28v14h-28zM752 1648h14v14h-14zM920 1648h14v14h-14zM794 1662h14v14h-14zM906 1662h14v14h-14zM822 1676h28v14h-28zM878 1676h14v14h-14zM612 1732h14v14h-14zM612 1746h14v14h-14zM472 1830h14v14h-14zM500 1872h14v14h-14z"/>
<path fill="#b8d8e9" d="M388 878h28v14h-28zM1508 878h98v14h-98zM374 892h14v14h-14zM416 892h14v14h-14zM1494 892h28v14h-28zM374 906h14v14h-14zM430 906h14v14h-14zM1480 906h28v14h-28zM1648 906h14v14h-14zM374 920h14v14h-14zM430 920h14v14h-14zM1480 920h14v14h-14zM1662 920h14v14h-14zM374 934h14v14h-14zM1466 934h28v14h-28zM1676 934h14v14h-14zM374 948h14v14h-14zM1466 948h14v14h-14zM1452 962h14v14h-14zM1690 962h14v14h-14zM1438 976h28v14h-28zM1704 976h14v14h-14zM1424 990h28v14h-28zM1704 990h14v14h-14zM1368 1004h14v14h-14zM1340 1018h14v14h-14zM1326 1032h14v14h-14zM1200 1046h14v14h-14zM1284 1046h28v14h-28zM1438 1046h28v14h-28zM1186 1060h14v14h-14zM1424 1060h14v14h-14zM1466 1060h14v14h-14zM1172 1074h14v14h-14zM1480 1074h14v14h-14zM1172 1088h14v14h-14zM1410 1088h14v14h-14zM1494 1088h14v14h-14zM1172 1102h14v14h-14zM1508 1102h28v14h-28zM1578 1102h98v14h-98zM1158 1116h28v14h-28zM1396 1116h14v14h-14zM1158 1130h28v14h-28zM1396 1130h14v14h-14zM1158 1144h28v14h-28zM1074 1158h42v14h-42zM1158 1158h28v14h-28zM1410 1158h14v14h-14zM1046 1172h84v14h-84zM1172 1172h14v14h-14zM1312 1172h28v14h-28zM1046 1186h14v14h-14zM1088 1186h56v14h-56zM1186 1186h14v14h-14zM1284 1186h56v14h-56zM1396 1186h14v14h-14zM1032 1200h14v14h-14zM1102 1200h42v14h-42zM1186 1200h28v14h-28zM1242 1200h112v14h-112zM1382 1200h14v14h-14zM1032 1214h14v14h-14zM1116 1214h42v14h-42zM1032 1228h14v14h-14zM1116 1228h42v14h-42zM1046 1242h14v14h-14zM1130 1242h42v14h-42zM1046 1256h28v14h-28zM1130 1256h42v14h-42zM1060 1270h42v14h-42zM1116 1270h56v14h-56zM1088 1284h84v14h-84zM1102 1298h70v14h-70zM1116 1312h56v14h-56zM1130 1326h42v14h-42zM1144 1340h42v14h-42zM1144 1354h56v14h-56zM1144 1368h14v14h-14zM1214 1368h14v14h-14zM864 1382h14v14h-14zM892 1382h14v14h-14zM1144 1382h14v14h-14zM1228 1382h14v14h-14zM836 1396h14v14h-14zM920 1396h14v14h-14zM1144 1396h14v14h-14zM1242 1396h14v14h-14zM822 1410h14v14h-14zM1144 1410h14v14h-14zM808 1424h14v14h-14zM934 1424h14v14h-14zM1144 1424h28v14h-28zM1228 1424h14v14h-14zM934 1438h14v14h-14zM1144 1438h84v14h-84zM948 1452h14v14h-14zM948 1466h28v14h-28zM976 1480h56v14h-56zM1046 1494h70v14h-70zM1074 1508h42v14h-42zM612 1522h14v14h-14zM682 1522h14v14h-14zM1088 1522h28v14h-28zM584 1536h28v14h-28zM1088 1536h28v14h-28zM542 1550h70v14h-70zM1088 1550h14v14h-14zM584 1564h28v14h-28zM1074 1564h14v14h-14zM612 1578h14v14h-14zM1046 1578h28v14h-28zM626 1592h14v14h-14zM920 1592h112v14h-112zM654 1606h14v14h-14zM920 1606h28v14h-28zM682 1620h14v14h-14zM906 1620h28v14h-28zM724 1634h42v14h-42zM906 1634h14v14h-14zM766 1648h28v14h-28zM892 1648h28v14h-28zM808 1662h28v14h-28zM878 1662h28v14h-28zM850 1676h28v14h-28zM486 1844h14v14h-14zM500 1858h14v14h-14zM486 1872h14v14h-14zM472 1886h14v14h-14z"/>
<path fill="#b1d5e7" d="M388 892h28v14h-28zM1522 892h42v14h-42zM1606 892h28v14h-28zM388 906h14v14h-14zM416 906h14v14h-14zM1508 906h14v14h-14zM1634 906h14v14h-14zM1494 920h28v14h-28zM1648 920h14v14h-14zM430 934h14v14h-14zM1494 934h14v14h-14zM1662 934h14v14h-14zM388 948h42v14h-42zM1480 948h14v14h-14zM1662 948h28v14h-28zM1466 962h14v14h-14zM1676 962h14v14h-14zM1676 976h28v14h-28zM1690 990h14v14h-14zM1382 1004h70v14h-70zM1690 1004h28v14h-28zM1354 1018h14v14h-14zM1690 1018h14v14h-14zM1340 1032h14v14h-14zM1424 1032h42v14h-42zM1214 1046h70v14h-70zM1312 1046h28v14h-28zM1424 1046h14v14h-14zM1466 1046h14v14h-14zM1200 1060h14v14h-14zM1298 1060h14v14h-14zM1480 1060h14v14h-14zM1186 1074h14v14h-14zM1410 1074h14v14h-14zM1494 1074h14v14h-14zM1186 1088h14v14h-14zM1508 1088h14v14h-14zM1620 1088h56v14h-56zM1186 1102h14v14h-14zM1396 1102h14v14h-14zM1536 1102h42v14h-42zM1312 1116h42v14h-42zM1382 1116h14v14h-14zM1298 1130h98v14h-98zM1186 1144h14v14h-14zM1284 1144h126v14h-126zM1186 1158h14v14h-14zM1284 1158h126v14h-126zM1186 1172h28v14h-28zM1270 1172h42v14h-42zM1340 1172h70v14h-70zM1060 1186h28v14h-28zM1200 1186h84v14h-84zM1340 1186h56v14h-56zM1046 1200h56v14h-56zM1214 1200h28v14h-28zM1354 1200h28v14h-28zM1046 1214h70v14h-70zM1046 1228h70v14h-70zM1060 1242h70v14h-70zM1074 1256h56v14h-56zM1102 1270h14v14h-14zM1158 1368h56v14h-56zM878 1382h14v14h-14zM1158 1382h28v14h-28zM1200 1382h28v14h-28zM850 1396h14v14h-14zM906 1396h14v14h-14zM1158 1396h14v14h-14zM1214 1396h28v14h-28zM920 1410h14v14h-14zM1158 1410h42v14h-42zM1214 1410h28v14h-28zM920 1424h14v14h-14zM1172 1424h56v14h-56zM794 1452h14v14h-14zM934 1452h14v14h-14zM934 1466h14v14h-14zM780 1480h14v14h-14zM948 1480h28v14h-28zM962 1494h84v14h-84zM1032 1508h42v14h-42zM626 1522h14v14h-14zM752 1522h14v14h-14zM1060 1522h28v14h-28zM612 1536h14v14h-14zM1060 1536h28v14h-28zM612 1550h14v14h-14zM1060 1550h28v14h-28zM612 1564h14v14h-14zM1046 1564h28v14h-28zM920 1578h126v14h-126zM640 1592h14v14h-14zM892 1592h28v14h-28zM892 1606h28v14h-28zM696 1620h28v14h-28zM878 1620h28v14h-28zM766 1634h28v14h-28zM864 1634h42v14h-42zM794 1648h98v14h-98zM836 1662h42v14h-42zM472 1844h14v14h-14zM486 1858h14v14h-14z"/>
<path fill="#acd2e5" d="M1564 892h42v14h-42zM402 906h14v14h-14zM1522 906h28v14h-28zM1620 906h14v14h-14zM388 920h42v14h-42zM1522 920h14v14h-14zM1634 920h14v14h-14zM388 934h42v14h-42zM1508 934h14v14h-14zM1648 934h14v14h-14zM1494 948h14v14h-14zM1648 948h14v14h-14zM1480 962h14v14h-14zM1662 962h14v14h-14zM1466 976h14v14h-14zM1662 976h14v14h-14zM1452 990h14v14h-14zM1662 990h28v14h-28zM1452 1004h14v14h-14zM1662 1004h28v14h-28zM1368 1018h28v14h-28zM1410 1018h56v14h-56zM1662 1018h28v14h-28zM1354 1032h14v14h-14zM1466 1032h14v14h-14zM1662 1032h28v14h-28zM1340 1046h14v14h-14zM1410 1046h14v14h-14zM1480 1046h14v14h-14zM1662 1046h14v14h-14zM1214 1060h14v14h-14zM1256 1060h42v14h-42zM1312 1060h28v14h-28zM1410 1060h14v14h-14zM1494 1060h14v14h-14zM1648 1060h28v14h-28zM1200 1074h14v14h-14zM1284 1074h56v14h-56zM1508 1074h14v14h-14zM1620 1074h56v14h-56zM1200 1088h14v14h-14zM1284 1088h56v14h-56zM1396 1088h14v14h-14zM1522 1088h98v14h-98zM1200 1102h14v14h-14zM1284 1102h84v14h-84zM1382 1102h14v14h-14zM1186 1116h28v14h-28zM1270 1116h42v14h-42zM1354 1116h28v14h-28zM1186 1130h28v14h-28zM1270 1130h28v14h-28zM1200 1144h14v14h-14zM1242 1144h42v14h-42zM1200 1158h84v14h-84zM1214 1172h56v14h-56zM1186 1382h14v14h-14zM864 1396h14v14h-14zM892 1396h14v14h-14zM1172 1396h42v14h-42zM836 1410h14v14h-14zM906 1410h14v14h-14zM1200 1410h14v14h-14zM822 1424h14v14h-14zM808 1438h14v14h-14zM920 1438h14v14h-14zM920 1452h14v14h-14zM920 1466h14v14h-14zM934 1480h14v14h-14zM934 1494h28v14h-28zM766 1508h14v14h-14zM948 1508h84v14h-84zM640 1522h42v14h-42zM962 1522h98v14h-98zM626 1536h14v14h-14zM1004 1536h56v14h-56zM948 1550h112v14h-112zM920 1564h126v14h-126zM626 1578h14v14h-14zM892 1578h28v14h-28zM878 1592h14v14h-14zM668 1606h14v14h-14zM864 1606h28v14h-28zM724 1620h56v14h-56zM850 1620h28v14h-28zM794 1634h70v14h-70zM472 1858h14v14h-14zM472 1872h14v14h-14z"/>
<path fill="#a5cee3" d="M1550 906h70v14h-70zM1536 920h14v14h-14zM1620 920h14v14h-14zM1522 934h14v14h-14zM1634 934h14v14h-14zM1508 948h14v14h-14zM1634 948h14v14h-14zM1494 962h14v14h-14zM1634 962h28v14h-28zM1480 976h14v14h-14zM1648 976h14v14h-14zM1466 990h14v14h-14zM1648 990h14v14h-14zM1648 1004h14v14h-14zM1396 1018h14v14h-14zM1466 1018h14v14h-14zM1648 1018h14v14h-14zM1368 1032h56v14h-56zM1634 1032h28v14h-28zM1354 1046h14v14h-14zM1634 1046h28v14h-28zM1228 1060h28v14h-28zM1340 1060h14v14h-14zM1396 1060h14v14h-14zM1620 1060h28v14h-28zM1214 1074h70v14h-70zM1340 1074h14v14h-14zM1396 1074h14v14h-14zM1522 1074h14v14h-14zM1592 1074h28v14h-28zM1214 1088h70v14h-70zM1340 1088h56v14h-56zM1214 1102h70v14h-70zM1368 1102h14v14h-14zM1214 1116h56v14h-56zM1214 1130h56v14h-56zM1214 1144h28v14h-28zM878 1396h14v14h-14zM850 1410h14v14h-14zM892 1410h14v14h-14zM906 1424h14v14h-14zM906 1438h14v14h-14zM794 1466h14v14h-14zM920 1480h14v14h-14zM920 1494h14v14h-14zM920 1508h28v14h-28zM934 1522h28v14h-28zM724 1536h28v14h-28zM920 1536h84v14h-84zM626 1550h14v14h-14zM920 1550h28v14h-28zM626 1564h14v14h-14zM892 1564h28v14h-28zM640 1578h14v14h-14zM878 1578h14v14h-14zM654 1592h14v14h-14zM864 1592h14v14h-14zM682 1606h14v14h-14zM752 1606h28v14h-28zM850 1606h14v14h-14zM780 1620h70v14h-70z"/>
<path fill="#9dcbe1" d="M1550 920h28v14h-28zM1592 920h28v14h-28zM1536 934h14v14h-14zM1620 934h14v14h-14zM1522 948h14v14h-14zM1620 948h14v14h-14zM1508 962h14v14h-14zM1494 976h14v14h-14zM1634 976h14v14h-14zM1480 990h14v14h-14zM1634 990h14v14h-14zM1466 1004h14v14h-14zM1634 1004h14v14h-14zM1634 1018h14v14h-14zM1480 1032h14v14h-14zM1620 1032h14v14h-14zM1368 1046h42v14h-42zM1494 1046h14v14h-14zM1620 1046h14v14h-14zM1354 1060h42v14h-42zM1508 1060h14v14h-14zM1592 1060h28v14h-28zM1354 1074h42v14h-42zM1536 1074h56v14h-56zM864 1410h28v14h-28zM836 1424h28v14h-28zM892 1424h14v14h-14zM822 1438h14v14h-14zM892 1438h14v14h-14zM808 1452h14v14h-14zM906 1452h14v14h-14zM906 1466h14v14h-14zM906 1480h14v14h-14zM780 1494h14v14h-14zM906 1494h14v14h-14zM906 1508h14v14h-14zM766 1522h14v14h-14zM906 1522h28v14h-28zM640 1536h14v14h-14zM696 1536h28v14h-28zM752 1536h14v14h-14zM906 1536h14v14h-14zM640 1550h14v14h-14zM892 1550h28v14h-28zM640 1564h14v14h-14zM878 1564h14v14h-14zM864 1578h14v14h-14zM668 1592h14v14h-14zM850 1592h14v14h-14zM696 1606h56v14h-56zM780 1606h28v14h-28zM822 1606h28v14h-28z"/>
<path fill="#98c8e0" d="M1578 920h14v14h-14zM1550 934h28v14h-28zM1592 934h28v14h-28zM1536 948h14v14h-14zM1606 948h14v14h-14zM1620 962h14v14h-14zM1620 976h14v14h-14zM1494 990h14v14h-14zM1620 990h14v14h-14zM1480 1004h14v14h-14zM1620 1004h14v14h-14zM1480 1018h14v14h-14zM1620 1018h14v14h-14zM1494 1032h14v14h-14zM1606 1032h14v14h-14zM1508 1046h14v14h-14zM1592 1046h28v14h-28zM1522 1060h28v14h-28zM1578 1060h14v14h-14zM864 1424h28v14h-28zM836 1438h14v14h-14zM878 1438h14v14h-14zM892 1452h14v14h-14zM892 1466h14v14h-14zM794 1480h14v14h-14zM654 1536h42v14h-42zM892 1536h14v14h-14zM864 1564h14v14h-14zM654 1578h14v14h-14zM850 1578h14v14h-14zM738 1592h70v14h-70zM822 1592h28v14h-28zM808 1606h14v14h-14z"/>
<path fill="#90c4dd" d="M1578 934h14v14h-14zM1550 948h14v14h-14zM1592 948h14v14h-14zM1522 962h14v14h-14zM1606 962h14v14h-14zM1508 976h14v14h-14zM1606 976h14v14h-14zM1606 990h14v14h-14zM1494 1004h14v14h-14zM1606 1004h14v14h-14zM1494 1018h14v14h-14zM1606 1018h14v14h-14zM1508 1032h14v14h-14zM1592 1032h14v14h-14zM1522 1046h14v14h-14zM1578 1046h14v14h-14zM1550 1060h28v14h-28zM850 1438h28v14h-28zM822 1452h14v14h-14zM878 1452h14v14h-14zM808 1466h14v14h-14zM892 1480h14v14h-14zM892 1494h14v14h-14zM780 1508h14v14h-14zM892 1508h14v14h-14zM892 1522h14v14h-14zM766 1536h14v14h-14zM654 1550h14v14h-14zM724 1550h56v14h-56zM878 1550h14v14h-14zM654 1564h14v14h-14zM752 1564h28v14h-28zM668 1578h14v14h-14zM752 1578h56v14h-56zM836 1578h14v14h-14zM682 1592h14v14h-14zM724 1592h14v14h-14zM808 1592h14v14h-14z"/>
<path fill="#8ac0db" d="M1564 948h28v14h-28zM1536 962h70v14h-70zM1522 976h14v14h-14zM1592 976h14v14h-14zM1508 990h28v14h-28zM1592 990h14v14h-14zM1508 1004h14v14h-14zM1592 1004h14v14h-14zM1508 1018h14v14h-14zM1592 1018h14v14h-14zM1522 1032h14v14h-14zM1578 1032h14v14h-14zM1536 1046h42v14h-42zM836 1452h42v14h-42zM878 1466h14v14h-14zM878 1480h14v14h-14zM794 1494h14v14h-14zM878 1494h14v14h-14zM780 1522h14v14h-14zM878 1522h14v14h-14zM780 1536h14v14h-14zM878 1536h14v14h-14zM668 1550h14v14h-14zM710 1550h14v14h-14zM780 1550h14v14h-14zM864 1550h14v14h-14zM668 1564h14v14h-14zM738 1564h14v14h-14zM780 1564h28v14h-28zM836 1564h28v14h-28zM738 1578h14v14h-14zM808 1578h28v14h-28zM696 1592h28v14h-28z"/>
<path fill="#81bad8" d="M1536 976h56v14h-56zM1536 990h14v14h-14zM1578 990h14v14h-14zM1522 1004h28v14h-28zM1578 1004h14v14h-14zM1522 1018h28v14h-28zM1564 1018h28v14h-28zM1536 1032h42v14h-42zM822 1466h14v14h-14zM850 1466h28v14h-28zM808 1480h14v14h-14zM794 1508h14v14h-14zM878 1508h14v14h-14zM794 1536h14v14h-14zM864 1536h14v14h-14zM682 1550h28v14h-28zM794 1550h28v14h-28zM850 1550h14v14h-14zM682 1564h14v14h-14zM724 1564h14v14h-14zM808 1564h28v14h-28zM682 1578h14v14h-14zM710 1578h28v14h-28z"/>
<path fill="#7bb6d6" d="M1550 990h28v14h-28zM1550 1004h28v14h-28zM1550 1018h14v14h-14zM836 1466h14v14h-14zM822 1480h14v14h-14zM850 1480h28v14h-28zM808 1494h14v14h-14zM864 1494h14v14h-14zM864 1508h14v14h-14zM794 1522h14v14h-14zM864 1522h14v14h-14zM808 1536h14v14h-14zM850 1536h14v14h-14zM822 1550h28v14h-28zM696 1564h28v14h-28zM696 1578h14v14h-14z"/>
<path fill="#71b0d3" d="M836 1480h14v14h-14zM822 1494h42v14h-42zM808 1508h14v14h-14zM850 1508h14v14h-14zM808 1522h14v14h-14zM850 1522h14v14h-14zM822 1536h28v14h-28z"/>
<path fill="#6bacd1" d="M822 1508h28v14h-28zM822 1522h28v14h-28z"/>
</g>
</g>
<path d="M615.9,1098.9 L626.7,1101.3 L641.4,1116.1 L648.8,1123.4 L653.7,1135.7 L646.3,1138.2 L634.0,1125.9 L614.4,1113.6Z" fill="#94b4e2" stroke="#000" stroke-width="4" stroke-linejoin="round"/>
<g fill="none" stroke="#000" stroke-width="4" stroke-linejoin="round" stroke-linecap="round">
<path d="M366.4,297.1 L371.3,321.7 L364.0,329.1 L349.2,341.3"/>
<path d="M548.1,199.9 L513.7,233.3 L508.8,257.9 L501.5,278.5 L519.6,279.9 L533.4,336.4 L545.6,351.1 L589.8,348.7 L607.0,351.1 L631.6,380.6 L688.1,375.7 L701.3,380.6 L688.1,419.9 L684.6,434.6 L691.5,459.2 L702.8,473.9 L685.6,491.1 L702.8,505.8 L712.6,545.1"/>
<path d="M312.4,540.2 L351.7,557.4 L361.5,572.1 L391.0,577.0 L400.8,572.1 L435.2,589.3 L464.6,606.5 L489.2,628.6 L508.8,663.0 L533.4,667.9 L553.0,658.1 L587.4,663.0 L609.5,675.2 L589.8,709.6 L602.1,709.6 L616.9,726.8 L631.6,626.1 L626.7,604.0 L611.9,591.8 L611.9,567.2 L636.5,562.3 L636.5,547.6 L619.3,547.6 L619.3,527.9 L685.6,527.9 L695.4,518.1 L705.2,532.8 L712.6,545.1"/>
<path d="M435.2,589.3 L437.6,613.9 L425.3,636.0 L391.0,670.3 L351.7,685.1 L334.5,704.7 L324.7,734.2 L305.0,751.4 L287.9,734.2 L263.3,729.3 L260.8,721.9 L270.7,714.5 L268.2,699.8"/>
<path d="M712.6,545.1 L734.7,559.8 L761.7,557.4 L769.1,545.1 L805.9,532.8 L808.4,520.6 L835.4,510.7 L832.9,505.8 L805.9,503.4 L801.0,486.2 L798.5,454.3 L786.3,446.9 L842.7,459.2 L847.6,454.3 L911.5,434.6 L926.2,422.4 L923.8,410.1 L945.9,412.5"/>
<path d="M950.8,307.0 L928.7,324.1 L926.2,341.3 L938.5,348.7 L909.0,363.4 L906.6,373.2 L901.7,385.5 L926.2,410.1 L945.9,412.5 L948.3,434.6 L960.6,451.8 L950.8,473.9 L950.8,493.6 L960.6,527.9 L982.7,540.2 L987.6,577.0 L985.1,596.7 L999.9,609.4"/>
<path d="M835.4,510.7 L855.0,520.6 L859.9,552.5 L864.8,584.4 L862.4,608.9 L882.0,628.6 L891.8,631.0 L894.3,606.5 L909.0,601.6 L923.8,611.4 L933.6,606.5 L940.9,584.4 L950.8,577.0 L985.1,577.0"/>
<path d="M616.9,726.8 L587.4,726.8 L584.9,731.7 L553.0,736.6 L516.2,761.2 L513.7,778.4 L503.9,788.2 L508.8,805.4 L486.7,812.7 L486.7,822.6 L479.4,834.8 L508.8,891.3 L538.3,919.8"/>
<path d="M486.7,822.6 L599.7,856.9 L715.1,919.8"/>
<path d="M1042.2,384.4 L1037.3,415.7 L1017.4,425.7 L1012.4,450.5 L1027.3,472.9 L1037.3,473.9 L1044.7,492.7 L1062.1,522.6"/>
<path d="M1149.0,392.4 L1131.7,420.7 L1136.6,445.5 L1148.1,465.4 L1141.6,482.8 L1131.7,507.6"/>
<path d="M1226.1,445.5 L1203.7,477.8 L1196.2,497.7 L1186.3,510.1 L1166.4,515.1 L1161.5,505.2 L1154.0,507.6 L1144.1,512.6 L1131.7,507.6 L1121.7,502.7 L1111.8,500.2 L1079.5,505.2 L1079.5,522.6 L1062.1,522.6 L1034.8,520.1 L1014.9,532.5 L1000.0,535.0"/>
<path d="M1121.7,507.6 L1121.7,525.0 L1144.1,532.5 L1161.5,542.4 L1173.9,557.3 L1186.3,582.2 L1196.2,607.0 L1203.7,621.9 L1218.6,624.4"/>
<path d="M1000.0,609.5 L1022.4,629.4 L1062.1,654.2 L1067.1,659.2 L1000.0,805.7"/>
<path d="M1000.0,813.2 L1012.4,830.6 L1024.8,862.9 L1029.8,880.3 L1059.6,900.1 L1273.3,915.0"/>
<path d="M1412.4,624.4 L1407.4,646.8 L1397.5,676.6 L1382.6,701.4 L1367.6,736.2 L1352.7,743.6 L1325.4,761.0 L1340.3,768.5 L1337.8,785.9 L1310.5,818.2 L1303.1,850.5 L1308.0,865.4 L1290.6,890.2 L1273.3,915.0"/>
<path d="M1325.4,761.0 L1362.7,768.5 L1367.6,785.9 L1365.2,825.6 L1377.6,845.5 L1397.5,852.9 L1397.5,867.8 L1385.0,880.3 L1382.6,890.2 L1392.5,900.1"/>
<path d="M1437.2,840.5 L1427.3,860.4 L1419.8,885.2 L1419.8,920.0"/>
<path d="M626.7,951.6 L656.1,1005.6 L648.8,1015.4 L647.3,1069.4 L634.0,1086.6 L638.9,1098.9 L634.0,1106.2"/>
<path d="M648.8,1138.2 L626.7,1175.0 L616.9,1189.7 L599.7,1198.6"/>
<path d="M626.7,1175.0 L641.4,1197.1 L646.3,1219.2 L663.5,1233.9 L653.7,1265.8 L670.9,1302.7 L684.6,1349.3 L709.2,1345.9"/>
<path d="M709.2,1345.9 L712.6,1354.2 L700.3,1388.6 L663.5,1405.8 L666.0,1462.2 L658.6,1472.1 L668.4,1484.3 L646.3,1506.4 L629.1,1528.5 L611.9,1567.8 L614.4,1599.7 L594.8,1634.1 L607.0,1679.8"/>
<path d="M709.2,1345.9 L737.2,1316.4 L781.4,1324.8 L801.0,1346.9 L813.3,1321.3 L858.0,1328.2"/>
<path d="M503.9,902.5 L523.6,904.9 L538.3,922.1 L567.7,922.1 L594.8,904.9 L593.3,951.6 L609.5,956.5 L626.7,951.6 L656.1,955.0 L670.9,954.0 L675.8,944.2 L722.4,917.2 L766.6,912.3 L764.2,931.9 L769.1,944.2 L766.6,971.2 L801.0,1000.7 L840.3,1008.0 L877.1,1027.7 L889.4,1037.5 L923.8,1037.5 L931.1,1044.9 L936.0,1067.0 L938.5,1089.1 L928.7,1091.5"/>
<path d="M894.3,900.0 L896.7,949.1 L933.6,951.6 L948.3,958.9 L948.3,978.6 L953.2,998.2 L943.4,1015.4 L938.5,1027.7 L923.8,1042.4"/>
<path d="M1273.3,912.4 L1260.8,934.8 L1258.3,979.5 L1260.8,1004.3 L1275.7,1001.8 L1270.8,1016.8 L1298.1,1026.7 L1313.0,1011.8 L1322.9,1031.7 L1332.9,1021.7 L1357.7,1031.7 L1377.6,1019.2 L1409.9,1014.3"/>
<path d="M1419.8,900.0 L1417.3,929.8 L1402.4,939.7 L1399.9,967.1 L1409.9,979.5 L1404.9,999.4 L1409.9,1014.3 L1412.4,1024.2 L1409.9,1049.0 L1417.3,1073.9 L1414.8,1088.8"/>
<path d="M1392.5,900.0 L1402.4,919.9 L1419.8,927.3 L1432.2,929.8 L1447.1,949.7 L1467.0,942.2 L1489.4,924.8 L1489.4,900.0"/>
<path d="M1414.8,1088.8 L1432.2,1081.3 L1474.5,1061.5 L1489.4,1066.4 L1491.9,1076.4 L1506.8,1073.9 L1536.6,1088.8 L1571.3,1101.2 L1578.8,1113.6 L1618.5,1121.1 L1616.1,1138.5 L1603.6,1153.4 L1598.7,1168.3 L1608.6,1185.7 L1628.5,1198.1"/>
<path d="M1270.8,1016.8 L1258.3,1034.1 L1250.9,1059.0 L1243.4,1073.9 L1228.5,1088.8 L1218.6,1103.7 L1198.7,1128.5 L1191.3,1138.5 L1176.4,1163.3 L1178.9,1193.1 L1186.3,1208.0 L1226.1,1225.4 L1248.4,1235.4 L1248.4,1257.7"/>
<path d="M1248.4,1235.4 L1268.3,1215.5 L1308.0,1200.6 L1352.7,1198.1 L1372.6,1188.2 L1370.1,1168.3 L1375.1,1153.4 L1367.6,1138.5 L1375.1,1118.6 L1385.0,1108.7 L1387.5,1088.8 L1402.4,1078.9 L1414.8,1088.8"/>
<path d="M1146.6,1170.8 L1154.0,1163.3 L1149.0,1185.7 L1176.4,1188.2"/>
<path d="M1248.4,1250.3 L1238.5,1265.2 L1226.1,1282.6 L1213.6,1302.4 L1201.2,1322.3 L1178.9,1339.7 L1159.0,1352.1 L1144.1,1379.4 L1139.1,1389.4"/>
<path d="M1248.4,1250.3 L1268.3,1247.8 L1308.0,1255.2 L1313.0,1267.6 L1322.9,1257.7 L1367.6,1255.2 L1372.6,1272.6 L1382.6,1297.5 L1397.5,1304.9 L1395.0,1324.8 L1397.5,1342.2 L1407.4,1349.6 L1424.8,1349.6 L1432.2,1342.2 L1462.0,1332.2 L1476.9,1329.8 L1516.7,1324.8 L1539.1,1309.9 L1541.5,1292.5 L1554.0,1272.6 L1558.9,1262.7 L1581.3,1257.7 L1581.3,1237.8 L1578.8,1220.5 L1583.8,1210.5 L1581.3,1198.1 L1588.7,1188.2 L1608.6,1185.7"/>
<path d="M1556.4,1277.6 L1558.9,1290.0 L1581.3,1297.5"/>
<path d="M1462.0,1337.2 L1469.5,1344.7 L1454.6,1349.6 L1457.1,1362.0"/>
<path d="M1178.9,1339.7 L1203.7,1339.7 L1233.5,1342.2 L1283.2,1352.1 L1293.1,1372.0 L1300.6,1396.8 L1310.5,1409.2 L1327.9,1411.7 L1342.8,1426.6 L1347.8,1429.1"/>
<path d="M1124.2,1446.5 L1144.1,1439.1 L1159.0,1461.4 L1159.0,1483.8 L1149.0,1493.7 L1114.3,1516.1 L1074.5,1550.8 L1029.8,1595.6"/>
<path d="M1159.0,1463.9 L1188.8,1466.4 L1218.6,1473.8 L1236.0,1476.3 L1238.5,1466.4 L1263.3,1456.4 L1298.1,1454.0 L1330.4,1454.0"/>
<path d="M1149.0,1493.7 L1164.0,1491.2 L1188.8,1496.2 L1213.6,1501.2 L1233.5,1511.1 L1260.8,1538.4 L1278.2,1538.4 L1288.2,1543.4 L1283.2,1550.8 L1278.2,1565.7 L1293.1,1565.7"/>
<path d="M1029.8,1595.6 L1047.2,1595.6 L1059.6,1605.5 L1079.5,1617.9 L1094.4,1615.4 L1134.1,1645.2 L1173.9,1680.0"/>
<path d="M1027.3,1595.6 L1017.4,1625.4 L1009.9,1655.2 L1007.5,1680.0"/>
<path d="M656.3,2346.3 L657.8,2421.9 L714.3,2424.9"/>
<path d="M675.0,2337.5 L547.3,2326.7 L535.0,2308.0 L533.6,2283.4 L512.9,2283.4 L500.7,2271.2 L498.2,2236.8 L522.8,2222.1 L535.0,2200.0 L530.1,2182.8 L547.3,2155.8 L559.6,2111.6 L557.1,2091.9 L571.9,2084.6 L567.0,2072.3 L553.2,2067.4 L564.5,2052.7 L549.8,2040.4 L539.9,1998.6 L554.7,1993.7 L547.3,1952.0 L564.5,1888.2 L585.6,1875.9 L574.3,1839.1 L574.3,1812.0 L601.3,1789.9 L600.3,1762.9 L618.5,1733.5 L618.5,1699.1 L611.1,1696.6 L598.9,1650.0"/>
<path d="M1136.6,1650.0 L1174.9,1681.9 L1160.1,1696.6 L1168.5,1713.8"/>
<path d="M1008.9,1650.0 L1008.9,1691.7 L1000.1,1699.1 L999.1,1728.6"/>
<path d="M858.1,1328.2 L872.0,1289.0 L871.3,1271.6 L887.0,1241.6 L944.7,1232.4 L975.9,1232.8 L1008.3,1249.7 L1008.3,1260.5"/>
<path d="M858.1,1328.2 L918.2,1384.9 L944.7,1389.5 L986.3,1414.9 L1021.0,1426.5 L1026.8,1440.3 L993.3,1493.5 L1029.1,1502.7 L1064.9,1507.3 L1091.5,1501.6 L1121.5,1476.1 L1126.1,1447.3 L1134.2,1421.8 L1137.7,1408.0 L1137.7,1390.6 L1125.0,1383.7 L1112.3,1389.5 L1100.7,1387.2 L1093.8,1344.4 L1086.9,1334.0 L1064.9,1324.8 L1051.0,1331.3 L1016.4,1324.8"/>
<path d="M722.5,916.3 L731.7,907.1 L738.6,899.2 L752.5,902.5 L775.6,897.9 L784.9,888.6 L803.4,881.7 L817.2,872.4 L828.8,853.0 L851.9,853.0 L858.8,863.2 L872.7,879.4 L884.2,877.1 L895.8,879.4 L995.1,877.1 L1002.1,856.3 L1006.7,830.8 L997.5,810.0"/>
<path d="M895.8,879.4 L894.4,900.2"/>
<path d="M1574.1,684.1 L1565.5,700.0 L1575.9,723.1 L1579.4,730.0 L1575.9,740.4 L1584.0,762.4 L1591.0,792.4 L1595.6,810.9 L1601.4,814.4 L1596.7,829.4 L1595.6,836.3 L1597.9,852.5 L1588.6,866.4 L1572.5,875.6"/>
<path d="M1555.8,679.0 L1526.3,700.0 L1517.0,727.7 L1514.7,739.3 L1512.4,769.3 L1513.5,780.9 L1519.3,792.4 L1518.2,806.3 L1512.4,810.9 L1493.9,808.6 L1482.4,813.2 L1468.5,822.5 L1450.0,834.0 L1437.1,840.5"/>
<path d="M1708.8,746.2 L1692.6,757.8 L1681.1,778.6 L1670.7,789.0 L1663.7,797.1 L1660.3,815.5 L1659.1,824.8 L1662.6,838.6 L1653.4,845.6"/>
<path d="M1664.9,799.4 L1678.8,804.0 L1692.6,797.1 L1708.8,787.8 L1699.6,806.3 L1711.1,813.2 L1725.0,817.9 L1729.6,802.8 L1738.9,797.1 L1750.4,801.7 L1764.3,801.7 L1780.4,802.8"/>
<path d="M1595.6,832.9 L1623.3,831.7 L1634.9,836.3 L1648.7,847.9 L1664.9,842.1 L1671.8,846.7 L1690.3,838.6 L1708.8,829.4 L1713.4,835.2 L1708.8,852.5 L1720.4,861.8 L1731.9,854.8 L1743.5,847.9 L1762.0,843.3 L1775.8,841.0 L1783.9,836.3"/>
<path d="M1572.5,875.6 L1588.6,880.2 L1593.3,901.0 L1607.1,894.1 L1621.0,882.6 L1637.2,872.2 L1658.0,880.2 L1669.5,884.9 L1677.6,898.7 L1694.9,884.9 L1704.2,889.5 L1722.7,897.6 L1748.1,888.3 L1768.9,882.6 L1778.1,884.9"/>
<path d="M1678.8,901.0 L1692.6,908.0 L1711.1,917.2 L1727.3,928.8 L1734.2,933.4"/>
<path d="M1683.4,905.7 L1690.3,919.5 L1688.0,931.1 L1678.8,944.9 L1681.1,956.5 L1692.6,969.2 L1700.7,971.5 L1715.7,951.9"/>
<path d="M1572.5,875.6 L1556.3,884.9 L1535.5,901.0 L1519.3,903.4 L1500.8,897.6 L1488.1,901.0"/>
<path d="M928.2,1090.1 L941.2,1129.8 L1006.9,1130.5 L1000.4,1150.8 L1003.3,1163.0 L1022.8,1172.4 L1027.1,1181.1 L1030.7,1193.4 L1024.2,1220.1 L1014.8,1234.5 L1019.2,1254.0 L1009.8,1259.8 L1017.7,1278.6 L1017.7,1324.8"/>
<path d="M1027.1,1181.1 L1044.4,1175.3 L1056.0,1164.5 L1067.5,1163.8 L1077.6,1160.2 L1093.5,1166.7 L1109.4,1176.0 L1122.4,1172.4 L1134.0,1175.3 L1150.0,1169.5"/>
<path d="M981.7,540.3 L999.0,535.7"/>
<path d="M1120.4,506.8 L1130.8,504.5"/>
<path d="M177.4,252.0 L204.4,275.0 L204.4,282.4 L219.1,283.4 L226.5,289.8 L243.7,287.3 L268.2,275.0 L292.8,263.7 L309.9,266.7 L312.4,270.1 L332.0,271.6 L356.6,287.3 L371.3,298.1 L383.6,296.2 L405.7,275.0 L421.4,270.1 L427.8,230.8 L447.4,213.7 L469.5,212.7 L472.0,206.3 L496.5,208.7 L543.2,181.7 L555.5,169.5 L565.3,170.4 L575.1,179.3 L568.7,193.0 L548.1,199.9 L560.4,206.3 L560.4,235.8 L544.2,255.4 L555.5,279.9 L570.2,277.5 L577.6,255.4 L566.8,240.7 L565.3,216.1 L602.1,202.9 L607.0,189.1 L614.4,178.3 L626.7,201.4 L648.8,201.4 L670.9,218.6 L673.3,230.8 L697.9,230.8 L734.7,228.4 L759.3,243.1 L781.4,247.0 L803.4,235.8 L803.4,227.4 L884.5,225.9 L857.5,235.8 L867.3,250.5 L891.8,252.9 L918.8,270.1 L923.8,297.1 L940.9,297.1 L975.3,316.8 L999.9,336.4 L1020.0,356.1 L1014.9,363.6 L1042.2,384.4 L1082.0,390.9 L1094.4,383.4 L1119.2,383.4 L1149.0,392.4 L1183.8,403.3 L1208.7,423.2 L1221.1,433.1 L1226.1,445.5 L1237.5,445.5 L1248.4,472.9 L1265.8,520.1 L1283.2,525.0 L1284.2,549.9 L1260.8,577.2 L1268.3,587.1 L1327.9,592.1 L1330.4,619.4 L1355.2,604.5 L1397.5,616.9 L1452.1,636.8 L1467.0,654.2 L1501.8,664.1 L1556.4,679.1 L1616.1,679.1 L1660.8,703.9 L1708.0,746.1 L1735.3,756.1 L1777.5,758.5 L1782.5,780.9 L1789.9,805.7 L1792.4,828.1 L1789.9,855.4 L1782.5,885.2 L1775.0,920.0 L1735.3,942.2 L1715.4,959.6 L1695.6,991.9 L1670.7,1021.7 L1650.8,1046.6 L1653.3,1108.7 L1643.4,1183.2 L1628.5,1198.1 L1623.5,1242.8 L1596.2,1267.6 L1591.2,1287.5 L1583.8,1319.8 L1558.9,1332.2 L1549.0,1353.1 L1519.2,1353.1 L1476.9,1357.1 L1462.0,1359.6 L1437.2,1379.4 L1402.4,1391.9 L1362.7,1416.7 L1330.4,1451.5 L1326.9,1476.3 L1330.4,1496.2 L1326.9,1526.0 L1318.0,1545.9 L1293.1,1565.7 L1258.3,1625.4 L1228.5,1655.2 L1203.7,1670.1 L1196.2,1680.0 L1168.5,1713.8 L1153.8,1735.9 L1116.9,1755.6 L1089.9,1748.2 L1058.0,1745.8 L1043.3,1738.4 L1021.2,1738.4 L1001.5,1728.6 L1039.3,1765.4 L1035.9,1789.9 L1057.0,1804.7 L1055.5,1821.9 L1023.6,1863.6 L972.1,1880.8 L905.8,1888.2 L868.9,1884.7 L876.3,1905.3 L868.9,1929.9 L875.3,1947.1 L854.2,1956.9 L819.8,1961.8 L790.4,1950.5 L775.6,1959.4 L780.6,1991.3 L802.7,2002.6 L821.3,1993.7 L832.1,2010.9 L800.2,2018.3 L773.2,2040.4 L770.7,2062.5 L760.9,2091.9 L729.0,2091.9 L702.0,2109.1 L694.6,2136.1 L726.5,2158.2 L758.5,2165.6 L746.2,2195.1 L706.9,2214.7 L684.8,2254.0 L655.3,2268.7 L640.6,2283.4 L652.9,2315.4 L675.0,2337.5 L630.8,2337.5 L584.1,2357.1 L576.8,2386.6 L525.2,2374.3 L446.6,2335.0 L434.4,2312.9 L444.2,2293.3 L427.0,2271.2 L423.6,2214.7 L439.3,2182.8 L473.7,2155.8 L422.1,2146.0 L454.0,2116.5 L466.3,2062.5 L503.1,2072.3 L520.3,2002.6 L498.2,1996.2 L488.4,2035.5 L466.3,2030.6 L478.6,1974.1 L488.4,1922.5 L503.1,1900.4 L493.3,1861.1 L490.8,1829.2 L505.6,1826.8 L530.1,1767.9 L549.8,1718.7 L562.5,1680.0 L556.9,1619.4 L566.8,1597.3 L561.9,1553.1 L572.7,1528.5 L581.5,1508.9 L587.4,1464.7 L594.8,1415.6 L602.1,1351.8 L608.5,1302.7 L607.0,1273.2 L604.6,1233.9 L599.7,1198.6 L566.8,1182.4 L562.8,1167.6 L494.1,1130.8 L437.6,1096.4 L410.6,1074.3 L396.9,1047.3 L403.2,1039.9 L386.1,1012.9 L371.3,985.9 L361.5,963.8 L341.9,934.4 L332.0,920.1 L312.4,866.7 L285.4,825.0 L233.8,790.6 L246.1,773.4 L228.9,744.0 L248.6,714.5 L268.2,699.8 L282.9,675.2 L275.6,660.5 L263.3,675.2 L243.7,660.5 L251.0,653.1 L246.1,618.8 L258.4,613.9 L273.1,572.1 L275.6,557.4 L314.9,540.2 L312.4,530.4 L322.2,527.9 L322.2,513.2 L327.1,496.0 L346.8,488.6 L373.8,456.7 L361.5,449.4 L366.4,429.7 L359.1,392.9 L366.4,388.0 L361.5,358.5 L349.2,341.3 L339.4,334.0 L332.0,311.9 L339.4,307.0 L329.6,294.7 L309.9,284.9 L292.8,284.9 L282.9,297.1 L263.3,309.4 L263.3,319.2 L278.0,334.0 L263.3,341.3 L248.6,343.8 L238.7,324.1 L224.0,326.6 L204.4,307.0 L177.4,309.4"/>
<path d="M889.4,245.6 L891.8,225.9 L916.4,221.0 L916.4,248.0Z"/>
<path d="M456.5,2352.2 L522.8,2391.5 L574.3,2396.4 L596.4,2376.7 L603.8,2357.1 L633.2,2343.4 L655.3,2346.3 L684.8,2386.6 L731.5,2408.7 L778.1,2416.0 L763.4,2433.2 L731.5,2435.7 L714.3,2424.9 L699.5,2438.1 L672.5,2446.5 L616.1,2435.7 L579.2,2425.9 L522.8,2401.3Z"/>
<path d="M905.8,2320.3 L947.5,2300.6 L974.5,2310.5 L996.6,2295.7 L1023.6,2311.9 L1013.8,2323.7 L967.2,2333.5 L952.4,2320.3 L923.0,2337.5Z"/>
</g>
<g font-size="42" text-anchor="middle" fill="#fff" stroke="#000" stroke-width="8" paint-order="stroke" stroke-linejoin="round">
<text x="715.1" y="244.8">-1</text>
<text x="467.1" y="443.7">0</text>
<text x="323.2" y="605.8">1</text>
<text x="918.8" y="502.6">0</text>
<text x="940.9" y="699.1">1</text>
<text x="818.2" y="890.6">-1</text>
<text x="685.6" y="924.9">-1</text>
<text x="1003.0" y="369.0">1</text>
<text x="1106.8" y="399.9">0</text>
<text x="1195.3" y="429.7">0</text>
<text x="1241.0" y="593.7">2</text>
<text x="1326.4" y="643.4">1</text>
<text x="1467.0" y="680.6">1</text>
<text x="1659.3" y="725.3">0</text>
<text x="1516.7" y="767.6">0</text>
<text x="1771.1" y="789.9">0</text>
<text x="1789.9" y="834.6">-1</text>
<text x="1782.5" y="866.9">0</text>
<text x="1760.1" y="919.1">-1</text>
<text x="371.3" y="997.5">0</text>
<text x="666.9" y="1147.2">0</text>
<text x="1337.8" y="938.8">-1</text>
<text x="1715.4" y="961.2">-1</text>
<text x="1668.2" y="1030.8">-1</text>
<text x="1079.5" y="1117.7">-1</text>
<text x="1352.7" y="1125.1">-1</text>
<text x="1308.0" y="1155.0">-1</text>
<text x="1128.2" y="1281.6">-2</text>
<text x="1479.4" y="1261.8">0</text>
<text x="1599.7" y="1276.7">0</text>
<text x="1502.8" y="1361.1">2</text>
<text x="1389.0" y="1383.5">1</text>
<text x="1300.6" y="1448.1">0</text>
<text x="1325.4" y="1520.1">1</text>
<text x="1236.0" y="1602.1">0</text>
<text x="1029.8" y="1445.6">-1</text>
<text x="586.6" y="1713.1">0</text>
<text x="994.2" y="1759.8">0</text>
<text x="1068.8" y="1762.2">0</text>
</g>
</g>
<rect x="177.5" y="149.5" width="1674" height="2311" fill="none" stroke="#000" stroke-width="2.9"/>
<text transform="translate(30.21,265.49) scale(0.5609,0.5113)" font-size="100">10°N</text>
<text transform="translate(99.42,599.49) scale(0.5706,0.5141)" font-size="100">0°</text>
<text transform="translate(36.61,934.46) scale(0.5488,0.5127)" font-size="100">10°S</text>
<text transform="translate(36.56,1269.36) scale(0.5471,0.5127)" font-size="100">20°S</text>
<text transform="translate(37.32,1604.26) scale(0.5455,0.5127)" font-size="100">30°S</text>
<text transform="translate(36.70,1939.16) scale(0.5483,0.5127)" font-size="100">40°S</text>
<text transform="translate(37.50,2274.06) scale(0.5488,0.5127)" font-size="100">50°S</text>
<text transform="translate(209.26,2519.49) scale(0.5519,0.5070)" font-size="100">80°W</text>
<text transform="translate(543.60,2519.49) scale(0.5542,0.5070)" font-size="100">70°W</text>
<text transform="translate(878.50,2519.49) scale(0.5542,0.5070)" font-size="100">60°W</text>
<text transform="translate(1213.96,2519.49) scale(0.5519,0.5070)" font-size="100">50°W</text>
<text transform="translate(1548.46,2519.49) scale(0.5535,0.5070)" font-size="100">40°W</text>
<text transform="translate(1975.68,273.79) scale(0.5298,0.5143)" font-size="100">5</text>
<text transform="translate(1975.94,465.03) scale(0.5294,0.5294)" font-size="100">4</text>
<text transform="translate(1975.37,676.99) scale(0.5319,0.5070)" font-size="100">3</text>
<text transform="translate(1974.82,890.00) scale(0.5370,0.5143)" font-size="100">2</text>
<text transform="translate(1975.35,1102.20) scale(0.5186,0.5217)" font-size="100">1</text>
<text transform="translate(1974.88,1313.99) scale(0.5312,0.5070)" font-size="100">0</text>
<text transform="translate(1974.88,1526.50) scale(0.5312,0.5217)" font-size="100">-1</text>
<text transform="translate(1974.80,1738.50) scale(0.5500,0.5143)" font-size="100">-2</text>
<text transform="translate(1974.78,1949.99) scale(0.5563,0.5070)" font-size="100">-3</text>
<text transform="translate(1975.49,2163.03) scale(0.5280,0.5294)" font-size="100">-4</text>
<text transform="translate(1974.83,2373.49) scale(0.5432,0.5143)" font-size="100">-5</text>
<text transform="translate(1878.40,143.64) scale(0.5497,0.4840)" font-size="100">(°C)</text>
<rect x="1893.5" y="2333.79" width="51.5" height="21.81" fill="#053061"/>
<rect x="1893.5" y="2312.58" width="51.5" height="21.81" fill="#073467"/>
<rect x="1893.5" y="2291.36" width="51.5" height="21.81" fill="#0a3b70"/>
<rect x="1893.5" y="2270.15" width="51.5" height="21.81" fill="#0d3f76"/>
<rect x="1893.5" y="2248.94" width="51.5" height="21.81" fill="#10457e"/>
<rect x="1893.5" y="2227.73" width="51.5" height="21.81" fill="#134c87"/>
<rect x="1893.5" y="2206.52" width="51.5" height="21.81" fill="#15508d"/>
<rect x="1893.5" y="2185.30" width="51.5" height="21.81" fill="#195696"/>
<rect x="1893.5" y="2164.09" width="51.5" height="21.81" fill="#1b5a9c"/>
<rect x="1893.5" y="2142.88" width="51.5" height="21.81" fill="#1e61a5"/>
<rect x="1893.5" y="2121.67" width="51.5" height="21.81" fill="#2267ac"/>
<rect x="1893.5" y="2100.45" width="51.5" height="21.81" fill="#246aae"/>
<rect x="1893.5" y="2079.24" width="51.5" height="21.81" fill="#2870b1"/>
<rect x="1893.5" y="2058.03" width="51.5" height="21.81" fill="#2b73b3"/>
<rect x="1893.5" y="2036.82" width="51.5" height="21.81" fill="#2f79b5"/>
<rect x="1893.5" y="2015.61" width="51.5" height="21.81" fill="#337eb8"/>
<rect x="1893.5" y="1994.39" width="51.5" height="21.81" fill="#3681ba"/>
<rect x="1893.5" y="1973.18" width="51.5" height="21.81" fill="#3a87bd"/>
<rect x="1893.5" y="1951.97" width="51.5" height="21.81" fill="#3e8cbf"/>
<rect x="1893.5" y="1930.76" width="51.5" height="21.81" fill="#408fc1"/>
<rect x="1893.5" y="1909.55" width="51.5" height="21.81" fill="#4695c4"/>
<rect x="1893.5" y="1888.33" width="51.5" height="21.81" fill="#4c99c6"/>
<rect x="1893.5" y="1867.12" width="51.5" height="21.81" fill="#569fc9"/>
<rect x="1893.5" y="1845.91" width="51.5" height="21.81" fill="#5fa5cd"/>
<rect x="1893.5" y="1824.70" width="51.5" height="21.81" fill="#65a9cf"/>
<rect x="1893.5" y="1803.48" width="51.5" height="21.81" fill="#6eaed2"/>
<rect x="1893.5" y="1782.27" width="51.5" height="21.81" fill="#75b2d4"/>
<rect x="1893.5" y="1761.06" width="51.5" height="21.81" fill="#7eb8d7"/>
<rect x="1893.5" y="1739.85" width="51.5" height="21.81" fill="#87beda"/>
<rect x="1893.5" y="1718.64" width="51.5" height="21.81" fill="#8dc2dc"/>
<rect x="1893.5" y="1697.42" width="51.5" height="21.81" fill="#96c7df"/>
<rect x="1893.5" y="1676.21" width="51.5" height="21.81" fill="#9bc9e0"/>
<rect x="1893.5" y="1655.00" width="51.5" height="21.81" fill="#a2cde3"/>
<rect x="1893.5" y="1633.79" width="51.5" height="21.81" fill="#a9d1e5"/>
<rect x="1893.5" y="1612.58" width="51.5" height="21.81" fill="#aed3e6"/>
<rect x="1893.5" y="1591.36" width="51.5" height="21.81" fill="#b6d7e8"/>
<rect x="1893.5" y="1570.15" width="51.5" height="21.81" fill="#bddbea"/>
<rect x="1893.5" y="1548.94" width="51.5" height="21.81" fill="#c2ddec"/>
<rect x="1893.5" y="1527.73" width="51.5" height="21.81" fill="#cae1ee"/>
<rect x="1893.5" y="1506.52" width="51.5" height="21.81" fill="#cfe4ef"/>
<rect x="1893.5" y="1485.30" width="51.5" height="21.81" fill="#d4e6f1"/>
<rect x="1893.5" y="1464.09" width="51.5" height="21.81" fill="#d8e9f1"/>
<rect x="1893.5" y="1442.88" width="51.5" height="21.81" fill="#dbeaf2"/>
<rect x="1893.5" y="1421.67" width="51.5" height="21.81" fill="#e0ecf3"/>
<rect x="1893.5" y="1400.45" width="51.5" height="21.81" fill="#e3edf3"/>
<rect x="1893.5" y="1379.24" width="51.5" height="21.81" fill="#e7f0f4"/>
<rect x="1893.5" y="1358.03" width="51.5" height="21.81" fill="#ecf2f5"/>
<rect x="1893.5" y="1336.82" width="51.5" height="21.81" fill="#eff3f5"/>
<rect x="1893.5" y="1315.61" width="51.5" height="21.81" fill="#f3f5f6"/>
<rect x="1893.5" y="1294.39" width="51.5" height="21.81" fill="#f7f6f6"/>
<rect x="1893.5" y="1273.18" width="51.5" height="21.81" fill="#f8f4f2"/>
<rect x="1893.5" y="1251.97" width="51.5" height="21.81" fill="#f8f1ed"/>
<rect x="1893.5" y="1230.76" width="51.5" height="21.81" fill="#f9efe9"/>
<rect x="1893.5" y="1209.55" width="51.5" height="21.81" fill="#f9ebe3"/>
<rect x="1893.5" y="1188.33" width="51.5" height="21.81" fill="#fae8de"/>
<rect x="1893.5" y="1167.12" width="51.5" height="21.81" fill="#fbe6da"/>
<rect x="1893.5" y="1145.91" width="51.5" height="21.81" fill="#fbe3d4"/>
<rect x="1893.5" y="1124.70" width="51.5" height="21.81" fill="#fce0d0"/>
<rect x="1893.5" y="1103.48" width="51.5" height="21.81" fill="#fdddcb"/>
<rect x="1893.5" y="1082.27" width="51.5" height="21.81" fill="#fdd9c4"/>
<rect x="1893.5" y="1061.06" width="51.5" height="21.81" fill="#fcd5bf"/>
<rect x="1893.5" y="1039.85" width="51.5" height="21.81" fill="#fbceb7"/>
<rect x="1893.5" y="1018.64" width="51.5" height="21.81" fill="#facab1"/>
<rect x="1893.5" y="997.42" width="51.5" height="21.81" fill="#f9c4a9"/>
<rect x="1893.5" y="976.21" width="51.5" height="21.81" fill="#f8bda1"/>
<rect x="1893.5" y="955.00" width="51.5" height="21.81" fill="#f7b99c"/>
<rect x="1893.5" y="933.79" width="51.5" height="21.81" fill="#f6b394"/>
<rect x="1893.5" y="912.58" width="51.5" height="21.81" fill="#f5ac8b"/>
<rect x="1893.5" y="891.36" width="51.5" height="21.81" fill="#f5a886"/>
<rect x="1893.5" y="870.15" width="51.5" height="21.81" fill="#f2a17f"/>
<rect x="1893.5" y="848.94" width="51.5" height="21.81" fill="#f09c7b"/>
<rect x="1893.5" y="827.73" width="51.5" height="21.81" fill="#ec9374"/>
<rect x="1893.5" y="806.52" width="51.5" height="21.81" fill="#e98b6e"/>
<rect x="1893.5" y="785.30" width="51.5" height="21.81" fill="#e6866a"/>
<rect x="1893.5" y="764.09" width="51.5" height="21.81" fill="#e37e64"/>
<rect x="1893.5" y="742.88" width="51.5" height="21.81" fill="#e17860"/>
<rect x="1893.5" y="721.67" width="51.5" height="21.81" fill="#dd7059"/>
<rect x="1893.5" y="700.45" width="51.5" height="21.81" fill="#da6853"/>
<rect x="1893.5" y="679.24" width="51.5" height="21.81" fill="#d7634f"/>
<rect x="1893.5" y="658.03" width="51.5" height="21.81" fill="#d35a4a"/>
<rect x="1893.5" y="636.82" width="51.5" height="21.81" fill="#d05548"/>
<rect x="1893.5" y="615.61" width="51.5" height="21.81" fill="#cc4c44"/>
<rect x="1893.5" y="594.39" width="51.5" height="21.81" fill="#c84440"/>
<rect x="1893.5" y="573.18" width="51.5" height="21.81" fill="#c53e3d"/>
<rect x="1893.5" y="551.97" width="51.5" height="21.81" fill="#c13639"/>
<rect x="1893.5" y="530.76" width="51.5" height="21.81" fill="#bd2d35"/>
<rect x="1893.5" y="509.55" width="51.5" height="21.81" fill="#ba2832"/>
<rect x="1893.5" y="488.33" width="51.5" height="21.81" fill="#b61f2e"/>
<rect x="1893.5" y="467.12" width="51.5" height="21.81" fill="#b3192c"/>
<rect x="1893.5" y="445.91" width="51.5" height="21.81" fill="#ab162a"/>
<rect x="1893.5" y="424.70" width="51.5" height="21.81" fill="#a21328"/>
<rect x="1893.5" y="403.48" width="51.5" height="21.81" fill="#9c1127"/>
<rect x="1893.5" y="382.27" width="51.5" height="21.81" fill="#930e26"/>
<rect x="1893.5" y="361.06" width="51.5" height="21.81" fill="#8d0c25"/>
<rect x="1893.5" y="339.85" width="51.5" height="21.81" fill="#840924"/>
<rect x="1893.5" y="318.64" width="51.5" height="21.81" fill="#7c0722"/>
<rect x="1893.5" y="297.42" width="51.5" height="21.81" fill="#760521"/>
<rect x="1893.5" y="276.21" width="51.5" height="21.81" fill="#6d0220"/>
<rect x="1893.5" y="255.00" width="51.5" height="21.81" fill="#67001f"/>
<path d="M1893.5,256 L1919.2,152 L1945,256 Z" fill="#67001f"/>
<path d="M1893.5,2354 L1919.2,2459 L1945,2354 Z" fill="#053061"/>
<path d="M1893.5,255 L1919.2,152 L1945,255 L1945,2355 L1919.2,2459 L1893.5,2355 Z" fill="none" stroke="#000" stroke-width="3.2"/>
<line x1="1945" y1="255.1" x2="1961" y2="255.1" stroke="#000" stroke-width="2.4"/>
<line x1="1945" y1="445.3" x2="1961" y2="445.3" stroke="#000" stroke-width="2.4"/>
<line x1="1945" y1="658.3" x2="1961" y2="658.3" stroke="#000" stroke-width="2.4"/>
<line x1="1945" y1="870.8" x2="1961" y2="870.8" stroke="#000" stroke-width="2.4"/>
<line x1="1945" y1="1083.0" x2="1961" y2="1083.0" stroke="#000" stroke-width="2.4"/>
<line x1="1945" y1="1295.3" x2="1961" y2="1295.3" stroke="#000" stroke-width="2.4"/>
<line x1="1945" y1="1507.3" x2="1961" y2="1507.3" stroke="#000" stroke-width="2.4"/>
<line x1="1945" y1="1719.3" x2="1961" y2="1719.3" stroke="#000" stroke-width="2.4"/>
<line x1="1945" y1="1931.3" x2="1961" y2="1931.3" stroke="#000" stroke-width="2.4"/>
<line x1="1945" y1="2143.3" x2="1961" y2="2143.3" stroke="#000" stroke-width="2.4"/>
<line x1="1945" y1="2354.8" x2="1961" y2="2354.8" stroke="#000" stroke-width="2.4"/>
<g transform="translate(1620,2250) scale(0.11554)">
<path d="M200,760 C150,520 260,280 420,190 C520,140 590,132 650,135 C780,140 880,200 960,300 C1000,380 1012,450 1015,548 L1080,548 L855,745 L668,548 L745,548 C745,470 700,400 620,365 C560,345 480,355 420,385 C340,430 270,520 235,600 C212,660 205,720 200,760 Z" fill="none" stroke="#0a72b8" stroke-width="13"/>
<path d="M190,700 C195,850 240,990 330,1090 C440,1210 610,1280 800,1285 C1000,1285 1180,1170 1300,1040 C1420,900 1500,720 1530,560 L1535,465 L1610,465 L1400,255 L1175,465 L1250,465 C1245,560 1220,700 1150,830 C1060,990 940,1070 800,1085 C640,1105 480,1070 360,980 C270,910 215,830 195,760 Z" fill="#0a72b8"/>
<circle cx="855" cy="912" r="145" fill="#f39200"/>
<text x="272" y="806" font-size="205" font-weight="bold" font-style="italic" textLength="445" lengthAdjust="spacingAndGlyphs" fill="#111">INPE</text>
</g>
</svg></body></html>
